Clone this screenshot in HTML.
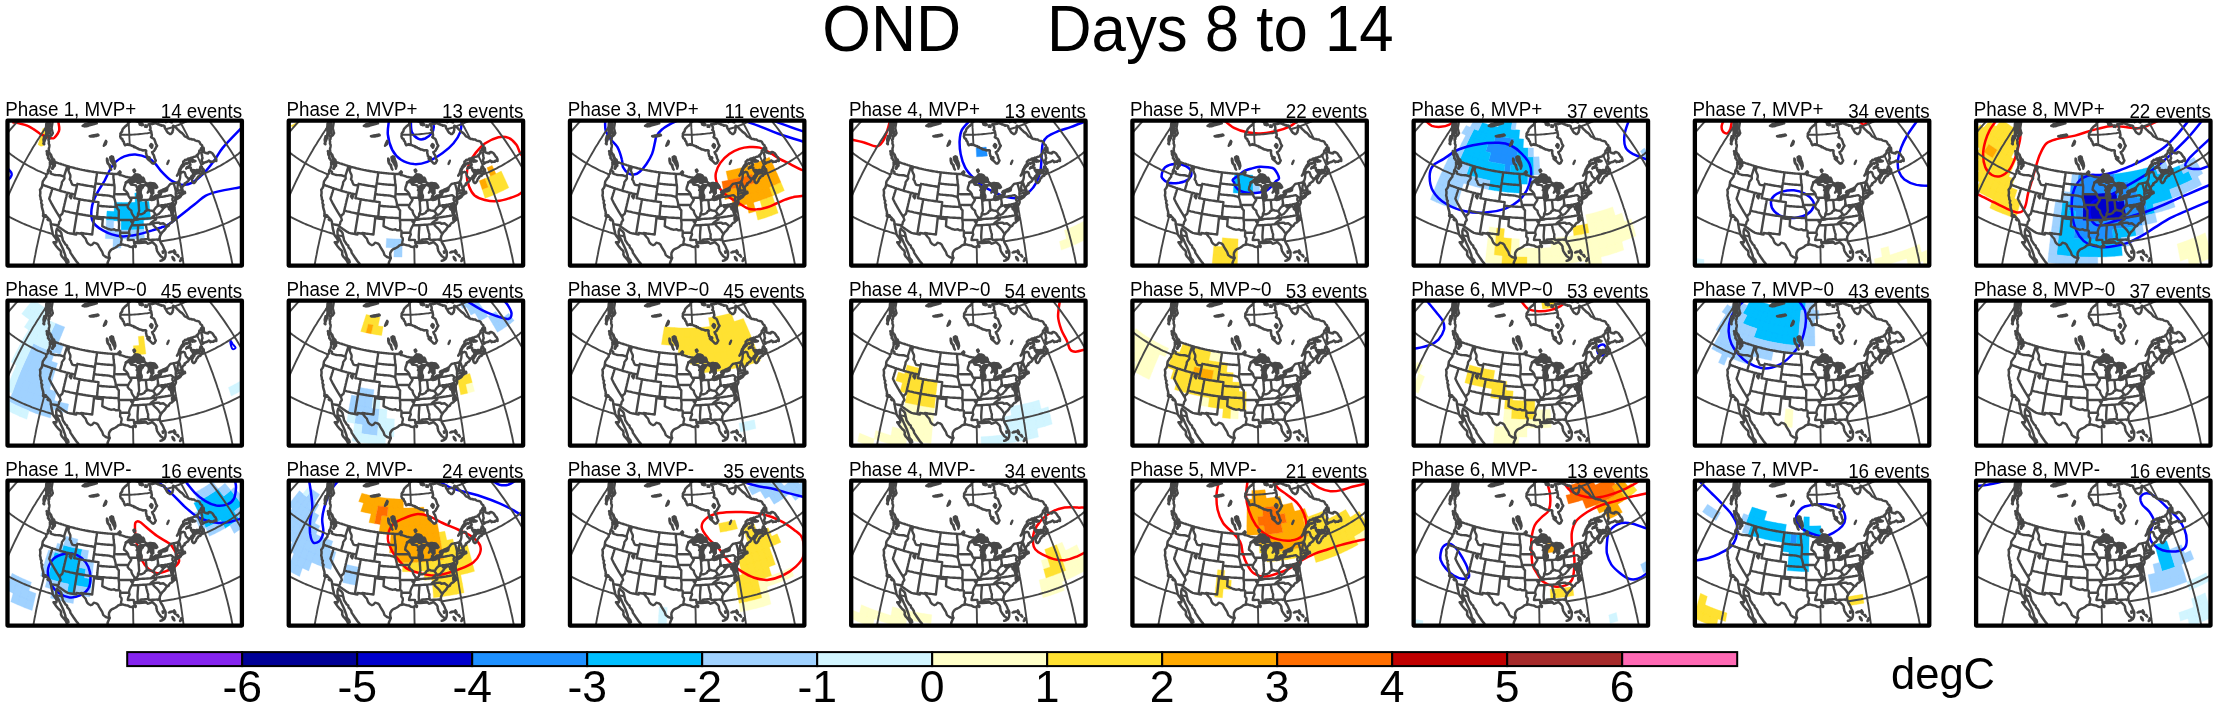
<!DOCTYPE html>
<html><head><meta charset="utf-8"><style>
html,body{margin:0;padding:0;background:#fff;}
svg{display:block;will-change:transform;}
text{font-family:"Liberation Sans",sans-serif;fill:#000;}
</style></head><body>
<svg width="2218" height="708" viewBox="0 0 2218 708">
<defs>
<clipPath id="pc"><rect x="0" y="0" width="234.4" height="144.9"/></clipPath>
<mask id="ocean" maskUnits="userSpaceOnUse" x="-10" y="-10" width="260" height="170"><rect x="-10" y="-10" width="260" height="170" fill="#fff"/><path fill="#000" fill-rule="nonzero" d="M34.1 -19.5L34.0 -18.4L33.8 -17.3L33.7 -16.2L33.6 -15.0L33.7 -14.1L33.9 -13.2L34.0 -12.3L34.5 -11.7L35.1 -11.2L35.6 -10.7L36.1 -10.2L36.7 -9.7L37.1 -8.9L37.6 -8.2L38.1 -7.4L38.6 -6.7L38.8 -5.5L39.1 -4.3L39.3 -3.1L39.4 -1.9L39.7 -0.0L39.6 1.2L39.3 2.7L38.8 4.6L38.7 6.6L38.6 8.7L38.7 10.5L38.5 12.0L38.5 13.9L39.3 14.3L40.1 14.8L41.1 16.0L41.9 16.5L41.6 17.8L41.0 19.2L41.4 21.0L41.4 22.6L41.8 24.4L41.8 26.1L41.7 27.6L41.4 29.1L41.1 30.6L41.3 31.3L42.4 32.8L43.5 34.0L44.2 35.5L44.9 37.0L45.7 38.5L46.9 39.6L47.0 40.6L47.3 41.1L47.7 42.2L47.1 43.4L47.2 45.0L46.4 46.3L45.2 47.6L45.1 46.2L46.1 45.0L46.2 44.3L45.0 43.6L43.8 42.9L42.6 41.7L42.2 43.1L42.1 45.0L41.7 46.8L41.5 48.3L41.1 49.5L40.6 51.1L39.9 52.8L39.0 54.5L38.2 56.1L37.3 57.7L36.3 59.3L35.3 60.7L35.0 62.4L35.0 63.9L34.6 65.7L33.8 67.4L32.5 69.1L32.8 71.0L32.8 72.9L32.5 74.7L33.1 77.0L33.2 78.9L34.1 80.1L33.7 81.5L33.9 83.1L34.8 84.2L34.2 84.8L34.4 86.4L34.9 88.5L35.5 90.3L35.8 91.9L35.6 93.2L35.9 93.6L37.1 94.2L38.4 94.7L39.0 95.9L40.0 96.7L40.9 97.6L41.1 98.2L42.1 98.9L42.7 99.9L43.2 101.5L43.3 102.7L43.4 103.4L43.7 105.4L44.0 107.4L44.5 109.4L45.0 111.4L45.2 113.3L46.6 115.6L48.4 117.9L49.2 120.0L48.9 121.7L46.0 121.5L47.1 123.1L48.6 125.3L50.5 127.6L53.0 130.0L53.6 132.0L53.4 133.7L54.4 135.7L56.4 137.9L58.1 140.1L59.3 142.5L61.0 141.4L60.4 139.5L58.7 137.7L57.9 136.1L57.8 134.7L57.1 132.7L56.4 130.8L55.7 128.8L54.8 126.8L53.8 124.7L52.9 122.7L52.0 120.7L51.1 118.6L49.9 116.5L48.8 114.3L48.8 112.5L48.7 110.6L49.2 108.9L49.6 107.8L50.7 109.2L52.6 110.5L53.8 112.3L54.1 113.8L54.4 115.7L55.0 117.7L55.3 119.6L56.8 121.8L58.1 123.9L59.5 124.9L59.9 126.8L61.3 128.2L62.6 130.3L63.0 132.2L64.4 134.2L65.8 136.3L67.2 138.3L68.6 140.3L70.4 142.4L70.9 143.5L72.7 146.3L73.2 148.1L74.0 150.0L74.2 151.7L73.8 153.1L72.7 154.3L73.2 155.7L74.8 157.7L76.4 158.6L78.7 160.3L80.7 162.2L83.4 163.2L86.1 164.8L88.5 166.4L91.5 168.0L94.6 169.3L96.4 169.9L98.1 170.5L99.9 171.1L101.6 171.7L103.4 172.5L105.1 172.2L106.9 171.9L109.4 171.0L112.2 171.4L114.7 173.4L116.5 174.7L118.2 176.1L120.4 177.4L122.5 178.6L124.7 179.9L126.5 180.2L128.3 180.4L130.0 180.7L131.8 180.9L133.6 181.2L135.4 181.1L137.2 181.0L139.0 180.8L140.8 180.7L142.5 180.6L144.3 180.4L146.1 180.2L147.9 180.1L147.8 178.4L147.7 176.8L147.7 175.2L147.6 173.5L147.5 171.9L145.7 171.6L144.0 171.4L142.2 171.1L140.4 170.8L138.7 171.1L136.9 171.4L135.2 171.6L133.4 171.8L131.7 172.1L132.3 169.7L132.4 168.0L132.6 166.3L133.2 164.6L133.9 162.9L134.3 161.1L134.8 159.4L135.3 157.7L135.7 155.9L136.0 154.2L136.3 152.4L134.6 152.4L132.9 152.3L131.2 152.7L129.5 153.1L126.7 153.6L125.0 154.7L124.6 156.4L124.1 158.8L123.4 160.6L121.0 162.6L119.3 163.0L116.8 163.5L114.0 164.0L110.9 164.5L109.5 163.9L108.1 162.9L106.0 161.8L105.0 160.7L104.0 159.3L103.3 157.9L101.7 156.1L100.7 154.4L100.1 152.3L99.5 149.8L99.6 147.3L100.0 144.6L100.1 142.1L100.8 140.4L101.6 138.6L102.1 137.1L101.7 135.8L101.4 134.0L101.6 132.2L102.5 130.5L103.2 129.5L104.5 128.4L106.2 127.8L108.1 126.8L109.6 125.7L110.4 125.0L111.7 124.3L113.1 124.0L114.3 123.8L115.8 123.9L117.4 124.4L118.4 124.6L120.0 124.7L121.3 125.4L122.6 126.1L124.2 126.3L125.3 125.9L126.1 125.3L127.4 126.0L128.1 126.3L128.3 125.2L127.0 124.2L127.0 123.1L126.7 122.1L127.6 121.5L128.8 121.2L130.1 121.4L131.2 121.7L131.5 120.4L132.0 121.6L133.3 121.6L134.9 121.1L136.4 120.8L137.4 120.9L138.7 121.5L139.7 122.4L140.2 123.0L141.6 122.7L143.2 121.9L144.4 121.4L145.4 121.8L146.8 123.1L148.1 124.4L148.9 125.8L148.9 127.6L149.3 128.6L149.4 129.7L149.8 130.7L150.7 132.0L151.5 133.4L152.4 134.3L153.0 135.3L154.7 136.5L155.8 137.6L157.1 137.3L157.7 136.5L158.0 135.2L158.1 133.2L158.1 131.4L157.3 129.7L156.5 128.0L155.7 126.0L155.0 124.6L153.9 123.0L152.9 120.9L152.4 119.2L152.1 118.1L152.2 116.7L152.6 115.2L153.5 113.2L154.4 112.0L156.2 110.1L157.7 108.5L158.4 107.0L159.7 105.5L161.2 105.0L161.6 103.8L162.9 102.3L164.8 101.4L165.8 100.1L167.7 98.8L167.6 97.5L166.8 96.2L165.8 94.3L165.2 93.0L164.3 93.1L164.1 91.9L163.9 90.8L163.7 89.3L163.2 88.3L162.7 86.9L162.8 85.8L162.8 84.6L163.3 83.6L163.7 84.1L163.3 85.7L163.4 86.8L164.3 88.1L164.8 89.1L165.0 91.0L165.2 92.4L165.9 90.8L166.4 89.2L166.8 87.6L166.5 85.8L165.4 84.9L164.7 83.5L164.8 82.4L165.4 83.4L166.0 84.0L166.7 85.0L166.7 85.2L167.6 83.7L168.4 82.0L168.4 80.5L168.2 79.2L167.5 79.2L167.8 78.7L168.1 77.9L168.6 77.2L169.1 76.8L169.8 76.2L170.5 75.7L172.0 75.2L173.1 74.7L174.0 74.3L174.9 73.6L176.1 72.9L177.6 72.3L177.3 71.1L176.6 71.0L176.1 72.2L175.5 71.6L174.4 70.5L174.6 69.7L175.1 69.2L174.3 68.6L174.5 67.8L174.9 66.4L175.1 65.4L176.0 64.6L177.1 63.9L177.6 63.0L178.4 62.0L179.3 61.5L180.1 60.9L180.9 60.1L181.7 59.2L181.6 58.7L181.2 58.1L182.3 57.3L183.6 56.5L184.8 55.3L185.6 54.2L186.1 53.5L187.0 55.1L186.0 56.1L185.1 57.1L184.5 58.5L184.2 59.8L184.7 61.6L185.8 62.3L186.9 62.5L187.8 61.3L188.4 59.9L189.5 57.9L190.0 57.0L191.0 56.2L192.5 54.8L193.6 53.6L194.7 52.4L194.3 51.4L195.2 50.6L196.2 49.4L195.9 48.3L194.6 47.3L193.4 46.2L192.8 47.2L192.5 48.9L192.7 50.8L191.9 51.9L190.2 52.8L188.5 52.8L187.1 52.6L185.7 52.3L184.8 51.1L183.6 49.9L183.5 46.8L182.4 46.6L180.5 46.9L179.0 47.6L179.5 46.6L181.2 45.3L182.8 43.9L182.9 42.9L182.0 42.3L180.8 42.3L179.7 42.6L178.6 42.9L177.0 44.0L175.7 45.5L174.2 47.1L172.8 49.5L171.7 51.7L170.9 53.8L169.7 54.9L170.5 53.5L171.5 51.7L171.8 49.4L172.9 47.5L173.9 45.3L175.3 43.7L175.7 42.8L175.9 40.8L177.4 39.6L178.4 39.2L179.4 38.8L180.5 38.4L181.5 38.1L182.6 37.8L183.6 37.4L184.6 37.0L185.6 36.6L186.6 36.2L187.6 35.7L188.6 35.3L189.6 35.0L190.7 33.8L191.4 31.8L192.5 29.7L193.3 28.6L193.9 27.9L194.8 26.2L194.3 24.4L193.1 23.0L192.4 21.3L190.1 20.4L188.0 19.7L186.4 19.3L184.5 18.9L182.5 18.2L180.4 17.5L178.7 16.7L177.0 15.4L176.1 13.8L174.8 12.4L173.1 11.1L171.5 9.8L170.1 8.4L168.5 7.1L166.9 5.8L165.8 4.8L165.6 5.5L165.6 7.0L165.6 8.5L165.7 10.0L165.1 11.3L164.2 12.3L163.4 13.3L162.1 13.0L160.5 12.3L159.3 11.2L158.4 9.3L157.4 7.7L157.0 5.6L155.6 5.3L154.2 4.9L152.7 4.2L151.6 3.8L150.5 3.3L149.5 3.0L148.5 2.7L147.6 2.6L146.7 2.4L145.8 2.8L144.8 3.2L144.0 3.1L143.1 3.1L142.3 3.1L141.4 3.8L142.6 6.7L142.5 9.2L144.2 11.8L144.4 14.2L143.8 16.5L145.0 17.2L146.1 17.9L147.3 19.8L148.2 21.8L149.0 23.4L149.3 25.2L148.6 26.8L147.9 28.4L147.0 29.2L146.2 30.1L144.7 31.4L145.7 33.1L146.5 34.8L147.0 36.5L147.6 38.3L148.0 40.1L147.9 41.9L146.7 42.8L144.6 42.8L144.2 41.7L142.5 40.1L141.2 38.8L140.0 37.9L139.7 36.1L139.4 34.0L138.8 31.9L138.6 30.1L137.9 29.7L136.0 29.7L134.9 29.4L133.8 29.2L132.1 28.6L130.8 28.2L129.5 27.8L128.2 27.0L126.9 26.2L125.8 25.5L124.6 24.9L123.4 24.5L122.2 24.2L121.2 23.9L120.2 23.6L118.9 24.0L117.6 24.3L116.8 22.9L115.8 21.1L115.1 18.7L113.9 18.4L113.0 17.6L112.9 15.8L113.1 14.1L113.4 12.0L114.3 10.3L115.2 8.9L116.3 7.2L117.3 5.9L118.1 5.2L119.0 4.5L120.1 3.1L120.2 1.7L121.1 1.2L122.0 0.8L122.9 0.3L123.8 -0.1L124.8 -0.5L126.1 -1.6L126.2 -3.3L126.2 -5.0L126.4 -6.7L126.6 -8.4L125.8 -8.9L125.0 -9.5L124.2 -10.1L123.5 -10.6L122.7 -11.2L122.0 -11.8L121.2 -12.4L120.5 -13.0L119.8 -13.1L119.1 -13.3L118.4 -13.4L117.7 -13.6L117.1 -13.7L116.4 -13.9L115.7 -14.1L115.0 -14.3L114.4 -14.4L113.7 -14.6L113.0 -14.8L112.4 -15.0L111.7 -15.2L111.0 -15.4L110.4 -15.6L109.7 -15.8L109.1 -16.0L108.5 -16.2L107.8 -16.4L107.2 -16.6L106.5 -16.7L105.9 -16.7L105.2 -16.8L104.6 -16.8L103.9 -16.9L103.3 -17.0L102.6 -17.1L102.0 -17.2L101.3 -17.2L100.7 -17.3L100.1 -17.4L99.4 -17.5L98.8 -17.6L98.1 -17.7L97.5 -17.8L96.9 -18.0L96.2 -18.1L95.6 -18.2L95.0 -18.3L94.3 -18.4L93.7 -18.6L93.1 -18.7L92.5 -18.8L91.8 -19.0L91.2 -19.1L90.6 -19.3L90.0 -19.4L89.4 -19.6L88.7 -19.7L88.1 -19.9L87.5 -20.1L86.9 -20.2L86.3 -20.4L85.7 -20.6L85.1 -20.8L84.5 -21.0L83.9 -21.1L83.3 -21.3L82.7 -21.5L82.2 -21.7L81.6 -22.0L81.1 -22.3L80.5 -22.6L80.0 -22.8L79.5 -23.1L78.9 -23.4L78.4 -23.7L77.9 -24.0L77.4 -24.3L76.9 -24.6L76.4 -24.9L75.9 -25.2L75.4 -25.5L74.9 -25.8L74.4 -26.1L73.9 -26.4L73.5 -26.8L73.0 -27.1L72.5 -27.4L72.1 -27.7L71.6 -28.1L71.2 -28.4L70.7 -28.7L70.3 -29.1L69.8 -29.4L69.4 -29.7L69.0 -30.1L68.5 -30.4L68.1 -30.8L67.7 -31.1L67.3 -31.4L66.9 -31.8L66.5 -32.2L66.1 -32.5L65.7 -32.9L65.3 -33.2L64.9 -33.6L64.6 -33.9L64.2 -34.3L63.8 -34.7L63.5 -35.1L63.1 -35.4L62.8 -35.8L62.5 -36.2L62.2 -36.6L61.8 -37.0L61.5 -37.4L61.2 -37.8L60.9 -38.2L60.6 -38.6L60.3 -39.0L60.0 -39.3L59.8 -39.7L59.5 -40.1L59.2 -40.5L59.0 -40.9L58.7 -41.3L58.4 -41.7L58.2 -42.2L58.0 -42.6L57.7 -43.0L57.5 -43.4L57.3 -43.8L57.1 -44.2L56.8 -44.6L56.6 -45.0L56.4 -45.4L56.2 -45.8L56.0 -46.2L55.9 -46.6L55.7 -47.0L55.5 -47.5L54.5 -47.3L53.4 -47.2L52.4 -47.1L51.3 -47.0L50.3 -46.9L49.2 -46.8L48.2 -46.7L47.1 -46.7L46.1 -46.6L45.0 -46.6L44.0 -46.5L42.9 -46.5L41.9 -46.4L40.9 -46.4L39.8 -46.4L38.8 -46.4L37.8 -46.4L36.7 -46.4L35.7 -46.4L34.7 -46.5L33.7 -46.5L32.7 -46.5L31.7 -46.6L30.7 -46.6L30.6 -46.0L30.5 -45.3L30.4 -44.7L30.4 -44.0L30.3 -43.4L30.3 -42.7L30.3 -42.1L30.2 -41.4L30.2 -40.7L30.2 -40.1L30.2 -39.4L30.2 -38.7L30.2 -38.1L30.3 -37.4L30.3 -36.7L30.4 -36.0L30.4 -35.4L30.5 -34.7L30.5 -34.0L30.6 -33.3L30.7 -32.6L30.8 -32.0L30.9 -31.3L31.0 -30.6L31.2 -29.9L31.3 -29.2L31.4 -28.5L31.6 -27.8L31.8 -27.1L31.9 -26.4L32.1 -25.8L32.3 -25.1L32.5 -24.4L32.7 -23.7L32.9 -23.0L33.1 -22.3L33.4 -21.6L33.6 -20.9L33.9 -20.2L34.1 -19.5ZM39.1 30.5L39.5 31.9L39.5 33.5L40.4 35.5L41.0 37.3L41.7 38.9L42.8 40.9L44.1 42.2L45.0 43.0L45.9 42.1L45.4 40.4L44.7 38.1L43.8 35.8L42.7 33.7L41.4 32.3L40.3 31.4L39.1 30.5ZM36.8 15.5L36.3 17.1L36.0 19.0L36.3 21.7L36.6 23.9L36.8 22.3L36.8 20.7L37.2 19.3L38.3 17.8L39.0 16.9L37.9 16.2L36.8 15.5ZM39.4 1.1L38.9 3.3L38.8 5.0L38.6 7.0L38.1 8.4L40.4 7.2L41.0 5.1L41.2 3.5L41.2 1.8L40.3 1.5L39.4 1.1ZM39.9 8.6L39.3 9.9L38.9 11.8L38.7 13.8L40.2 13.8L41.1 11.8L40.9 10.0L39.9 8.6ZM195.0 43.1L194.3 39.8L194.9 37.5L194.9 35.5L194.3 32.9L194.2 29.8L194.8 28.7L195.3 27.6L195.9 26.5L196.4 28.7L196.3 30.8L198.1 32.4L199.9 32.7L201.0 32.1L202.2 31.5L203.4 31.7L205.6 33.9L206.9 35.3L208.1 36.7L208.8 38.8L208.8 40.3L207.6 39.9L206.2 40.2L205.1 41.4L203.5 40.7L202.7 41.6L201.7 40.0L200.7 40.5L199.7 41.0L198.7 41.5L197.5 42.0L196.2 42.6L195.0 43.1ZM187.9 40.3L186.0 39.7L184.8 39.7L183.6 39.7L182.4 39.7L181.2 39.7L181.1 40.3L182.4 40.4L183.7 40.5L185.2 40.5L186.8 40.5L187.9 40.3ZM191.5 50.9L190.9 49.4L189.7 49.5L188.5 49.6L187.3 49.8L185.6 49.4L185.4 50.8L187.1 51.4L188.8 51.1L190.5 51.5L191.5 50.9ZM168.1 78.8L169.4 78.4L170.6 77.7L172.1 76.8L173.3 75.7L172.2 76.3L171.2 76.6L169.4 77.2L168.6 77.6L168.0 78.3L168.1 78.8ZM136.4 -0.3L135.7 -0.0L134.9 0.3L134.2 0.5L133.4 0.8L132.6 0.8L131.7 0.8L130.9 0.8L130.1 0.8L129.2 0.2L128.3 -0.4L127.4 -1.0L126.6 -1.6L126.4 -3.3L126.2 -5.0L126.9 -5.4L127.7 -5.8L128.4 -6.2L129.1 -6.6L129.7 -7.0L130.5 -6.7L131.3 -6.5L132.1 -6.2L132.9 -6.0L133.8 -5.7L134.8 -4.2L136.0 -2.6L136.4 -0.3ZM135.6 4.0L134.8 4.2L134.0 4.5L133.1 3.9L132.1 3.3L132.9 2.7L133.6 2.1L135.1 3.0L135.6 4.0ZM139.4 5.9L138.6 6.0L137.8 6.1L137.9 4.9L139.3 5.2L139.4 5.9ZM144.7 26.0L143.8 26.9L142.9 25.2L143.7 23.3L144.8 24.6L144.7 26.0ZM142.2 38.0L140.2 37.9L140.7 36.7L142.7 36.8L142.2 38.0ZM160.9 -0.3L160.4 0.4L159.8 1.1L158.9 1.0L158.0 1.0L157.1 0.9L156.2 0.8L155.2 0.7L154.3 0.6L153.4 0.4L152.6 0.4L151.7 0.4L150.8 0.4L149.9 0.3L149.0 0.1L148.1 -0.0L147.2 -0.2L146.3 -0.7L145.3 -1.2L144.3 -1.7L143.3 -2.2L142.1 -3.7L140.9 -5.2L139.7 -6.7L138.5 -8.2L139.2 -8.5L139.9 -8.8L140.5 -9.2L141.2 -9.5L141.8 -9.8L142.5 -10.2L143.1 -10.5L143.7 -10.9L144.3 -11.3L145.0 -11.6L145.6 -12.0L146.2 -12.3L146.8 -12.7L147.4 -13.1L148.0 -13.5L148.6 -13.8L149.4 -13.5L150.3 -13.2L151.2 -12.8L152.1 -12.5L153.0 -12.2L153.9 -11.9L154.9 -11.6L155.8 -11.3L156.7 -11.0L157.7 -10.7L158.6 -10.4L159.5 -10.2L160.2 -8.6L160.8 -6.9L161.4 -5.3L162.0 -3.7L161.7 -2.6L161.3 -1.5L160.9 -0.3ZM164.4 1.8L162.9 1.2L164.0 0.5L164.4 1.8ZM35.5 95.1L38.1 95.9L37.9 96.2L35.8 95.6L35.5 95.1ZM40.0 98.8L40.7 99.6L40.9 99.5L40.0 98.8ZM143.2 150.7L144.9 148.6L147.2 147.1L149.5 146.0L151.4 145.3L154.1 144.8L155.8 144.7L157.4 144.7L160.5 145.3L162.2 145.7L163.9 146.1L166.6 146.4L169.8 147.4L172.0 148.1L174.3 148.8L177.1 149.6L179.7 150.8L178.0 151.7L176.4 152.5L174.6 152.9L172.9 153.3L171.1 153.6L168.1 154.3L166.8 151.6L163.9 149.3L161.2 149.4L158.8 149.4L156.5 149.3L154.7 148.2L152.4 148.8L149.8 150.2L147.6 150.4L145.4 150.5L143.2 150.7ZM161.4 131.8L163.0 131.0L164.6 130.9L162.7 131.6L161.4 131.8ZM167.5 133.1L165.9 130.9L166.7 129.6L167.9 131.6L167.5 133.1ZM166.9 139.6L165.4 138.1L164.9 136.2L166.3 137.6L166.9 139.6ZM171.1 136.0L169.2 134.2L170.2 134.4L171.1 136.0ZM172.6 140.3L173.6 137.6L174.1 139.0L172.6 140.3ZM184.2 150.8L186.1 150.5L188.0 150.2L189.9 149.9L191.8 149.6L193.4 149.6L195.1 149.6L196.7 149.6L199.0 151.7L197.4 152.4L195.8 153.1L194.1 153.7L192.5 154.4L190.8 155.0L189.0 155.5L187.1 155.9L185.2 156.3L183.4 156.6L181.5 157.0L179.6 157.4L180.1 155.9L182.2 153.4L184.2 150.8ZM166.5 159.2L168.2 158.9L169.9 158.6L171.5 158.3L173.2 158.0L173.4 160.0L171.6 160.4L169.8 160.7L168.0 161.0L166.5 159.2ZM196.5 -8.9L195.5 -9.0L194.4 -9.0L193.3 -9.0L192.3 -9.0L191.2 -9.2L190.1 -9.3L189.0 -9.4L187.9 -9.6L186.9 -9.8L185.4 -10.4L183.9 -11.1L182.5 -11.8L181.0 -12.5L179.3 -13.6L177.6 -14.6L175.9 -15.7L174.3 -16.8L173.1 -18.2L172.0 -19.6L170.8 -20.9L169.7 -22.3L168.6 -23.7L167.4 -25.0L166.3 -26.4L165.1 -27.7L164.0 -29.0L162.8 -30.4L163.3 -30.6L163.8 -30.9L164.2 -31.2L164.7 -31.4L165.2 -31.7L165.6 -32.0L166.1 -32.3L166.6 -32.6L167.0 -32.8L167.5 -33.1L167.9 -33.4L168.4 -33.7L168.8 -34.0L169.2 -34.3L169.6 -34.6L170.1 -34.9L170.5 -35.2L170.9 -35.5L171.3 -35.9L171.7 -36.2L172.1 -36.5L172.5 -36.8L172.9 -37.1L173.3 -37.5L173.7 -37.8L174.1 -38.1L174.5 -38.4L174.9 -38.8L175.2 -39.1L175.6 -39.4L175.9 -39.8L176.3 -40.1L176.7 -40.5L177.0 -40.8L177.3 -41.2L177.7 -41.5L178.0 -41.8L178.3 -42.2L178.7 -42.6L179.0 -42.9L179.3 -43.3L179.6 -43.6L179.9 -44.0L180.2 -44.4L180.5 -44.7L180.8 -45.1L181.1 -45.5L181.4 -45.8L181.6 -46.2L181.9 -46.6L182.2 -46.9L182.4 -47.3L182.7 -47.7L183.0 -48.1L183.2 -48.5L183.4 -48.8L184.1 -47.9L184.7 -47.0L185.3 -46.1L185.9 -45.2L186.5 -44.2L187.0 -43.3L187.6 -42.3L188.1 -41.4L188.6 -40.4L189.1 -39.4L189.6 -38.4L190.1 -37.3L190.5 -36.3L191.0 -35.3L191.4 -34.2L191.8 -33.2L192.2 -32.1L192.6 -31.0L193.0 -29.9L193.3 -28.8L193.6 -27.7L193.9 -26.6L194.2 -25.5L194.5 -24.4L194.8 -23.2L195.0 -22.1L195.2 -20.9L195.5 -19.8L195.6 -18.6L195.8 -17.4L196.0 -16.2L196.1 -15.0L196.2 -13.8L196.3 -12.6L196.4 -11.4L196.5 -10.2L196.5 -8.9Z"/></mask>
<g id="map" fill="none" stroke="#474747" stroke-width="1.9" stroke-linejoin="round" stroke-linecap="round">
<path mask="url(#ocean)" d="M-93.7 88.9L-93.6 86.1L-93.5 83.4L-93.4 80.6L-93.2 77.8L-92.9 75.1L-92.5 72.3L-92.1 69.5L-91.6 66.8L-91.1 64.0L-90.5 61.2L-89.8 58.5L-89.1 55.8L-88.3 53.0L-87.4 50.3L-86.5 47.6L-85.5 44.9L-84.5 42.2L-83.4 39.5L-82.2 36.9L-81.0 34.2L-79.7 31.6L-78.4 29.0L-76.9 26.4L-75.5 23.8L-74.0 21.2L-72.4 18.7L-70.7 16.1L-69.0 13.6L-67.3 11.1L-65.5 8.7L-63.6 6.2L-61.7 3.8L-59.7 1.4L-57.7 -1.0L-55.6 -3.3L-53.5 -5.6L-51.3 -7.9L-49.1 -10.2L-46.8 -12.4L-44.4 -14.7L-42.1 -16.8L-39.6 -19.0L-37.1 -21.1L-34.6 -23.2L-32.0 -25.3L-29.4 -27.3L-26.8 -29.3L-24.0 -31.2L-21.3 -33.1L-18.5 -35.0L-15.7 -36.9L-12.8 -38.7L-9.9 -40.5L-6.9 -42.2L-3.9 -43.9L-0.9 -45.6L2.2 -47.2L5.3 -48.8L8.4 -50.3L11.5 -51.8L14.7 -53.3L18.0 -54.7L21.2 -56.1L24.5 -57.4L27.8 -58.7L31.2 -60.0L34.5 -61.2L37.9 -62.4L41.4 -63.5L44.8 -64.6L48.3 -65.6L51.7 -66.6L55.2 -67.5L58.8 -68.4L62.3 -69.3L65.9 -70.1L69.4 -70.8L73.0 -71.5L76.6 -72.2L80.2 -72.8L83.8 -73.4L87.5 -73.9L91.1 -74.4L94.8 -74.8L98.4 -75.2M-83.9 124.5L-83.9 121.7L-83.8 118.9L-83.7 116.1L-83.4 113.3L-83.2 110.5L-82.8 107.7L-82.4 104.8L-82.0 102.0L-81.5 99.1L-80.9 96.3L-80.2 93.4L-79.5 90.6L-78.8 87.7L-78.0 84.8L-77.1 82.0L-76.2 79.1L-75.2 76.2L-74.1 73.4L-73.0 70.5L-71.8 67.7L-70.6 64.8L-69.3 62.0L-68.0 59.1L-66.6 56.3L-65.1 53.5L-63.6 50.6L-62.1 47.8L-60.4 45.0L-58.8 42.3L-57.0 39.5L-55.3 36.7L-53.4 34.0L-51.5 31.2L-49.6 28.5L-47.6 25.8L-45.6 23.1L-43.5 20.5L-41.4 17.8L-39.2 15.2L-37.0 12.6L-34.7 10.0L-32.4 7.5L-30.0 4.9L-27.6 2.4L-25.1 -0.1L-22.6 -2.6L-20.1 -5.0L-17.5 -7.4L-14.9 -9.8L-12.2 -12.2L-9.5 -14.5L-6.8 -16.8L-4.0 -19.1L-1.2 -21.3L1.7 -23.5L4.5 -25.7L7.5 -27.8L10.4 -29.9L13.4 -32.0L16.4 -34.0L19.5 -36.0L22.5 -38.0L25.7 -39.9L28.8 -41.8L32.0 -43.7L35.1 -45.5L38.4 -47.3L41.6 -49.0L44.8 -50.7L48.1 -52.4L51.4 -54.0L54.8 -55.6L58.1 -57.1L61.5 -58.6L64.8 -60.1L68.2 -61.5L71.6 -62.8L75.0 -64.1L78.5 -65.4L81.9 -66.7L85.4 -67.8L88.8 -69.0L92.3 -70.1L95.8 -71.1L99.3 -72.1M-60.5 157.2L-60.5 154.4L-60.4 151.6L-60.3 148.8L-60.1 146.0L-59.8 143.1L-59.5 140.2L-59.2 137.3L-58.8 134.4L-58.3 131.5L-57.8 128.5L-57.2 125.6L-56.6 122.6L-56.0 119.6L-55.2 116.6L-54.5 113.6L-53.6 110.6L-52.8 107.5L-51.8 104.5L-50.8 101.5L-49.8 98.4L-48.7 95.4L-47.6 92.3L-46.4 89.2L-45.2 86.2L-43.9 83.1L-42.6 80.1L-41.2 77.0L-39.7 73.9L-38.3 70.9L-36.7 67.8L-35.2 64.8L-33.6 61.7L-31.9 58.7L-30.2 55.7L-28.4 52.6L-26.6 49.6L-24.8 46.6L-22.9 43.6L-21.0 40.6L-19.0 37.7L-17.0 34.7L-15.0 31.8L-12.9 28.8L-10.7 25.9L-8.6 23.0L-6.4 20.2L-4.1 17.3L-1.8 14.5L0.5 11.7L2.8 8.9L5.2 6.1L7.6 3.4L10.1 0.6L12.6 -2.1L15.1 -4.7L17.6 -7.4L20.2 -10.0L22.8 -12.6L25.5 -15.2L28.1 -17.7L30.8 -20.2L33.5 -22.7L36.3 -25.1L39.1 -27.5L41.9 -29.9L44.7 -32.2L47.5 -34.5L50.4 -36.8L53.2 -39.0L56.1 -41.2L59.1 -43.4L62.0 -45.5L64.9 -47.6L67.9 -49.6L70.9 -51.6L73.9 -53.6L76.9 -55.5L79.9 -57.3L82.9 -59.2L86.0 -61.0L89.0 -62.7L92.1 -64.4L95.2 -66.1L98.2 -67.7L101.3 -69.3M-25.0 184.8L-25.0 182.0L-24.9 179.2L-24.8 176.4L-24.6 173.5L-24.4 170.6L-24.2 167.7L-23.9 164.7L-23.6 161.7L-23.2 158.7L-22.8 155.7L-22.4 152.7L-21.9 149.6L-21.4 146.5L-20.8 143.4L-20.2 140.3L-19.5 137.1L-18.8 133.9L-18.1 130.8L-17.3 127.6L-16.4 124.4L-15.6 121.1L-14.7 117.9L-13.7 114.7L-12.7 111.4L-11.7 108.1L-10.6 104.9L-9.5 101.6L-8.4 98.3L-7.2 95.0L-6.0 91.7L-4.7 88.4L-3.4 85.1L-2.1 81.8L-0.8 78.5L0.6 75.3L2.1 72.0L3.6 68.7L5.1 65.4L6.6 62.1L8.2 58.8L9.8 55.6L11.4 52.3L13.1 49.0L14.8 45.8L16.5 42.6L18.3 39.4L20.1 36.2L21.9 33.0L23.8 29.8L25.6 26.6L27.6 23.5L29.5 20.4L31.5 17.3L33.4 14.2L35.5 11.1L37.5 8.1L39.6 5.0L41.6 2.0L43.8 -0.9L45.9 -3.9L48.0 -6.8L50.2 -9.7L52.4 -12.6L54.6 -15.4L56.9 -18.2L59.1 -21.0L61.4 -23.7L63.7 -26.4L66.0 -29.1L68.3 -31.8L70.6 -34.4L73.0 -36.9L75.3 -39.5L77.7 -42.0L80.1 -44.4L82.5 -46.9L84.9 -49.3L87.3 -51.6L89.7 -53.9L92.2 -56.2L94.6 -58.4L97.0 -60.6L99.5 -62.7L102.0 -64.8L104.4 -66.8M20.2 205.5L20.2 202.7L20.2 199.9L20.3 197.0L20.4 194.1L20.5 191.2L20.7 188.2L20.9 185.2L21.1 182.2L21.4 179.1L21.6 176.0L22.0 172.9L22.3 169.8L22.7 166.6L23.0 163.4L23.5 160.2L23.9 156.9L24.4 153.7L24.9 150.4L25.4 147.1L26.0 143.7L26.6 140.4L27.2 137.0L27.9 133.7L28.5 130.3L29.2 126.8L30.0 123.4L30.7 120.0L31.5 116.5L32.3 113.1L33.1 109.6L34.0 106.1L34.9 102.6L35.8 99.1L36.7 95.7L37.6 92.2L38.6 88.7L39.6 85.1L40.7 81.6L41.7 78.1L42.8 74.6L43.9 71.1L45.0 67.6L46.1 64.1L47.3 60.6L48.5 57.2L49.7 53.7L50.9 50.2L52.1 46.8L53.4 43.3L54.7 39.9L56.0 36.5L57.3 33.1L58.6 29.7L60.0 26.3L61.4 22.9L62.8 19.6L64.2 16.3L65.6 13.0L67.0 9.7L68.5 6.4L69.9 3.2L71.4 -0.0L72.9 -3.2L74.4 -6.3L75.9 -9.5L77.5 -12.6L79.0 -15.7L80.6 -18.7L82.2 -21.7L83.7 -24.7L85.3 -27.7L86.9 -30.6L88.5 -33.5L90.1 -36.3L91.8 -39.1L93.4 -41.9L95.0 -44.6L96.7 -47.3L98.3 -50.0L100.0 -52.6L101.7 -55.2L103.3 -57.7L105.0 -60.2L106.7 -62.6L108.4 -65.0M71.9 217.7L71.9 214.9L72.0 212.1L72.0 209.2L72.0 206.3L72.1 203.4L72.2 200.4L72.3 197.4L72.4 194.3L72.5 191.2L72.6 188.1L72.8 184.9L72.9 181.7L73.1 178.5L73.3 175.3L73.5 172.0L73.7 168.7L73.9 165.4L74.1 162.0L74.4 158.7L74.6 155.3L74.9 151.8L75.2 148.4L75.5 144.9L75.8 141.4L76.1 137.9L76.5 134.4L76.8 130.9L77.2 127.3L77.6 123.8L77.9 120.2L78.3 116.6L78.7 113.0L79.2 109.4L79.6 105.8L80.0 102.2L80.5 98.6L81.0 94.9L81.4 91.3L81.9 87.6L82.4 84.0L82.9 80.4L83.4 76.7L84.0 73.1L84.5 69.5L85.1 65.8L85.6 62.2L86.2 58.6L86.8 55.0L87.4 51.4L87.9 47.8L88.6 44.2L89.2 40.6L89.8 37.0L90.4 33.5L91.1 30.0L91.7 26.4L92.3 22.9L93.0 19.5L93.7 16.0L94.3 12.6L95.0 9.1L95.7 5.7L96.4 2.4L97.1 -1.0L97.8 -4.3L98.5 -7.6L99.2 -10.9L100.0 -14.1L100.7 -17.3L101.4 -20.5L102.2 -23.7L102.9 -26.8L103.7 -29.9L104.4 -32.9L105.2 -35.9L105.9 -38.9L106.7 -41.9L107.4 -44.8L108.2 -47.6L109.0 -50.5L109.8 -53.3L110.5 -56.0L111.3 -58.7L112.1 -61.4L112.9 -64.0M126.7 220.7L126.7 217.9L126.7 215.1L126.7 212.2L126.7 209.3L126.7 206.4L126.7 203.4L126.7 200.3L126.6 197.3L126.6 194.2L126.6 191.1L126.6 187.9L126.5 184.7L126.5 181.5L126.4 178.2L126.4 174.9L126.4 171.6L126.3 168.3L126.2 164.9L126.2 161.5L126.1 158.1L126.1 154.6L126.0 151.2L125.9 147.7L125.9 144.2L125.8 140.7L125.7 137.1L125.7 133.6L125.6 130.0L125.5 126.4L125.4 122.8L125.3 119.2L125.2 115.6L125.1 111.9L125.0 108.3L124.9 104.7L124.8 101.0L124.7 97.3L124.6 93.7L124.5 90.0L124.4 86.3L124.3 82.6L124.2 79.0L124.1 75.3L123.9 71.6L123.8 68.0L123.7 64.3L123.6 60.6L123.4 57.0L123.3 53.3L123.2 49.7L123.0 46.1L122.9 42.5L122.8 38.9L122.6 35.3L122.5 31.7L122.3 28.1L122.2 24.6L122.1 21.1L121.9 17.6L121.8 14.1L121.6 10.6L121.4 7.2L121.3 3.7L121.1 0.3L121.0 -3.0L120.8 -6.4L120.7 -9.7L120.5 -13.0L120.3 -16.3L120.2 -19.5L120.0 -22.7L119.8 -25.9L119.7 -29.0L119.5 -32.1L119.3 -35.2L119.2 -38.2L119.0 -41.2L118.8 -44.1L118.7 -47.1L118.5 -49.9L118.3 -52.8L118.2 -55.6L118.0 -58.3L117.8 -61.0L117.6 -63.7M180.9 214.3L180.9 211.5L180.8 208.7L180.8 205.8L180.7 202.9L180.6 200.0L180.5 197.0L180.4 194.0L180.2 190.9L180.1 187.9L179.9 184.7L179.7 181.6L179.5 178.4L179.2 175.2L179.0 172.0L178.7 168.7L178.4 165.4L178.1 162.1L177.7 158.8L177.4 155.4L177.0 152.1L176.6 148.7L176.2 145.2L175.8 141.8L175.3 138.3L174.9 134.9L174.4 131.4L173.9 127.9L173.4 124.3L172.8 120.8L172.3 117.3L171.7 113.7L171.1 110.1L170.5 106.6L169.9 103.0L169.3 99.4L168.6 95.8L168.0 92.2L167.3 88.6L166.6 85.0L165.9 81.4L165.1 77.8L164.4 74.2L163.6 70.6L162.9 67.0L162.1 63.4L161.3 59.8L160.5 56.3L159.7 52.7L158.8 49.1L158.0 45.6L157.1 42.0L156.2 38.5L155.3 35.0L154.4 31.5L153.5 28.0L152.6 24.5L151.7 21.1L150.7 17.7L149.8 14.3L148.8 10.9L147.8 7.5L146.9 4.2L145.9 0.8L144.9 -2.5L143.9 -5.7L142.8 -9.0L141.8 -12.2L140.8 -15.4L139.7 -18.5L138.7 -21.7L137.6 -24.8L136.6 -27.8L135.5 -30.9L134.4 -33.9L133.4 -36.8L132.3 -39.7L131.2 -42.6L130.1 -45.5L129.0 -48.3L127.9 -51.1L126.8 -53.8L125.7 -56.5L124.6 -59.1L123.5 -61.7L122.4 -64.3M230.6 198.9L230.6 196.1L230.6 193.3L230.5 190.4L230.3 187.6L230.2 184.6L230.0 181.7L229.8 178.7L229.5 175.7L229.2 172.6L228.9 169.6L228.5 166.5L228.1 163.4L227.7 160.2L227.2 157.0L226.7 153.9L226.2 150.6L225.6 147.4L225.1 144.2L224.4 140.9L223.8 137.6L223.1 134.3L222.3 131.0L221.6 127.6L220.8 124.3L220.0 120.9L219.1 117.5L218.2 114.1L217.3 110.7L216.3 107.3L215.4 103.9L214.4 100.5L213.3 97.1L212.3 93.7L211.2 90.2L210.0 86.8L208.9 83.3L207.7 79.9L206.5 76.5L205.3 73.0L204.0 69.6L202.7 66.2L201.4 62.8L200.0 59.3L198.7 55.9L197.3 52.5L195.9 49.1L194.4 45.8L193.0 42.4L191.5 39.0L190.0 35.7L188.4 32.3L186.9 29.0L185.3 25.7L183.7 22.4L182.1 19.2L180.4 15.9L178.8 12.7L177.1 9.5L175.4 6.3L173.7 3.2L172.0 0.0L170.2 -3.1L168.5 -6.2L166.7 -9.2L164.9 -12.3L163.1 -15.3L161.3 -18.2L159.4 -21.2L157.6 -24.1L155.7 -26.9L153.8 -29.8L152.0 -32.6L150.1 -35.4L148.2 -38.1L146.2 -40.8L144.3 -43.5L142.4 -46.1L140.4 -48.7L138.5 -51.2L136.5 -53.7L134.6 -56.2L132.6 -58.6L130.6 -61.0L128.7 -63.3L126.7 -65.6M272.6 175.6L272.6 172.8L272.5 170.0L272.4 167.1L272.2 164.3L272.0 161.4L271.8 158.5L271.5 155.5L271.1 152.6L270.7 149.6L270.3 146.6L269.8 143.6L269.2 140.5L268.6 137.5L268.0 134.4L267.3 131.3L266.6 128.2L265.8 125.1L265.0 121.9L264.1 118.8L263.2 115.7L262.3 112.5L261.3 109.3L260.2 106.1L259.2 102.9L258.0 99.7L256.9 96.5L255.6 93.3L254.4 90.1L253.1 86.9L251.7 83.7L250.4 80.5L248.9 77.3L247.5 74.1L246.0 70.9L244.4 67.7L242.9 64.5L241.2 61.3L239.6 58.1L237.9 54.9L236.2 51.7L234.4 48.6L232.6 45.4L230.8 42.3L228.9 39.1L227.0 36.0L225.0 32.9L223.1 29.8L221.1 26.8L219.0 23.7L217.0 20.7L214.9 17.7L212.7 14.7L210.6 11.7L208.4 8.7L206.2 5.8L203.9 2.9L201.7 -0.0L199.4 -2.9L197.0 -5.7L194.7 -8.5L192.3 -11.3L189.9 -14.0L187.5 -16.8L185.1 -19.5L182.6 -22.1L180.2 -24.7L177.7 -27.3L175.2 -29.9L172.6 -32.4L170.1 -34.9L167.5 -37.4L164.9 -39.8L162.3 -42.2L159.7 -44.5L157.1 -46.8L154.5 -49.1L151.8 -51.3L149.2 -53.5L146.5 -55.7L143.8 -57.8L141.2 -59.8L138.5 -61.9L135.8 -63.8L133.1 -65.8L130.4 -67.7M304.0 145.9L304.0 143.1L303.9 140.3L303.7 137.5L303.5 134.6L303.3 131.8L303.0 128.9L302.6 126.0L302.2 123.2L301.7 120.3L301.2 117.3L300.6 114.4L299.9 111.5L299.2 108.5L298.4 105.6L297.6 102.6L296.8 99.7L295.8 96.7L294.8 93.7L293.8 90.7L292.7 87.7L291.6 84.8L290.4 81.8L289.1 78.8L287.8 75.8L286.5 72.8L285.1 69.9L283.6 66.9L282.1 63.9L280.5 60.9L278.9 58.0L277.3 55.0L275.6 52.1L273.8 49.2L272.0 46.2L270.1 43.3L268.2 40.4L266.3 37.5L264.3 34.7L262.3 31.8L260.2 29.0L258.1 26.1L255.9 23.3L253.7 20.5L251.5 17.8L249.2 15.0L246.8 12.3L244.5 9.6L242.1 6.9L239.6 4.2L237.1 1.6L234.6 -1.0L232.0 -3.6L229.4 -6.2L226.8 -8.7L224.2 -11.2L221.5 -13.7L218.7 -16.2L216.0 -18.6L213.2 -21.0L210.4 -23.4L207.5 -25.7L204.7 -28.0L201.8 -30.2L198.8 -32.5L195.9 -34.7L192.9 -36.8L189.9 -38.9L186.9 -41.0L183.9 -43.1L180.8 -45.1L177.7 -47.1L174.6 -49.0L171.5 -50.9L168.4 -52.7L165.2 -54.5L162.1 -56.3L158.9 -58.0L155.7 -59.7L152.5 -61.3L149.3 -62.9L146.1 -64.5L142.8 -66.0L139.6 -67.5L136.3 -68.9L133.1 -70.2M322.6 111.8L322.6 109.1L322.5 106.3L322.3 103.5L322.1 100.7L321.8 97.9L321.5 95.1L321.1 92.3L320.6 89.5L320.1 86.6L319.5 83.8L318.8 81.0L318.1 78.2L317.3 75.4L316.5 72.6L315.6 69.7L314.6 66.9L313.6 64.1L312.5 61.3L311.4 58.6L310.2 55.8L309.0 53.0L307.6 50.2L306.3 47.5L304.8 44.7L303.3 42.0L301.8 39.3L300.2 36.6L298.5 33.9L296.8 31.2L295.0 28.5L293.2 25.9L291.3 23.2L289.4 20.6L287.4 18.0L285.4 15.5L283.3 12.9L281.2 10.4L279.0 7.9L276.7 5.4L274.5 2.9L272.1 0.5L269.7 -1.9L267.3 -4.3L264.8 -6.7L262.3 -9.0L259.8 -11.3L257.2 -13.6L254.5 -15.9L251.8 -18.1L249.1 -20.3L246.3 -22.5L243.5 -24.6L240.7 -26.7L237.8 -28.7L234.8 -30.8L231.9 -32.8L228.9 -34.7L225.9 -36.6L222.8 -38.5L219.7 -40.4L216.6 -42.2L213.4 -44.0L210.2 -45.7L207.0 -47.4L203.8 -49.0L200.5 -50.7L197.2 -52.2L193.9 -53.8L190.5 -55.3L187.2 -56.7L183.8 -58.1L180.4 -59.5L177.0 -60.8L173.5 -62.1L170.0 -63.3L166.6 -64.5L163.1 -65.7L159.6 -66.8L156.0 -67.8L152.5 -68.8L149.0 -69.8L145.4 -70.7L141.9 -71.6L138.3 -72.4L134.7 -73.2M327.2 75.8L327.2 73.0L327.1 70.3L326.9 67.5L326.7 64.7L326.4 62.0L326.1 59.2L325.6 56.5L325.2 53.8L324.6 51.1L324.0 48.3L323.3 45.6L322.6 42.9L321.8 40.3L321.0 37.6L320.0 34.9L319.1 32.3L318.0 29.7L316.9 27.1L315.7 24.5L314.5 21.9L313.2 19.4L311.9 16.8L310.5 14.3L309.0 11.8L307.5 9.3L305.9 6.9L304.3 4.5L302.6 2.0L300.8 -0.3L299.0 -2.7L297.2 -5.0L295.2 -7.3L293.3 -9.6L291.2 -11.8L289.2 -14.1L287.0 -16.2L284.8 -18.4L282.6 -20.5L280.3 -22.6L278.0 -24.7L275.6 -26.7L273.2 -28.7L270.7 -30.7L268.2 -32.6L265.6 -34.5L263.0 -36.4L260.3 -38.2L257.6 -40.0L254.8 -41.7L252.0 -43.5L249.2 -45.1L246.3 -46.8L243.4 -48.4L240.5 -49.9L237.5 -51.4L234.4 -52.9L231.4 -54.3L228.3 -55.7L225.2 -57.1L222.0 -58.4L218.8 -59.7L215.6 -60.9L212.3 -62.1L209.0 -63.2L205.7 -64.3L202.4 -65.3L199.0 -66.3L195.6 -67.3L192.2 -68.2L188.7 -69.0L185.3 -69.9L181.8 -70.6L178.3 -71.4L174.8 -72.0L171.2 -72.7L167.7 -73.3L164.1 -73.8L160.5 -74.3L156.9 -74.7L153.3 -75.1L149.7 -75.5L146.1 -75.7L142.4 -76.0L138.8 -76.2L135.1 -76.3M-86.5 47.6L-86.3 49.9L-86.0 52.3L-85.7 54.6L-85.3 56.9L-84.9 59.2L-84.4 61.5L-83.8 63.8L-83.2 66.1L-82.5 68.4L-81.7 70.7L-80.9 73.0L-80.1 75.3L-79.1 77.5L-78.1 79.7L-77.1 82.0L-76.0 84.2L-74.8 86.4L-73.6 88.6L-72.3 90.8L-71.0 92.9L-69.6 95.1L-68.1 97.2L-66.6 99.3L-65.0 101.4L-63.4 103.5L-61.7 105.6L-60.0 107.6L-58.2 109.6L-56.4 111.6L-54.5 113.6L-52.5 115.5L-50.5 117.5L-48.5 119.4L-46.4 121.3L-44.2 123.1L-42.0 125.0L-39.8 126.8L-37.5 128.5L-35.1 130.3L-32.8 132.0L-30.3 133.7L-27.9 135.4L-25.3 137.1L-22.8 138.7L-20.2 140.3L-17.5 141.8L-14.8 143.3L-12.1 144.8L-9.3 146.3L-6.5 147.7L-3.7 149.1L-0.8 150.5L2.1 151.8L5.1 153.1L8.1 154.4L11.1 155.6L14.1 156.8L17.2 158.0L20.3 159.1L23.5 160.2L26.6 161.2L29.8 162.3L33.1 163.2L36.3 164.2L39.6 165.1L42.9 165.9L46.2 166.8L49.5 167.6L52.9 168.3L56.3 169.0L59.7 169.7L63.1 170.3L66.5 170.9L70.0 171.5L73.5 172.0L76.9 172.5L80.4 172.9L83.9 173.3L87.4 173.7L91.0 174.0L94.5 174.3L98.0 174.5L101.6 174.7L105.1 174.9L108.6 175.0L112.2 175.0L115.7 175.1L119.3 175.1L122.8 175.0L126.4 174.9L129.9 174.8L133.5 174.6L137.0 174.4L140.6 174.2L144.1 173.9L147.6 173.5L151.1 173.2L154.6 172.7L158.1 172.3L161.5 171.8L165.0 171.3L168.5 170.7L171.9 170.1L175.3 169.4L178.7 168.7L182.1 168.0L185.4 167.2L188.7 166.4L192.1 165.6L195.3 164.7L198.6 163.8L201.8 162.8L205.1 161.8L208.2 160.8L211.4 159.7L214.5 158.6L217.6 157.5L220.7 156.3L223.7 155.1L226.7 153.9L229.7 152.6L232.7 151.3L235.6 149.9L238.4 148.5L241.2 147.1L244.0 145.7L246.8 144.2L249.5 142.7L252.2 141.2L254.8 139.6L257.4 138.0L259.9 136.4L262.4 134.7L264.9 133.0L267.3 131.3L269.7 129.6L272.0 127.8L274.3 126.0L276.5 124.2L278.7 122.3L280.8 120.5L282.9 118.6L284.9 116.7L286.9 114.7L288.8 112.7L290.7 110.8L292.5 108.8L294.3 106.7L296.0 104.7L297.6 102.6L299.2 100.5L300.8 98.4L302.3 96.3L303.7 94.2L305.1 92.0L306.4 89.9L307.6 87.7L308.8 85.5L310.0 83.3L311.1 81.0L312.1 78.8L313.1 76.6L314.0 74.3L314.8 72.0L315.6 69.7L316.3 67.5L317.0 65.2L317.6 62.9L318.1 60.6L318.6 58.2L319.0 55.9L319.4 53.6L319.7 51.3L319.9 48.9L320.1 46.6L320.2 44.3L320.3 41.9L320.3 39.6L320.2 37.3L320.0 34.9M-65.5 8.7L-65.3 10.8L-65.1 12.8L-64.8 14.9L-64.4 17.0L-64.0 19.1L-63.6 21.2L-63.1 23.2L-62.5 25.3L-61.9 27.3L-61.2 29.4L-60.5 31.4L-59.7 33.5L-58.9 35.5L-58.0 37.5L-57.0 39.5L-56.0 41.5L-55.0 43.5L-53.9 45.4L-52.7 47.4L-51.5 49.3L-50.3 51.2L-49.0 53.1L-47.6 55.0L-46.2 56.9L-44.8 58.8L-43.3 60.6L-41.7 62.4L-40.1 64.3L-38.4 66.0L-36.7 67.8L-35.0 69.6L-33.2 71.3L-31.4 73.0L-29.5 74.7L-27.6 76.4L-25.6 78.0L-23.6 79.6L-21.5 81.2L-19.4 82.8L-17.3 84.4L-15.1 85.9L-12.9 87.4L-10.6 88.9L-8.3 90.3L-6.0 91.7L-3.6 93.1L-1.2 94.5L1.2 95.8L3.7 97.1L6.2 98.4L8.8 99.7L11.4 100.9L14.0 102.1L16.6 103.3L19.3 104.4L22.0 105.5L24.7 106.6L27.5 107.6L30.3 108.6L33.1 109.6L36.0 110.5L38.8 111.5L41.7 112.3L44.6 113.2L47.6 114.0L50.5 114.8L53.5 115.5L56.5 116.2L59.5 116.9L62.5 117.5L65.6 118.1L68.7 118.7L71.7 119.2L74.8 119.7L77.9 120.2L81.1 120.6L84.2 121.0L87.3 121.4L90.5 121.7L93.6 122.0L96.8 122.2L100.0 122.4L103.1 122.6L106.3 122.8L109.5 122.9L112.7 122.9L115.9 123.0L119.0 122.9L122.2 122.9L125.4 122.8L128.6 122.7L131.8 122.5L134.9 122.4L138.1 122.1L141.3 121.9L144.4 121.6L147.5 121.2L150.7 120.9L153.8 120.5L156.9 120.0L160.0 119.5L163.1 119.0L166.2 118.5L169.2 117.9L172.3 117.3L175.3 116.6L178.3 115.9L181.3 115.2L184.3 114.4L187.2 113.7L190.1 112.8L193.0 112.0L195.9 111.1L198.8 110.2L201.6 109.2L204.4 108.2L207.2 107.2L210.0 106.1L212.7 105.0L215.4 103.9L218.0 102.8L220.7 101.6L223.3 100.4L225.8 99.2L228.4 97.9L230.9 96.6L233.3 95.3L235.8 93.9L238.2 92.5L240.5 91.1L242.9 89.7L245.1 88.2L247.4 86.8L249.6 85.2L251.7 83.7L253.9 82.1L255.9 80.6L258.0 79.0L260.0 77.3L261.9 75.7L263.8 74.0L265.7 72.3L267.5 70.6L269.3 68.8L271.0 67.1L272.7 65.3L274.3 63.5L275.9 61.7L277.4 59.8L278.9 58.0L280.4 56.1L281.7 54.2L283.1 52.3L284.4 50.4L285.6 48.5L286.8 46.5L287.9 44.6L289.0 42.6L290.0 40.6L291.0 38.6L291.9 36.6L292.8 34.6L293.6 32.6L294.3 30.6L295.0 28.5L295.7 26.5L296.3 24.4L296.8 22.4L297.3 20.3L297.8 18.2L298.1 16.1L298.4 14.0L298.7 12.0L298.9 9.9L299.1 7.8L299.2 5.7L299.2 3.6L299.2 1.5L299.1 -0.6L299.0 -2.7M-32.0 -25.3L-31.9 -23.5L-31.7 -21.8L-31.5 -20.1L-31.2 -18.4L-30.9 -16.7L-30.5 -15.1L-30.1 -13.4L-29.6 -11.7L-29.1 -10.0L-28.6 -8.3L-28.0 -6.7L-27.3 -5.0L-26.6 -3.4L-25.9 -1.7L-25.1 -0.1L-24.3 1.5L-23.5 3.2L-22.6 4.8L-21.6 6.3L-20.7 7.9L-19.6 9.5L-18.6 11.1L-17.5 12.6L-16.3 14.1L-15.1 15.7L-13.9 17.2L-12.6 18.7L-11.3 20.1L-10.0 21.6L-8.6 23.0L-7.2 24.5L-5.7 25.9L-4.2 27.3L-2.7 28.7L-1.1 30.0L0.5 31.4L2.2 32.7L3.8 34.0L5.6 35.3L7.3 36.6L9.1 37.8L10.9 39.0L12.7 40.2L14.6 41.4L16.5 42.6L18.5 43.7L20.4 44.8L22.4 45.9L24.5 47.0L26.5 48.0L28.6 49.1L30.7 50.1L32.8 51.0L35.0 52.0L37.2 52.9L39.4 53.8L41.6 54.7L43.9 55.5L46.2 56.4L48.5 57.2L50.8 57.9L53.1 58.7L55.5 59.4L57.9 60.1L60.3 60.7L62.7 61.4L65.1 62.0L67.6 62.6L70.0 63.1L72.5 63.6L75.0 64.1L77.5 64.6L80.0 65.0L82.5 65.4L85.1 65.8L87.6 66.2L90.2 66.5L92.7 66.8L95.3 67.0L97.9 67.3L100.5 67.5L103.0 67.6L105.6 67.8L108.2 67.9L110.8 68.0L113.4 68.0L116.0 68.1L118.6 68.1L121.2 68.0L123.8 68.0L126.4 67.9L129.0 67.7L131.6 67.6L134.2 67.4L136.8 67.2L139.3 66.9L141.9 66.7L144.5 66.4L147.0 66.0L149.6 65.7L152.1 65.3L154.6 64.9L157.1 64.4L159.6 63.9L162.1 63.4L164.6 62.9L167.0 62.3L169.5 61.7L171.9 61.1L174.3 60.5L176.7 59.8L179.0 59.1L181.4 58.4L183.7 57.6L186.0 56.8L188.3 56.0L190.6 55.2L192.9 54.3L195.1 53.4L197.3 52.5L199.5 51.6L201.6 50.6L203.7 49.6L205.8 48.6L207.9 47.6L209.9 46.5L212.0 45.5L213.9 44.4L215.9 43.2L217.8 42.1L219.7 40.9L221.6 39.7L223.4 38.5L225.2 37.3L227.0 36.0L228.7 34.7L230.4 33.5L232.1 32.1L233.7 30.8L235.3 29.5L236.8 28.1L238.4 26.7L239.9 25.3L241.3 23.9L242.7 22.4L244.1 21.0L245.4 19.5L246.7 18.0L248.0 16.5L249.2 15.0L250.3 13.5L251.5 12.0L252.6 10.4L253.6 8.8L254.6 7.3L255.6 5.7L256.5 4.1L257.4 2.5L258.2 0.8L259.0 -0.8L259.8 -2.4L260.5 -4.1L261.1 -5.7L261.8 -7.4L262.3 -9.0L262.9 -10.7L263.3 -12.4L263.8 -14.1L264.2 -15.8L264.5 -17.5L264.8 -19.2L265.1 -20.9L265.3 -22.6L265.5 -24.3L265.6 -26.0L265.7 -27.7L265.7 -29.4L265.7 -31.1L265.7 -32.8L265.6 -34.5M11.5 -51.8L11.6 -50.6L11.8 -49.4L12.0 -48.2L12.2 -47.0L12.4 -45.8L12.6 -44.6L12.9 -43.4L13.3 -42.2L13.6 -41.1L14.0 -39.9L14.4 -38.7L14.9 -37.5L15.4 -36.4L15.9 -35.2L16.4 -34.0L17.0 -32.9L17.6 -31.8L18.2 -30.6L18.9 -29.5L19.6 -28.4L20.3 -27.3L21.1 -26.2L21.9 -25.1L22.7 -24.0L23.5 -22.9L24.4 -21.8L25.3 -20.8L26.2 -19.7L27.2 -18.7L28.1 -17.7L29.1 -16.7L30.2 -15.7L31.2 -14.7L32.3 -13.7L33.4 -12.7L34.6 -11.8L35.7 -10.9L36.9 -9.9L38.1 -9.0L39.4 -8.1L40.6 -7.3L41.9 -6.4L43.2 -5.5L44.5 -4.7L45.9 -3.9L47.3 -3.1L48.7 -2.3L50.1 -1.5L51.5 -0.7L53.0 -0.0L54.4 0.7L55.9 1.4L57.4 2.1L59.0 2.8L60.5 3.4L62.1 4.1L63.6 4.7L65.2 5.3L66.8 5.9L68.5 6.4L70.1 7.0L71.8 7.5L73.4 8.0L75.1 8.5L76.8 9.0L78.5 9.4L80.2 9.9L82.0 10.3L83.7 10.7L85.5 11.0L87.2 11.4L89.0 11.7L90.8 12.0L92.6 12.3L94.3 12.6L96.1 12.8L98.0 13.0L99.8 13.2L101.6 13.4L103.4 13.6L105.2 13.7L107.1 13.9L108.9 14.0L110.7 14.0L112.6 14.1L114.4 14.1L116.2 14.1L118.1 14.1L119.9 14.1L121.8 14.1L123.6 14.0L125.4 13.9L127.3 13.8L129.1 13.7L130.9 13.5L132.7 13.3L134.5 13.2L136.3 12.9L138.2 12.7L139.9 12.5L141.7 12.2L143.5 11.9L145.3 11.6L147.1 11.2L148.8 10.9L150.6 10.5L152.3 10.1L154.0 9.7L155.7 9.2L157.4 8.8L159.1 8.3L160.8 7.8L162.5 7.3L164.1 6.8L165.8 6.2L167.4 5.6L169.0 5.0L170.6 4.4L172.1 3.8L173.7 3.2L175.2 2.5L176.8 1.8L178.3 1.1L179.7 0.4L181.2 -0.3L182.6 -1.1L184.1 -1.8L185.5 -2.6L186.9 -3.4L188.2 -4.2L189.6 -5.0L190.9 -5.9L192.2 -6.8L193.4 -7.6L194.7 -8.5L195.9 -9.4L197.1 -10.3L198.3 -11.3L199.5 -12.2L200.6 -13.2L201.7 -14.1L202.8 -15.1L203.8 -16.1L204.8 -17.1L205.8 -18.1L206.8 -19.1L207.7 -20.2L208.6 -21.2L209.5 -22.3L210.4 -23.4L211.2 -24.4L212.0 -25.5L212.8 -26.6L213.5 -27.7L214.2 -28.8L214.9 -30.0L215.6 -31.1L216.2 -32.2L216.8 -33.4L217.4 -34.5L217.9 -35.7L218.4 -36.9L218.9 -38.0L219.3 -39.2L219.7 -40.4L220.1 -41.6L220.4 -42.7L220.7 -43.9L221.0 -45.1L221.3 -46.3L221.5 -47.5L221.7 -48.7L221.8 -49.9L221.9 -51.1L222.0 -52.3L222.1 -53.6L222.1 -54.8L222.1 -56.0L222.1 -57.2L222.0 -58.4M62.3 -69.3L62.4 -68.7L62.4 -68.0L62.5 -67.4L62.6 -66.8L62.7 -66.2L62.9 -65.5L63.0 -64.9L63.2 -64.3L63.4 -63.7L63.6 -63.1L63.8 -62.5L64.0 -61.9L64.3 -61.3L64.5 -60.7L64.8 -60.1L65.1 -59.5L65.4 -58.9L65.8 -58.3L66.1 -57.7L66.5 -57.1L66.8 -56.6L67.2 -56.0L67.6 -55.4L68.1 -54.9L68.5 -54.3L68.9 -53.7L69.4 -53.2L69.9 -52.7L70.4 -52.1L70.9 -51.6L71.4 -51.1L71.9 -50.6L72.5 -50.0L73.1 -49.5L73.6 -49.0L74.2 -48.5L74.8 -48.1L75.4 -47.6L76.1 -47.1L76.7 -46.7L77.4 -46.2L78.0 -45.7L78.7 -45.3L79.4 -44.9L80.1 -44.4L80.8 -44.0L81.5 -43.6L82.2 -43.2L83.0 -42.8L83.7 -42.4L84.5 -42.1L85.3 -41.7L86.1 -41.3L86.8 -41.0L87.6 -40.7L88.5 -40.3L89.3 -40.0L90.1 -39.7L90.9 -39.4L91.8 -39.1L92.6 -38.8L93.5 -38.6L94.3 -38.3L95.2 -38.0L96.1 -37.8L97.0 -37.6L97.9 -37.3L98.8 -37.1L99.7 -36.9L100.6 -36.7L101.5 -36.6L102.4 -36.4L103.3 -36.2L104.2 -36.1L105.2 -35.9L106.1 -35.8L107.0 -35.7L108.0 -35.6L108.9 -35.5L109.9 -35.4L110.8 -35.3L111.7 -35.3L112.7 -35.2L113.6 -35.2L114.6 -35.1L115.5 -35.1L116.5 -35.1L117.4 -35.1L118.4 -35.1L119.3 -35.2L120.3 -35.2L121.2 -35.2L122.2 -35.3L123.1 -35.4L124.1 -35.4L125.0 -35.5L126.0 -35.6L126.9 -35.7L127.8 -35.9L128.8 -36.0L129.7 -36.1L130.6 -36.3L131.5 -36.5L132.4 -36.6L133.4 -36.8L134.3 -37.0L135.2 -37.2L136.1 -37.4L136.9 -37.7L137.8 -37.9L138.7 -38.1L139.6 -38.4L140.4 -38.7L141.3 -38.9L142.1 -39.2L143.0 -39.5L143.8 -39.8L144.6 -40.1L145.4 -40.5L146.2 -40.8L147.0 -41.1L147.8 -41.5L148.6 -41.9L149.4 -42.2L150.1 -42.6L150.9 -43.0L151.6 -43.4L152.3 -43.8L153.1 -44.2L153.8 -44.6L154.4 -45.1L155.1 -45.5L155.8 -45.9L156.5 -46.4L157.1 -46.8L157.7 -47.3L158.4 -47.8L159.0 -48.3L159.6 -48.8L160.2 -49.3L160.7 -49.8L161.3 -50.3L161.8 -50.8L162.4 -51.3L162.9 -51.8L163.4 -52.4L163.9 -52.9L164.3 -53.4L164.8 -54.0L165.2 -54.5L165.7 -55.1L166.1 -55.7L166.5 -56.2L166.9 -56.8L167.2 -57.4L167.6 -58.0L167.9 -58.5L168.2 -59.1L168.5 -59.7L168.8 -60.3L169.1 -60.9L169.4 -61.5L169.6 -62.1L169.8 -62.7L170.0 -63.3L170.2 -64.0L170.4 -64.6L170.6 -65.2L170.7 -65.8L170.9 -66.4L171.0 -67.0L171.1 -67.7L171.1 -68.3L171.2 -68.9L171.3 -69.5L171.3 -70.2L171.3 -70.8L171.3 -71.4L171.3 -72.0L171.2 -72.7"/>
<path stroke-width="2.5" d="M34.1 -19.5L34.0 -18.4L34.0 -18.3L33.8 -17.3L34.0 -16.5L33.2 -15.7L33.8 -15.3L33.6 -14.9L33.8 -13.8L33.9 -13.0L33.9 -13.3L33.7 -11.9L34.5 -12.3L34.4 -11.5L34.6 -11.1L35.3 -10.9L35.3 -10.6L35.8 -10.1L35.9 -10.1L36.9 -9.9L36.8 -9.5L37.7 -9.0L37.2 -8.2L38.0 -8.0L38.2 -7.9L38.6 -7.3L38.5 -6.5L39.1 -6.2L38.9 -5.5L38.5 -4.7L39.2 -4.6L39.1 -3.3L39.5 -2.8L39.3 -1.8L39.7 -0.9L39.6 -0.1L39.3 1.0L39.2 3.2L39.1 4.3L38.4 6.6L38.9 8.9L38.8 9.4L38.7 10.1L38.9 12.2L38.5 13.8L38.9 14.4L39.4 14.0L40.5 14.7L41.0 15.2L41.3 15.7L41.9 16.5L41.7 18.3L40.9 19.0L41.4 21.0L41.2 22.7L41.9 24.4L41.8 26.0L41.3 27.9L41.3 29.4L41.5 30.4L41.6 31.1L42.0 32.3L42.2 32.5L42.4 33.6L43.4 33.7L44.1 35.9L44.2 36.3L44.8 37.3L45.4 38.7L46.4 38.9L46.8 39.7L46.7 41.0L47.0 41.1L47.8 42.7L46.8 43.3L47.4 45.0L45.9 46.5L45.2 47.9L45.1 46.5L46.2 44.8L46.5 44.6L45.7 43.7L45.1 43.9L43.9 43.0L43.3 42.5L42.3 42.0L42.6 42.8L42.3 45.3L42.0 47.1L41.5 48.1L40.6 49.6L40.4 50.7L40.3 52.7L38.8 54.3L38.7 56.0L37.4 57.6L36.2 59.4L35.3 60.7L35.0 62.4L35.0 63.9L34.6 65.7L33.8 67.4L32.5 69.1L32.8 71.0L32.8 72.9L32.5 74.7L33.1 77.0L33.2 78.9L34.1 80.1L33.7 81.5L33.9 83.1L34.8 84.2L34.2 84.8L34.4 86.4L34.9 88.5L35.5 90.3L35.8 91.9L35.6 93.2L35.9 93.6L37.1 94.2L38.4 94.7L39.0 95.9L40.0 96.7L40.9 97.6L41.1 98.2L42.1 98.9L42.7 99.9L43.2 101.5L43.3 102.7L43.4 103.4L43.7 105.4L44.0 107.4L44.5 109.4L45.0 111.4L45.2 113.3L46.6 115.6L47.5 116.7L48.4 117.9L49.2 120.0L48.9 121.7L47.9 121.6L47.0 121.6L46.0 121.5L47.1 123.1L48.6 125.3L49.5 126.4L50.5 127.6L51.7 128.8L53.0 130.0L53.6 132.0L53.4 133.7L54.4 135.7L55.4 136.8L56.4 137.9L58.1 140.1L58.7 141.3L59.3 142.5L61.0 141.4L60.4 139.5L58.7 137.7L57.9 136.1L57.8 134.7L57.1 132.7L56.4 130.8L55.7 128.8L54.8 126.8L53.8 124.7L52.9 122.7L52.0 120.7L51.1 118.6L49.9 116.5L48.8 114.3L48.8 112.5L48.7 110.6L49.2 108.9L49.6 107.8L50.7 109.2L51.6 109.9L52.6 110.5L53.8 112.3L54.1 113.8L54.4 115.7L55.0 117.7L55.3 119.6L56.1 120.7L56.8 121.8L58.1 123.9L59.5 124.9L59.9 126.8L61.3 128.2L62.6 130.3L63.0 132.2L64.4 134.2L65.8 136.3L67.2 138.3L68.6 140.3L69.5 141.4L70.4 142.4L70.9 143.5L71.8 144.9L72.7 146.3L73.2 148.1L74.0 150.0L74.2 151.7L73.8 153.1L72.7 154.3L73.2 155.7L74.8 157.7L76.4 158.6L77.6 159.4L78.7 160.3L79.7 161.2L80.7 162.2L82.0 162.7L83.4 163.2L84.7 164.0L86.1 164.8L87.3 165.6L88.5 166.4L90.0 167.2L91.5 168.0L92.6 168.5L93.6 168.9L94.6 169.3L95.8 169.7L97.0 170.1L98.1 170.5L99.3 170.9L100.5 171.3L101.6 171.7L103.4 172.5L104.6 172.3L105.7 172.1L106.9 171.9L108.2 171.5L109.4 171.0L110.8 171.2L112.2 171.4L113.5 172.4L114.7 173.4L115.9 174.3L117.0 175.2L118.2 176.1L119.5 176.8L120.8 177.6L122.1 178.4L123.4 179.1L124.7 179.9L125.8 180.1L126.9 180.2L128.0 180.4L129.2 180.6L130.3 180.7L131.4 180.9L132.5 181.0L133.6 181.2L134.7 181.1L135.8 181.0L136.9 181.0L138.0 180.9L139.1 180.8L140.2 180.7L141.3 180.7L142.4 180.6L143.5 180.5L144.6 180.4L145.7 180.3L146.8 180.2L147.9 180.1L147.8 179.1L147.8 178.0L147.7 177.0L147.7 176.0L147.7 175.0L147.6 173.9L147.6 172.9L147.5 171.9L146.3 171.7L145.2 171.6L144.0 171.4L142.8 171.2L141.6 171.0L140.4 170.8L139.3 171.0L138.2 171.2L137.2 171.3L136.1 171.5L135.0 171.6L133.9 171.8L132.8 171.9L131.7 172.1L132.0 170.9L132.3 169.7L132.4 168.6L132.5 167.5L132.6 166.3L133.0 165.2L133.4 164.0L133.9 162.9L134.2 161.7L134.5 160.6L134.8 159.4L135.1 158.2L135.4 157.1L135.7 155.9L135.9 154.8L136.1 153.6L136.3 152.4L135.1 152.4L134.0 152.3L132.9 152.3L131.7 152.6L130.6 152.9L129.5 153.1L128.1 153.4L126.7 153.6L125.0 154.7L124.6 156.4L124.3 157.6L124.1 158.8L123.4 160.6L122.2 161.6L121.0 162.6L119.3 163.0L118.0 163.3L116.8 163.5L115.4 163.8L114.0 164.0L113.0 164.2L111.9 164.3L110.9 164.5L109.5 163.9L108.1 162.9L106.0 161.8L105.0 160.7L104.0 159.3L103.3 157.9L101.7 156.1L100.7 154.4L100.4 153.3L100.1 152.3L99.8 151.0L99.5 149.8L99.5 148.6L99.6 147.3L99.8 146.0L100.0 144.6L100.1 143.3L100.1 142.1L100.8 140.4L101.6 138.6L102.1 137.1L101.7 135.8L101.4 134.0L101.6 132.2L102.5 130.5L103.2 129.5L104.5 128.4L106.2 127.8L108.1 126.8L109.6 125.7L110.4 125.0L111.7 124.3L113.1 124.0L114.3 123.8L115.8 123.9L117.4 124.4L118.4 124.6L120.0 124.7L121.3 125.4L122.6 126.1L124.2 126.3L125.3 125.9L126.1 125.3L127.4 126.0L128.1 126.3L128.3 125.2L127.0 124.2L127.0 123.1L126.7 122.1L127.6 121.5L128.8 121.2L130.1 121.4L131.2 121.7L131.5 120.4L132.0 121.6L133.3 121.6L134.9 121.1L136.4 120.8L137.4 120.9L138.7 121.5L139.7 122.4L140.2 123.0L141.6 122.7L143.2 121.9L144.4 121.4L145.4 121.8L146.8 123.1L148.1 124.4L148.9 125.8L148.9 127.6L149.3 128.6L149.4 129.7L149.8 130.7L150.7 132.0L151.5 133.4L152.4 134.3L153.0 135.3L154.7 136.5L155.8 137.6L157.1 137.3L157.7 136.5L158.0 135.2L158.1 133.2L158.1 131.4L157.3 129.7L156.5 128.0L155.7 126.0L155.0 124.6L153.9 123.0L152.9 120.9L152.4 119.2L152.1 118.1L152.2 116.7L152.6 115.2L153.5 113.2L154.4 112.0L155.3 111.0L156.2 110.1L157.7 108.5L158.4 107.0L159.7 105.5L161.2 105.0L161.6 103.8L162.9 102.3L163.9 101.9L164.8 101.4L165.8 100.1L166.8 99.5L167.7 98.8L167.6 97.5L166.8 96.2L165.8 94.3L165.2 93.0L164.3 93.1L164.1 91.9L163.9 90.8L163.7 89.3L163.2 88.3L162.7 86.9L162.8 85.8L162.8 84.6L163.3 83.6L163.7 84.1L163.3 85.7L163.4 86.8L164.3 88.1L164.8 89.1L165.0 91.0L165.2 92.4L165.9 90.8L166.4 89.2L166.8 87.6L166.5 85.8L165.4 84.9L164.7 83.5L164.8 82.4L165.4 83.4L166.0 84.0L166.7 85.0L166.7 85.2L167.6 83.7L168.4 82.0L168.4 80.5L168.2 79.2L167.5 79.2L167.8 78.7L168.1 77.9L168.6 77.2L169.1 76.8L169.8 76.2L170.5 75.7L171.2 75.4L172.0 75.2L173.1 74.7L174.0 74.3L174.9 73.6L176.1 72.9L177.6 72.3L177.3 71.1L176.6 71.0L176.1 72.2L175.5 71.6L174.4 70.5L174.6 69.7L175.1 69.2L174.3 68.6L174.7 68.1L174.6 66.5L175.4 65.7L176.0 64.8L177.4 63.9L177.1 62.7L178.3 62.3L179.4 61.0L179.9 61.1L181.1 59.8L181.4 58.9L181.7 58.3L181.6 57.9L182.6 57.5L183.5 56.9L183.8 55.6L184.8 55.1L185.4 54.0L186.0 53.7L187.0 54.8L186.2 55.6L185.3 57.4L184.3 59.0L184.6 60.0L184.8 61.2L186.0 62.4L186.8 62.3L187.6 61.3L188.4 60.3L188.9 58.6L189.4 57.6L190.3 57.1L190.5 56.1L191.4 55.5L193.0 55.0L193.0 54.7L193.4 53.3L194.0 53.4L194.9 52.6L194.7 51.6L195.6 50.6L195.4 49.7L196.3 49.6L196.1 48.6L194.4 47.8L193.0 45.9L192.7 47.2L192.2 49.2L193.0 50.3L191.5 51.7L191.2 52.6L190.1 52.4L189.4 52.6L188.6 53.0L186.9 52.8L185.7 52.7L184.6 50.7L183.7 49.7L183.3 48.0L183.4 47.0L182.7 46.7L181.2 46.5L180.6 47.0L179.8 47.1L178.7 47.9L179.2 47.0L179.7 46.3L180.8 46.1L181.5 45.4L182.3 44.5L183.0 44.2L182.5 42.8L181.6 42.0L181.1 42.0L179.8 42.3L179.5 43.0L178.3 42.6L177.4 43.2L176.6 43.7L176.7 44.8L175.9 45.2L175.1 46.0L173.9 47.0L173.3 48.4L172.9 49.2L172.0 50.9L171.9 51.2L170.9 53.7L170.1 54.0L169.5 55.0L170.2 53.8L170.9 52.5L171.1 51.8L171.4 50.7L171.7 49.7L172.2 48.2L173.0 47.6L173.1 46.7L173.9 45.3L174.5 44.4L175.4 43.5L175.8 43.1L175.7 40.9L176.7 40.3L177.6 39.2L178.2 39.5L178.4 39.6L179.5 38.8L180.2 38.8L180.2 38.1L181.4 37.9L182.1 38.0L182.6 37.6L183.4 37.2L183.7 36.9L184.3 37.4L185.2 37.1L185.2 36.6L186.4 36.1L187.0 36.1L187.9 35.9L188.8 35.7L188.9 34.9L190.0 35.1L189.7 34.1L190.9 33.4L191.2 32.6L191.8 31.7L191.7 30.5L192.3 29.5L192.9 29.5L193.7 28.7L193.4 27.7L194.3 27.0L194.8 26.6L194.6 24.5L193.1 23.5L192.1 21.5L191.3 20.7L189.8 20.2L189.2 20.2L188.2 19.9L187.5 19.6L186.5 18.9L185.3 18.7L184.8 18.8L183.4 18.3L182.3 18.4L181.8 18.1L180.7 17.7L179.9 16.9L179.0 16.3L177.2 15.7L175.9 13.8L174.6 12.4L172.7 11.2L171.5 9.9L170.1 8.6L168.5 6.9L167.0 5.8L165.6 5.0L165.6 5.9L165.8 6.8L165.5 8.2L165.5 9.6L164.9 11.0L165.0 11.5L164.0 12.6L163.4 13.2L162.4 13.4L162.1 13.1L161.6 12.6L160.6 12.2L159.4 10.8L158.6 9.2L157.5 7.5L157.1 6.6L157.1 5.5L156.4 5.0L155.7 4.9L154.9 4.8L154.0 5.1L153.7 4.3L152.4 4.3L151.8 3.7L150.8 3.8L150.7 3.3L149.7 3.2L148.7 2.9L148.9 2.6L147.8 2.5L147.3 2.4L146.5 2.7L145.9 2.3L146.1 3.1L145.2 3.0L145.0 3.1L144.5 3.4L144.0 2.9L143.4 3.3L142.9 3.3L142.6 3.3L141.2 3.5L142.5 5.4L142.9 6.5L143.0 8.3L142.3 9.1L143.6 10.5L143.9 11.6L144.0 12.9L144.3 13.8L144.3 15.0L143.6 16.4L144.3 17.0L145.6 17.7L146.3 17.9L146.9 19.0L147.1 19.6L147.8 21.1L147.9 21.9L148.7 23.8L149.6 25.1L148.3 27.1L148.1 28.2L147.4 28.5L147.1 29.6L146.4 30.4L145.4 31.1L144.6 31.5L145.5 33.4L146.4 34.5L146.8 36.5L147.4 38.1L148.3 39.9L147.4 41.5L146.9 42.5L145.9 43.0L145.6 42.7L144.9 42.8L143.8 41.5L142.9 40.6L142.7 40.4L141.2 39.2L140.0 38.2L140.0 35.8L139.2 35.5L138.9 33.7L138.8 33.2L138.5 32.3L138.7 30.0L138.1 29.5L137.1 29.5L137.0 29.5L135.7 29.6L135.7 29.9L134.4 29.3L133.9 29.1L132.6 28.9L132.0 28.8L131.8 28.6L130.9 28.3L130.4 27.8L129.7 27.6L129.3 27.5L128.6 27.2L127.9 26.2L126.6 26.6L126.1 25.5L125.8 25.4L124.7 25.2L123.7 24.8L123.6 24.6L122.4 24.1L121.8 24.2L121.1 23.8L120.7 24.2L120.0 23.4L119.8 24.1L119.2 23.7L118.2 24.3L117.6 24.5L116.7 23.1L116.2 20.9L115.1 19.8L115.0 18.6L114.7 18.1L114.1 18.1L113.4 17.6L112.7 15.6L113.0 14.4L112.9 13.0L113.4 12.2L114.6 10.7L115.0 8.8L116.1 7.4L117.5 6.0L117.9 5.4L118.8 5.2L118.8 4.6L120.0 4.1L120.5 3.1L120.6 1.4L121.1 1.2L121.6 0.8L121.9 1.2L122.8 0.5L123.1 0.0L123.2 -0.1L123.9 -0.5L124.3 -0.2L124.8 -0.9L124.9 -0.6L125.7 -1.4L125.8 -1.9L126.4 -2.7L125.9 -3.5L126.0 -5.0L126.2 -5.8L126.5 -7.3L126.3 -8.0L126.2 -9.0L126.0 -8.8L125.0 -9.0L124.8 -10.0L124.5 -10.0L124.0 -10.6L123.1 -11.1L122.8 -11.3L122.5 -11.9L122.1 -12.1L121.2 -12.6L121.2 -12.4L120.5 -13.2L120.0 -13.1L119.9 -13.5L118.8 -13.3L118.8 -13.6L118.2 -13.2L117.6 -13.7L117.4 -13.3L117.4 -14.0L116.8 -14.2L116.4 -14.0L116.0 -14.0L115.9 -14.4L115.2 -14.2L114.5 -14.2L114.4 -14.4L114.3 -14.6L113.6 -14.4L113.3 -15.2L112.6 -14.9L112.7 -14.9L112.1 -15.4L111.9 -15.5L111.0 -15.6L110.9 -15.4L110.5 -15.5L109.8 -15.7L109.2 -15.8L109.0 -15.8L108.4 -15.7L108.6 -16.0L107.8 -16.4L107.4 -16.9L107.4 -16.6L106.8 -16.8L106.4 -16.9L106.0 -16.9L105.9 -17.1L104.8 -16.5L104.6 -17.2L104.1 -16.5L104.4 -16.8L103.8 -16.9L102.9 -17.3L103.3 -17.1L102.5 -17.1L102.4 -17.0L101.4 -17.6L101.2 -17.3L100.6 -17.5L100.3 -17.2L100.4 -17.4L100.0 -17.7L99.0 -17.7L99.1 -17.5L98.5 -17.5L97.9 -18.1L97.5 -18.1L97.7 -17.7L97.0 -17.7L96.9 -17.9L96.2 -18.5L96.2 -18.1L95.2 -18.3L95.0 -18.5L94.3 -18.4L94.6 -18.8L94.4 -18.8L93.5 -18.4L93.4 -18.6L92.7 -19.1L92.5 -18.6L91.7 -18.9L91.6 -18.8L91.7 -19.1L91.0 -19.2L90.4 -19.0L90.3 -19.2L89.5 -19.4L89.4 -19.5L89.1 -19.5L88.9 -19.4L88.4 -20.0L87.7 -19.7L87.8 -20.2L87.6 -20.3L86.8 -20.1L86.1 -20.3L85.8 -20.3L85.6 -20.3L85.5 -20.8L84.9 -21.0L84.6 -20.7L84.4 -21.3L83.4 -20.9L83.6 -21.1L82.9 -21.1L83.3 -21.5L82.5 -21.5L81.8 -21.9L81.5 -21.9L81.6 -21.8L80.9 -22.5L80.9 -22.0L80.2 -22.3L79.8 -22.7L79.4 -22.7L79.8 -22.9L79.1 -23.4L78.8 -23.6L78.5 -23.7L78.4 -24.1L78.2 -24.1L77.9 -24.3L77.4 -24.6L77.2 -24.6L76.8 -24.7L76.4 -24.9L76.4 -25.3L75.5 -25.4L75.3 -25.5L75.1 -25.4L74.8 -25.9L74.6 -25.8L74.3 -26.2L73.8 -26.1L73.9 -26.7L73.8 -26.7L73.4 -27.0L72.5 -26.9L72.5 -27.6L72.3 -27.9L72.1 -28.1L72.2 -28.0L71.7 -27.9L71.3 -28.0L70.9 -28.5L70.6 -28.4L70.4 -28.7L70.4 -29.3L69.9 -28.8L69.9 -29.8L69.3 -29.6L69.3 -30.2L69.1 -30.3L68.8 -30.2L68.4 -30.5L67.8 -30.5L67.7 -30.6L67.0 -31.1L66.9 -31.3L67.0 -31.7L67.0 -31.5L66.9 -32.2L66.7 -32.3L66.2 -32.2L65.8 -32.5L65.3 -33.0L65.8 -33.1L65.3 -33.1L65.0 -33.4L65.2 -34.0L64.2 -33.8L64.1 -34.2L64.2 -34.7L64.0 -34.7L63.4 -35.1L63.7 -35.1L63.1 -35.1L62.9 -35.7L63.2 -35.7L62.5 -35.6L62.5 -36.1L62.1 -36.2L61.7 -36.6L62.2 -37.2L61.8 -37.4L61.4 -37.5L61.6 -37.8L60.8 -37.8L61.0 -38.2L61.2 -38.5L60.2 -38.5L59.9 -38.9L59.7 -39.1L60.3 -39.4L59.9 -39.9L59.7 -39.4L60.0 -40.1L59.0 -40.1L59.4 -40.5L59.3 -41.0L58.6 -41.2L59.2 -41.2L58.9 -41.7L58.2 -41.8L58.7 -42.0L58.3 -42.7L58.0 -42.6L57.9 -42.6L58.1 -43.1L57.8 -43.3L57.5 -43.6L57.2 -43.5L56.9 -43.7L57.0 -44.2L57.0 -44.6L57.0 -45.1L56.5 -44.5L56.3 -45.2L56.4 -45.4L56.7 -45.9L56.0 -45.9L56.0 -46.2L55.7 -46.6L55.7 -46.7L55.6 -46.7L55.4 -47.3L55.7 -47.3L55.1 -47.4L54.4 -47.5L53.3 -47.2L52.8 -47.2L52.2 -47.3L51.4 -47.0L51.0 -46.7L50.4 -47.1L49.9 -46.6L49.3 -46.8L48.4 -46.9L47.9 -47.0L47.4 -47.0L46.9 -46.8L46.2 -46.6L45.2 -46.4L44.4 -46.5L44.0 -46.6L43.9 -46.3L42.9 -46.2L42.2 -46.2L41.6 -46.3L40.9 -46.1L40.2 -46.3L39.8 -46.1L39.3 -46.4L38.7 -46.6L37.7 -46.0L37.3 -46.2L37.1 -46.5L35.9 -46.1L35.6 -46.6L34.7 -46.3L34.1 -46.1L33.9 -46.4L33.1 -46.2L32.2 -46.3L31.6 -46.7L30.9 -46.6L30.8 -46.8L30.6 -46.2L30.4 -45.7L30.7 -45.3L30.6 -44.9L30.9 -44.7L30.3 -44.4L30.1 -43.5L30.1 -43.3L30.2 -43.3L30.2 -42.4L30.4 -42.1L30.4 -42.3L30.2 -41.8L30.2 -41.1L30.6 -40.8L30.0 -40.1L30.1 -40.0L30.2 -39.2L30.7 -39.1L30.0 -38.2L30.3 -38.1L29.9 -37.9L30.5 -37.7L30.0 -36.8L30.8 -36.7L30.4 -35.9L30.7 -35.8L30.5 -35.5L30.7 -35.2L30.8 -34.8L30.8 -34.4L30.6 -33.7L30.4 -33.4L30.9 -32.8L30.7 -32.2L31.1 -32.1L31.0 -31.4L31.2 -31.4L30.8 -30.6L30.9 -30.0L31.0 -30.0L31.3 -29.5L31.4 -29.2L31.6 -28.6L31.4 -28.3L31.6 -28.3L31.4 -27.4L31.7 -26.7L31.5 -26.7L31.9 -26.1L32.5 -25.8L32.5 -25.5L31.8 -24.9L32.7 -24.5L32.6 -23.8L32.8 -23.7L32.7 -23.6L32.9 -22.5L32.7 -22.5L33.2 -21.8L33.1 -21.6L33.4 -21.1L33.7 -21.0L34.3 -20.3L34.0 -20.3L34.1 -19.5ZM39.1 30.5L39.7 32.3L39.4 33.2L39.9 34.5L40.7 35.5L40.5 37.5L41.4 37.8L41.4 38.5L42.4 40.0L43.0 41.3L43.2 41.1L44.0 42.6L45.1 42.6L45.7 42.4L45.0 40.7L45.0 39.3L44.4 38.3L44.1 37.2L43.4 35.8L43.6 34.8L42.9 34.2L43.1 33.4L41.8 33.3L41.7 32.2L41.0 31.5L40.5 31.2L39.7 31.1L39.1 30.5ZM36.8 15.5L36.4 17.5L36.0 18.7L36.1 20.3L36.5 21.6L35.9 22.9L36.7 23.6L36.5 22.0L36.9 20.8L37.4 19.6L38.2 17.3L38.9 17.3L38.6 16.2L37.7 16.4L37.0 16.1L36.8 15.5ZM39.4 1.1L39.2 2.6L38.8 3.1L38.7 5.0L38.9 7.0L37.6 8.5L39.4 7.6L40.2 6.8L40.8 6.3L41.2 5.4L41.1 3.0L41.0 3.0L41.4 1.4L40.4 1.7L39.6 1.6L39.4 1.1ZM39.9 8.6L39.3 10.3L38.9 11.5L38.7 13.8L39.8 13.8L39.7 14.0L40.8 12.5L40.9 11.4L41.1 11.0L41.1 10.4L40.3 8.8L39.9 8.6ZM42.5 0.9L42.6 2.1L42.6 2.3L42.7 3.5L42.7 5.0L41.8 6.7L42.4 7.8L42.1 9.1L42.6 10.6L42.9 11.8L42.7 11.9L43.1 14.1M195.0 43.1L195.0 41.6L194.0 39.7L194.5 38.7L195.0 37.3L194.7 36.0L194.4 34.0L193.9 32.9L194.4 31.3L194.6 29.8L194.0 29.0L195.1 28.8L195.0 27.5L195.6 27.4L195.9 26.9L196.2 27.6L196.3 29.0L196.4 31.0L196.9 31.9L198.0 32.1L198.7 32.5L200.0 32.2L200.5 32.8L201.1 31.9L201.4 31.5L202.1 31.2L203.6 31.8L204.6 32.3L205.7 33.8L206.9 35.7L207.9 36.5L208.6 38.0L208.8 38.6L208.8 40.4L207.8 39.8L206.8 40.1L205.9 40.4L206.0 41.1L205.0 41.0L203.3 40.9L203.0 41.4L201.6 39.8L200.8 40.1L200.8 40.4L199.8 40.8L199.4 41.3L198.2 41.3L198.1 41.5L197.2 41.7L196.4 42.2L195.7 42.8L195.0 43.1ZM187.9 40.3L187.3 40.2L185.7 39.5L185.1 39.7L184.5 39.5L183.4 40.1L182.6 39.4L181.5 39.6L181.4 39.6L181.5 40.4L181.5 40.2L183.0 40.8L183.4 40.2L184.5 40.8L185.2 41.0L186.0 40.6L186.7 40.8L187.9 40.3ZM191.5 50.9L191.3 49.6L189.9 49.3L189.4 49.5L188.9 49.4L187.8 50.1L187.1 49.5L185.2 49.3L185.6 50.8L186.7 51.2L186.7 51.2L188.2 51.6L188.6 50.8L189.7 51.6L190.4 52.0L191.5 50.9ZM168.1 78.8L169.4 78.4L170.6 77.7L172.1 76.8L173.3 75.7L172.2 76.3L171.2 76.6L170.3 76.9L169.4 77.2L168.6 77.6L168.0 78.3L168.1 78.8ZM136.4 -0.3L136.3 0.1L135.2 -0.1L134.9 0.3L134.6 0.3L133.5 1.0L133.3 0.5L132.4 0.6L132.5 0.8L132.2 1.0L130.7 0.5L130.7 1.2L129.9 0.5L129.5 0.6L128.7 0.4L128.3 -0.4L127.5 -0.6L127.1 -1.0L126.2 -1.4L126.5 -3.0L126.1 -4.0L126.5 -5.4L126.6 -4.9L127.3 -5.7L127.5 -6.1L128.1 -6.2L128.5 -6.1L129.1 -6.8L129.4 -6.7L129.6 -6.6L130.1 -7.0L130.8 -6.4L131.4 -6.7L131.7 -6.2L132.5 -6.2L132.6 -6.0L132.8 -5.8L134.0 -5.4L134.5 -5.1L134.9 -3.5L136.4 -2.7L136.2 -1.7L136.4 -0.3ZM135.6 4.0L135.4 4.4L134.3 4.1L134.0 4.5L133.6 4.0L132.4 4.1L132.0 3.1L132.2 2.8L133.3 2.6L134.0 2.3L133.9 2.3L135.2 3.4L135.6 4.0ZM139.4 5.9L139.2 6.2L138.1 5.8L137.7 6.1L138.1 4.7L138.2 5.4L139.2 4.9L139.4 5.9ZM144.7 26.0L144.2 27.1L142.6 25.0L143.7 23.3L145.0 24.4L144.7 26.0ZM142.2 38.0L141.5 38.2L139.9 37.7L140.6 36.7L141.9 36.6L142.3 37.2L142.2 38.0ZM160.9 -0.3L161.0 0.3L159.9 0.5L159.8 1.1L159.4 0.9L158.4 1.4L157.8 0.7L156.9 0.8L157.0 0.8L156.6 0.9L155.1 0.5L155.2 1.0L154.3 0.3L154.0 0.8L153.3 0.9L152.9 0.5L152.2 0.7L151.9 0.7L151.0 0.7L150.8 0.1L149.9 0.3L149.8 -0.2L149.0 0.5L148.6 -0.2L147.7 -0.4L147.3 -0.5L146.7 -0.4L146.1 -1.2L145.3 -1.2L144.5 -1.1L143.8 -2.0L143.4 -1.9L142.6 -3.3L141.7 -4.0L141.1 -5.2L140.0 -6.2L138.9 -7.1L138.8 -7.8L138.9 -8.8L139.1 -8.4L140.2 -8.9L140.1 -9.2L140.3 -9.4L141.3 -9.5L141.3 -9.7L141.9 -9.7L141.6 -10.3L142.8 -10.5L143.0 -10.8L143.3 -10.9L143.6 -10.9L144.5 -10.8L144.2 -11.3L144.9 -11.6L145.2 -11.6L145.7 -12.1L145.9 -12.3L146.3 -12.0L146.9 -12.5L147.2 -13.2L147.6 -13.4L148.2 -13.3L147.8 -13.6L148.3 -13.4L148.8 -13.8L149.8 -13.2L149.8 -13.0L150.8 -12.8L151.1 -12.5L151.7 -12.8L152.3 -12.3L152.9 -11.9L153.2 -11.9L154.4 -11.7L154.3 -11.6L155.3 -11.7L155.4 -10.9L156.5 -11.0L157.0 -10.8L157.3 -11.0L158.3 -10.6L158.3 -10.7L159.2 -10.2L159.6 -10.1L160.1 -9.0L160.4 -7.6L160.9 -7.4L161.5 -5.8L162.0 -4.7L161.8 -3.8L161.5 -2.7L161.1 -2.5L161.6 -2.0L160.9 -1.0L160.9 -0.3ZM164.4 1.8L164.1 1.7L162.6 1.1L163.4 0.9L164.2 0.3L164.4 1.8ZM157.5 137.0L157.0 138.0L156.1 138.8L155.3 139.3L154.0 139.8L153.0 140.1M35.5 95.1L36.4 95.4L37.2 95.6L38.1 95.9L37.9 96.2L36.8 95.9L35.8 95.6L35.5 95.1ZM40.0 98.8L40.7 99.6L40.9 99.5L40.0 98.8ZM143.2 150.7L144.9 148.6L146.1 147.9L147.2 147.1L148.3 146.6L149.5 146.0L151.4 145.3L152.8 145.0L154.1 144.8L155.2 144.7L156.3 144.7L157.4 144.7L159.0 145.0L160.5 145.3L161.6 145.6L162.8 145.8L163.9 146.1L165.3 146.3L166.6 146.4L167.7 146.7L168.7 147.1L169.8 147.4L170.9 147.7L172.0 148.1L173.1 148.5L174.3 148.8L175.7 149.2L177.1 149.6L178.4 150.2L179.7 150.8L178.6 151.4L177.5 152.0L176.4 152.5L175.3 152.8L174.3 153.0L173.2 153.2L172.1 153.4L171.1 153.6L170.1 153.8L169.1 154.1L168.1 154.3L167.5 152.9L166.8 151.6L165.4 150.4L163.9 149.3L162.6 149.3L161.2 149.4L160.0 149.4L158.8 149.4L157.7 149.4L156.5 149.3L154.7 148.2L153.5 148.5L152.4 148.8L151.1 149.5L149.8 150.2L148.7 150.3L147.6 150.4L146.5 150.4L145.4 150.5L144.3 150.6L143.2 150.7ZM161.4 131.8L163.0 131.0L164.6 130.9L162.7 131.6L161.4 131.8ZM167.5 133.1L166.7 132.0L165.9 130.9L166.7 129.6L167.9 131.6L167.5 133.1ZM166.9 139.6L165.4 138.1L164.9 136.2L166.3 137.6L166.9 139.6ZM171.1 136.0L170.2 135.1L169.2 134.2L170.2 134.4L171.1 136.0ZM172.6 140.3L173.1 139.0L173.6 137.6L174.1 139.0L172.6 140.3ZM184.2 150.8L185.3 150.6L186.4 150.5L187.5 150.3L188.5 150.1L189.6 150.0L190.7 149.8L191.8 149.6L192.8 149.6L193.7 149.6L194.7 149.6L195.7 149.6L196.7 149.6L197.9 150.7L199.0 151.7L198.0 152.1L197.0 152.6L196.0 153.0L194.9 153.4L193.9 153.8L192.9 154.2L191.8 154.6L190.8 155.0L189.8 155.3L188.8 155.5L187.8 155.7L186.8 155.9L185.7 156.2L184.7 156.4L183.7 156.6L182.7 156.8L181.7 157.0L180.6 157.2L179.6 157.4L180.1 155.9L181.2 154.6L182.2 153.4L183.2 152.1L184.2 150.8ZM166.5 159.2L167.6 159.0L168.7 158.8L169.9 158.6L171.0 158.4L172.1 158.2L173.2 158.0L173.3 159.0L173.4 160.0L172.3 160.2L171.3 160.4L170.2 160.6L169.1 160.8L168.0 161.0L167.3 160.1L166.5 159.2ZM196.5 -8.9L196.3 -8.9L195.0 -9.0L194.7 -8.9L194.2 -9.2L193.4 -8.5L192.7 -9.2L191.8 -9.0L191.8 -9.2L191.4 -9.2L189.7 -9.4L189.9 -9.1L188.6 -9.7L188.3 -9.3L187.6 -9.2L186.9 -9.7L185.9 -9.9L185.0 -10.5L183.7 -10.8L182.8 -11.8L181.7 -12.0L181.0 -13.0L180.0 -12.9L178.8 -14.2L177.3 -14.9L176.4 -15.6L175.5 -16.0L174.3 -17.2L173.6 -17.7L172.9 -18.1L171.9 -19.6L171.6 -20.1L170.7 -21.3L170.0 -21.9L169.5 -22.9L168.5 -23.6L167.5 -24.3L167.5 -25.1L166.2 -26.5L165.5 -26.8L165.3 -28.1L164.1 -28.9L163.2 -29.7L163.1 -30.5L163.0 -30.6L163.5 -30.6L163.1 -31.0L164.0 -31.3L164.2 -31.5L164.4 -31.5L164.7 -31.5L165.6 -31.5L165.1 -31.8L165.6 -32.0L165.9 -32.0L166.3 -32.4L166.4 -32.6L166.9 -32.3L167.3 -32.7L167.3 -33.4L167.6 -33.5L168.2 -33.4L167.7 -33.5L168.4 -33.2L168.3 -34.0L169.2 -33.9L169.0 -34.0L169.6 -34.3L169.7 -34.3L169.8 -34.9L170.3 -34.9L170.7 -34.9L170.6 -35.2L171.4 -35.5L171.0 -35.6L171.6 -36.1L171.7 -35.6L172.3 -36.2L172.5 -36.4L172.3 -36.8L173.1 -37.0L172.7 -37.3L173.4 -37.2L173.5 -37.5L173.8 -37.6L174.0 -37.5L173.9 -38.5L174.6 -38.3L174.9 -38.6L174.5 -38.8L174.9 -38.5L174.7 -39.1L175.4 -39.7L175.4 -39.4L175.8 -40.1L175.9 -40.0L176.3 -39.9L176.8 -40.2L176.6 -40.3L177.3 -40.6L177.3 -40.8L177.6 -41.2L177.0 -41.3L177.9 -41.3L177.7 -42.1L178.1 -41.7L178.4 -42.4L178.1 -42.5L178.5 -42.9L179.1 -43.1L179.4 -43.0L179.4 -42.9L179.1 -43.5L179.5 -43.9L179.5 -44.0L180.1 -43.9L180.0 -44.6L180.2 -45.0L180.9 -44.6L180.8 -44.6L181.4 -45.2L181.0 -45.7L181.4 -45.7L181.2 -46.0L181.4 -46.0L182.0 -46.0L181.6 -46.8L181.7 -47.0L182.5 -47.1L182.0 -47.1L182.3 -47.3L183.1 -47.7L183.1 -47.6L182.6 -48.3L183.3 -48.0L183.6 -48.6L183.9 -48.9L184.1 -48.5L183.8 -47.9L184.7 -47.1L185.3 -46.6L185.4 -45.7L185.2 -45.7L185.9 -45.1L186.3 -44.2L186.5 -44.4L186.5 -43.4L187.5 -42.8L187.3 -42.5L187.8 -41.9L188.4 -41.0L188.6 -40.3L189.0 -39.6L188.7 -39.6L189.4 -38.9L189.3 -38.4L190.0 -37.4L190.5 -37.1L190.1 -36.5L190.9 -35.7L191.0 -35.3L191.2 -34.2L191.5 -33.6L191.5 -33.1L192.4 -32.5L192.5 -32.1L192.6 -31.6L192.9 -30.6L192.5 -30.1L192.6 -29.6L193.3 -29.3L193.2 -28.3L193.9 -27.4L193.5 -27.1L193.6 -26.3L193.7 -25.6L194.7 -25.0L194.5 -24.6L194.6 -23.9L194.6 -22.9L194.8 -22.1L195.1 -21.8L195.2 -20.5L195.2 -20.6L195.5 -19.6L195.4 -19.0L195.7 -18.0L195.7 -17.1L195.8 -16.8L195.7 -15.9L196.0 -15.1L196.2 -14.3L196.0 -14.1L196.4 -13.2L196.2 -12.1L196.4 -11.8L196.3 -11.2L196.5 -10.6L196.6 -9.5L196.5 -8.9Z"/>
<path fill="#474747" stroke-width="2.3" d="M118.3 61.8L119.7 61.6L121.1 61.4L121.8 60.9L123.1 62.1L124.9 62.2L126.2 61.6L127.6 61.0L129.0 58.7L128.6 60.8L130.2 62.2L132.5 62.2L134.2 61.1L136.2 61.0L137.5 61.6L136.9 60.7L136.7 58.7L135.8 57.0L133.8 56.6L132.1 54.3L130.1 53.7L128.9 53.6L127.7 53.5L126.1 55.4L124.4 56.9L123.1 57.9L121.8 58.9L119.6 60.7L118.3 61.8ZM137.1 64.3L135.2 64.2L133.4 64.0L131.7 65.0L130.8 66.9L130.6 68.4L130.3 69.5L130.0 71.4L129.9 73.2L129.7 75.1L130.1 76.9L130.6 78.7L131.1 79.8L131.9 80.0L133.0 79.5L133.7 78.1L134.3 76.6L134.2 74.8L133.4 73.0L133.2 71.1L133.7 69.3L134.2 67.8L135.2 67.1L135.6 66.2L136.5 65.0L137.1 64.3ZM131.4 65.4L130.0 67.7L129.1 69.6L130.6 68.0L131.5 66.5L131.4 65.4ZM137.2 64.3L138.6 63.5L139.9 62.8L141.3 62.5L142.6 62.1L143.9 62.3L145.2 62.4L147.0 62.7L148.9 64.6L149.9 66.5L148.3 67.5L146.5 66.1L145.2 65.3L146.3 66.9L145.8 68.8L145.8 70.6L145.9 72.5L144.4 73.8L143.8 72.4L143.3 70.6L142.3 70.1L140.1 72.0L140.8 70.5L141.3 69.3L141.2 67.5L140.9 66.6L140.5 65.5L138.8 64.8L137.2 64.3ZM142.8 77.7L142.1 78.8L144.2 79.5L146.6 79.0L147.9 78.1L150.2 76.9L151.6 75.8L152.8 74.5L153.6 72.8L152.1 73.3L150.4 74.5L148.2 74.8L146.3 76.1L144.5 77.3L142.8 77.7ZM152.9 71.7L154.3 71.2L155.7 70.8L157.8 70.6L159.5 69.8L159.9 68.0L159.3 67.0L157.8 68.0L155.8 68.7L154.5 69.3L153.1 69.8L151.6 70.5L151.0 71.8L152.9 71.7ZM143.2 75.4L143.3 76.3L144.4 76.2L144.0 75.3L143.2 75.4ZM107.2 48.1L108.0 45.3L107.5 42.3L106.4 39.4L105.5 36.1L104.2 35.5L102.6 36.6L103.2 39.9L104.8 42.2L105.8 44.1L106.9 45.9L107.2 48.1ZM103.8 49.0L102.8 46.8L102.4 44.2L101.5 43.4L102.2 46.0L103.0 48.2L103.8 49.0ZM101.0 43.7L100.4 41.1L100.0 38.6L99.4 37.8L99.4 40.0L100.0 42.6L101.0 43.7ZM111.5 53.4L111.5 51.9L112.3 50.5L113.2 51.6L112.5 53.4L111.5 53.4ZM82.1 15.4L83.3 15.1L84.4 14.8L85.4 14.6L86.4 14.4L87.4 14.3L88.4 14.1L89.4 13.9L90.4 13.7L91.1 14.6L90.1 14.9L89.1 15.3L88.1 15.5L87.1 15.6L86.1 15.8L85.1 15.8L84.1 15.9L83.1 15.9L82.1 15.4ZM75.0 5.2L77.0 3.6L78.0 3.2L79.1 2.9L80.1 2.6L81.0 2.3L82.0 2.0L83.0 1.7L83.9 1.7L84.7 1.6L85.6 1.6L86.5 1.5L87.3 1.5L88.4 2.0L89.4 2.6L88.1 3.0L86.8 3.5L85.8 3.7L84.9 3.9L83.9 4.2L83.0 4.4L81.9 4.7L80.9 5.1L79.9 5.4L79.0 5.6L78.0 5.7L77.1 5.8L76.0 5.5L75.0 5.2ZM96.2 25.2L97.2 22.5L98.4 20.1L99.0 20.9L98.2 23.7L96.2 25.2ZM126.6 51.4L125.8 49.6L126.9 48.8L127.7 50.2L126.6 51.4ZM63.5 77.8L62.1 75.6L63.3 74.0L64.3 75.4L63.5 77.8ZM155.3 132.2L155.0 130.6L156.0 130.6L156.1 131.7L155.3 132.2ZM159.8 43.3L160.8 41.2L161.2 40.0L160.1 42.1L159.8 43.3ZM164.3 93.5L163.7 91.9L163.1 89.4L162.3 87.4L162.4 84.7L163.4 83.4L164.0 84.8L164.7 87.7L165.3 90.1L165.4 92.4L164.3 93.5ZM166.3 85.8L165.0 84.4L164.6 82.6L165.7 83.5L166.9 85.0L166.3 85.8ZM165.6 100.5L167.4 99.0L167.0 96.9L165.7 95.7L164.4 97.0L164.5 99.2L165.6 100.5ZM168.5 77.8L168.8 77.0L170.2 76.2L171.5 75.4L172.8 75.3L172.0 76.3L169.7 77.2L168.5 77.8ZM44.5 47.9L46.0 46.1L47.0 44.2L46.1 43.4L46.0 44.9L44.9 46.9L44.5 47.9Z"/>
<path stroke-width="2.4" d="M47.0 41.0L48.0 41.4L49.1 41.8L50.1 42.2L51.2 42.6L52.3 42.9L53.4 43.3L54.5 43.7L55.6 44.0L56.7 44.4L57.8 44.7L58.9 45.1L60.0 45.4L61.1 45.7L62.2 46.1L63.4 46.4L64.5 46.7L65.6 47.0L66.8 47.3L67.9 47.6L69.1 47.9L70.2 48.1L71.4 48.4L72.5 48.7L73.7 48.9L74.8 49.2L76.0 49.4L77.2 49.6L78.4 49.9L79.5 50.1L80.7 50.3L81.9 50.5L83.1 50.7L84.3 50.9L85.5 51.1L86.7 51.3L87.9 51.4L89.0 51.6L90.2 51.7L91.5 51.9L92.7 52.0L93.9 52.2L95.1 52.3L96.3 52.4L97.5 52.5L98.7 52.7L99.9 52.8L101.1 52.9L102.3 52.9L103.6 53.0L104.8 53.1L106.0 53.2L107.2 53.2L108.4 53.3L109.7 53.3L110.9 53.4L110.9 52.0L111.8 52.3L112.1 54.3L114.1 54.7L115.6 55.1L117.8 56.0L119.4 56.3L121.0 56.7L122.2 56.8L123.4 57.0L124.4 57.1L125.8 57.6L127.1 58.1L128.5 58.6L129.8 58.9L131.1 59.2L132.4 59.4L133.7 59.7L135.0 60.0L136.3 60.2L137.5 61.6L139.4 62.9L141.2 64.2L143.0 65.4L143.4 67.5L143.7 69.6L144.0 71.7L144.3 73.8L144.1 76.2L142.9 77.5L143.3 78.3L144.6 77.8L145.9 77.3L147.2 76.8L148.5 76.2L150.2 75.3L152.0 74.4L153.6 72.8L153.0 71.6L154.2 70.1L155.5 69.8L156.8 69.4L158.0 69.1L159.3 67.4L160.6 66.0L161.7 64.6L162.8 63.3L164.2 63.0L165.5 62.7L166.8 62.4L168.1 62.1L169.4 61.8L170.7 61.4L171.4 60.1L172.1 59.2L172.6 57.1L172.7 55.6L172.7 54.4L173.6 51.3L174.5 51.8L175.8 51.1L177.2 51.7L177.9 53.6L178.5 55.6L179.7 56.6L180.5 57.9L181.1 58.1M43.4 103.4L45.1 103.7L46.8 104.0L48.6 104.3L50.3 104.6L49.9 105.4L51.3 106.3L52.8 107.3L54.2 108.3L55.7 109.3L57.1 110.2L58.6 111.2L60.1 112.1L61.8 112.5L63.5 112.8L65.2 113.2L67.0 113.5L68.7 113.8L68.9 112.2L70.6 112.5L72.3 112.8L74.0 113.1L74.9 114.3L76.5 116.3L78.2 118.1L78.9 120.3L79.7 121.9L81.4 123.6L83.2 124.5L84.6 124.0L86.3 122.0L88.8 122.6L90.6 124.0L91.7 126.5L93.2 128.8L94.7 131.1L95.8 134.4L98.3 136.3L100.9 137.2L102.1 137.1M38.8 -9.9L39.4 -9.0L39.9 -8.2L40.5 -7.3L40.8 -6.5L41.2 -5.6L41.6 -4.8L41.9 -3.9L42.3 -3.1L43.5 -3.0L44.8 -2.9L44.8 -1.3L44.9 0.3L45.0 1.9L44.7 3.8L44.4 5.7L44.1 7.6L44.4 8.8L44.7 10.0L45.0 11.2L45.4 12.4L44.1 14.6L42.0 16.0M59.8 45.4L59.2 47.2L58.7 49.0L58.1 50.8L57.5 52.6L56.9 54.4L56.8 55.9L57.0 57.9L55.8 59.5L54.4 61.4L54.2 63.6L53.5 65.7L52.9 67.8L52.3 70.0M56.8 55.9L55.6 55.6L54.4 55.2L53.2 54.8L52.0 54.5L51.2 54.5L49.7 54.4L48.2 54.3L46.5 54.0L44.7 53.5L43.0 52.7L43.3 51.0L42.1 50.2L41.1 49.6M35.0 63.9L36.2 64.4L37.3 64.9L38.5 65.3L39.7 65.8L40.9 66.2L42.2 66.6L43.4 67.1L44.6 67.5L45.8 67.9L47.1 68.3L48.3 68.7L49.6 69.1L50.8 69.5L52.1 69.9L53.3 70.3L54.6 70.6L55.9 71.0L57.1 71.3L58.4 71.7L59.7 72.0L61.0 72.3L62.3 72.7L63.6 73.0L64.9 73.3L66.2 73.6L67.5 73.9M45.0 67.6L44.4 69.4L43.9 71.1L43.3 72.9L42.8 74.6L42.2 76.4L41.7 78.1L42.7 80.0L43.6 81.9L44.6 83.7L45.7 85.6L46.7 87.4L47.8 89.3L48.9 91.1L50.0 92.9L51.2 94.8L52.3 96.6L53.2 99.4L51.7 101.3L51.2 103.8L50.3 104.6M59.8 72.0L59.3 73.9L58.9 75.9L58.4 77.8L57.9 79.7L57.5 81.6L57.0 83.5L56.6 85.4L56.1 87.3L55.7 89.3L55.3 91.2L54.8 93.1L52.7 94.8L52.3 96.6M62.0 46.0L61.5 47.7L60.9 49.5L61.3 51.1L61.9 52.4L62.7 54.0L62.9 55.2L62.8 56.8L62.2 58.6L62.7 59.3L63.3 60.0L63.9 62.1L64.9 64.0L66.1 64.3L68.4 64.5L69.5 64.9L69.1 66.7L68.7 68.5L68.3 70.3L67.9 72.1L67.5 73.9L67.1 75.7L66.7 77.5L68.1 77.7L69.4 78.0L70.7 78.3L72.0 78.5L73.4 78.8L74.7 79.0L76.1 79.3L77.4 79.5L78.7 79.7L80.1 79.9L81.4 80.1L82.8 80.3L84.2 80.5L85.5 80.7L86.9 80.9L88.2 81.1L89.6 81.2L91.0 81.4L90.8 83.2L90.6 85.0L90.4 86.9L90.2 88.7L90.0 90.5L89.9 92.3L89.7 94.2L89.5 96.0M69.9 63.1L71.1 63.4L72.4 63.6L73.6 63.9L74.9 64.1L76.1 64.3L77.4 64.6L78.6 64.8L79.9 65.0L81.1 65.2L82.4 65.4L83.7 65.6L84.9 65.8L86.2 66.0L87.5 66.2M72.0 78.5L71.7 80.4L71.4 82.2L71.0 84.1L70.7 85.9L70.4 87.7L70.0 89.6L69.7 91.4L69.4 93.2L69.1 95.1L68.8 96.9L68.5 98.8L68.2 100.6L67.9 102.4L67.6 104.2L67.3 106.1L67.0 107.9L66.7 109.7L66.4 111.5L66.1 113.4M55.5 89.9L56.9 90.2L58.4 90.6L59.8 90.9L61.2 91.2L62.6 91.6L64.0 91.9L65.4 92.2L66.9 92.5L68.3 92.8L69.8 93.1L71.2 93.3L72.6 93.6L74.1 93.8L75.6 94.1L77.0 94.3L78.5 94.6L79.9 94.8L81.4 95.0L82.9 95.2L84.3 95.4L85.8 95.6L87.3 95.7L88.8 95.9L90.3 96.1L91.7 96.2L93.2 96.4L94.7 96.5L96.2 96.6L97.7 96.7L99.2 96.9L100.7 96.9L102.2 97.0L103.7 97.1L105.2 97.2L106.7 97.3L108.2 97.3L109.7 97.4L111.2 97.4M89.6 51.7L89.3 53.5L89.1 55.3L88.8 57.1L88.5 58.9L88.3 60.7L88.0 62.5L87.7 64.3L87.5 66.2L87.2 68.0L87.0 69.8L86.7 71.6L86.5 73.4L86.2 75.3L86.0 77.1L85.7 78.9L85.5 80.7M88.0 62.7L89.3 62.9L90.7 63.1L92.0 63.2L93.3 63.4L94.7 63.5L96.1 63.7L97.4 63.8L98.8 63.9L100.1 64.0L101.5 64.1L102.8 64.2L104.2 64.3L105.6 64.3L106.9 64.4M86.5 73.4L87.8 73.6L89.1 73.8L90.5 73.9L91.8 74.1L93.2 74.2L94.5 74.3L95.8 74.5L97.2 74.6L98.5 74.7L99.9 74.8L101.2 74.9L102.6 75.3L103.9 75.6L105.2 76.0L106.6 77.1M90.6 85.0L92.0 85.2L93.5 85.3L94.9 85.5L96.4 85.6L97.8 85.7L99.3 85.8L100.7 85.9L102.2 86.0L103.6 86.1L105.1 86.2L106.5 86.2L108.0 86.3L109.5 86.3M86.7 95.7L86.5 97.5L86.3 99.3L86.1 101.1L85.9 102.9L85.7 104.8L85.5 106.6L85.3 108.4L85.1 110.2L84.9 112.0L84.7 113.8L83.1 113.6L81.6 113.4L80.0 113.2L78.5 113.0L76.9 112.8L75.4 112.5L73.8 112.3M86.4 97.5L87.9 97.7L89.4 97.8L90.8 98.0L92.3 98.1L93.8 98.3L95.3 98.4L95.1 100.8L94.9 103.1L94.8 105.5L96.2 106.2L97.7 107.0L99.2 107.5L100.7 108.3L102.2 108.6L103.4 109.0L104.9 108.9L106.7 108.6L108.2 109.6L110.4 109.6L111.4 109.7L112.7 110.0L112.7 111.9L112.7 113.8L112.6 115.7L114.0 117.5L114.1 119.3L113.6 121.1L113.6 122.6L113.1 124.0M111.2 97.4L111.1 99.2L111.4 101.2L111.6 103.3L111.5 105.4L111.4 107.6L111.4 109.7M109.5 86.3L110.0 88.2L111.4 89.7L111.3 91.6L111.3 93.5L111.2 95.5L111.2 97.4M106.6 77.1L107.2 78.9L107.7 80.8L108.1 82.6L108.2 84.2L109.5 86.3M105.9 53.2L105.9 55.0L105.9 56.8L106.1 58.6L106.4 60.5L106.4 62.0L106.9 64.4L107.1 66.8L107.0 69.0L106.9 71.2L106.8 73.4L106.6 75.2L106.6 77.1M106.8 73.4L108.2 73.4L109.6 73.5L111.0 73.5L112.4 73.5L113.8 73.6L115.2 73.6L116.6 73.6L118.0 73.6L119.4 73.6L120.7 73.5M108.2 84.2L109.6 84.2L111.1 84.2L112.5 84.3L113.9 84.3L115.3 84.3L116.7 84.3L118.1 84.3L119.5 84.3L120.4 85.0M118.3 61.8L117.8 64.0L116.8 66.6L116.5 69.0L117.8 69.9L119.4 71.4L120.7 73.5M120.7 73.5L121.0 75.4L122.4 77.2L123.8 79.0L122.9 80.8L121.5 82.7L120.4 85.0L120.2 86.4L121.6 88.2L123.9 90.0L124.0 91.5L124.9 93.7L126.1 95.4L127.2 97.2L126.3 99.1L125.7 101.0L124.9 102.8L124.3 104.7L123.2 106.5L122.3 108.4L121.7 110.2L121.6 112.0L122.1 113.8L121.2 115.7L120.6 117.5L120.3 119.3L122.2 119.3L124.2 119.2L126.2 119.2L126.3 120.6L126.7 122.1M122.6 62.2L123.4 63.9L124.7 64.1L126.0 64.2L127.3 64.5L128.6 64.8L129.2 66.3L130.0 67.3M122.4 77.2L123.9 77.1L125.5 77.1L127.0 77.0L128.5 77.0L130.1 76.9M131.0 79.5L131.1 81.8L131.2 84.0L131.4 86.2L131.5 88.4L131.7 90.0L131.2 91.5L130.5 93.0L130.4 94.2M127.2 97.2L129.1 96.8L130.2 95.6L130.4 94.2L131.6 93.7L133.3 93.6L134.7 93.1L136.7 92.3L138.0 90.3L139.4 89.8L139.2 88.7L140.9 89.3L142.5 89.9L144.5 90.0L145.8 90.6L147.0 88.6L148.2 87.0L150.1 85.3L150.3 83.8L150.5 81.7M138.4 79.2L138.5 81.1L138.7 83.0L138.9 84.9L139.1 86.8L139.2 88.7M132.9 79.4L134.3 79.4L135.7 79.3L137.0 79.3L138.4 79.2L140.3 79.0L142.1 78.7M149.8 76.8L150.1 78.9L150.4 80.9L150.7 83.0L151.0 85.1L152.4 84.9L153.9 84.6L155.3 84.4L156.8 84.2L158.2 83.9L159.7 83.7L161.1 83.4L162.5 83.1L163.9 82.9M151.7 75.5L151.9 76.5L153.3 76.2L154.8 76.0L156.2 75.8L157.7 75.5L159.1 75.2L160.6 75.0L162.0 74.7L163.5 74.4L165.7 76.3L164.9 78.0L164.9 79.4L166.3 80.6L165.2 82.1L164.8 82.4M163.9 82.9L164.5 85.1L165.0 87.4L166.8 87.0M165.7 76.3L168.0 77.2M153.9 84.6L154.1 86.5L155.6 85.8L157.0 85.1L158.5 84.3L159.0 85.4L160.8 86.1L161.2 86.8L161.5 88.6L163.1 89.4L163.8 89.5M159.0 85.4L157.5 86.4L156.0 87.7L154.8 89.4L153.3 91.1L151.3 93.3L149.1 94.3L147.9 93.6L145.8 90.6M147.9 93.6L146.4 94.9L144.9 96.2L143.3 97.5M126.3 99.1L128.4 99.0L130.5 98.9L130.4 98.4L132.0 98.3L133.5 98.2L135.0 98.1L136.5 98.1L138.2 97.9L139.9 97.8L141.6 97.7L143.3 97.5L144.8 97.4L146.2 97.2L147.7 97.0L149.1 96.9L150.7 96.7L152.2 96.5L153.7 96.3L155.2 96.1L156.8 95.9L158.3 95.6L159.8 95.4L161.3 95.1L162.8 94.9L164.3 94.6L165.8 94.3M149.1 96.9L148.4 98.8L146.7 99.7L144.2 101.5L142.0 103.6M124.3 104.7L125.9 104.6L127.5 104.6L129.2 104.5L130.8 104.4L132.4 104.3L134.0 104.2L135.6 104.1L137.2 104.0L138.8 103.9L140.4 103.7L142.0 103.6L143.8 103.4L145.6 103.2M111.1 99.2L112.8 99.3L114.4 99.3L116.1 99.3L117.7 99.3L119.4 99.3L121.0 99.3L122.7 99.2L124.3 99.2L123.7 101.0L125.7 101.0M112.7 112.0L114.4 112.0L116.2 112.0L118.0 112.0L119.8 112.0L121.5 112.0M130.3 104.4L130.7 104.8L130.6 106.6L130.5 108.4L130.3 110.3L130.2 112.1L130.1 113.9L130.0 115.8L130.1 117.6L130.3 119.4L130.4 121.2M138.1 103.9L138.6 105.8L139.0 107.8L139.5 109.7L140.0 111.6L140.7 113.6L140.5 116.1L141.0 118.3L141.5 119.3M141.0 118.3L139.4 118.4L137.8 118.5L136.1 118.7L134.5 118.8L132.9 118.9L133.3 121.4M141.5 119.3L143.2 119.2L144.9 119.1L146.5 119.0L148.2 118.9L149.9 118.8L150.4 119.4L152.1 118.1M145.6 103.2L146.1 105.0L148.0 106.6L149.7 108.2L151.1 109.9L152.2 111.5L153.4 113.1M145.6 103.2L147.9 102.2L149.8 102.0L151.6 101.9L151.9 102.2L152.5 103.0L154.1 102.8L155.8 102.6L157.7 104.0L159.6 105.5M165.5 89.0L166.6 88.8M166.2 62.5L166.9 65.1L167.6 67.6L168.3 70.5L168.2 73.2L168.6 76.7L168.7 77.0M170.7 61.4L170.9 63.3L170.2 65.0L170.0 66.9L170.3 70.1M168.3 70.6L169.9 70.2L171.6 69.8L173.3 69.4L174.3 68.6M168.2 73.2L169.7 72.9L171.2 72.5L172.6 72.2L173.7 72.0L174.0 72.9L174.8 73.6M172.6 72.2L173.1 74.8M171.4 60.1L171.9 61.9L172.5 63.6L173.0 65.4L173.5 67.1L174.4 67.7"/>
</g>
</defs>
<rect width="2218" height="708" fill="#fff"/>
<text transform="matrix(1 0 0 1.045 822.3 50.8)" font-size="62.5">OND</text>
<text transform="matrix(0.988 0 0 1.045 1047.0 50.8)" font-size="62.5">Days 8 to 14</text>

<g transform="translate(7.50,120.70)">
<text transform="matrix(1 0 0 1.04 -2.3 -4.7)" font-size="18.8">Phase 1, MVP+</text>
<text transform="matrix(1 0 0 1.04 234.7 -3.1)" font-size="18.8" text-anchor="end">14 events</text>
<g clip-path="url(#pc)">
<path d="M30.4 24.0L35.2 7.8L38.7 6.5L38.2 14.8L36.0 25.3L33.4 25.8Z" fill="#ffe132"/><path d="M113.6 109.3L121.2 109.3L121.1 100.2L113.7 100.2ZM121.2 109.3L128.9 109.1L128.5 99.9L121.1 100.2ZM128.9 109.1L136.5 108.6L135.9 99.5L128.5 99.9ZM98.9 99.6L106.3 100.0L106.6 90.8L99.5 90.4ZM106.3 100.0L113.7 100.2L113.8 91.0L106.6 90.8ZM113.7 100.2L121.1 100.2L121.0 91.0L113.8 91.0ZM121.1 100.2L128.5 99.9L128.1 90.8L121.0 91.0ZM128.5 99.9L135.9 99.5L135.3 90.3L128.1 90.8ZM135.9 99.5L143.2 98.8L142.4 89.7L135.3 90.3ZM106.6 90.8L113.8 91.0L113.9 81.8L107.0 81.6ZM113.8 91.0L121.0 91.0L120.8 81.8L113.9 81.8ZM121.0 91.0L128.1 90.8L127.7 81.6L120.8 81.8ZM128.1 90.8L135.3 90.3L134.6 81.2L127.7 81.6ZM135.3 90.3L142.4 89.7L141.4 80.6L134.6 81.2ZM127.7 81.6L134.6 81.2L133.9 72.0L127.3 72.4Z" fill="#00bfff" stroke="#00bfff" stroke-width="0.35"/><path d="M98.3 108.7L106.0 109.1L106.3 100.0L98.9 99.6ZM105.4 127.2L113.4 127.4L113.5 118.4L105.7 118.2ZM97.8 117.8L105.7 118.2L106.0 109.1L98.3 108.7ZM105.7 118.2L113.5 118.4L113.6 109.3L106.0 109.1ZM113.5 118.4L121.4 118.4L121.2 109.3L113.6 109.3ZM121.4 118.4L129.2 118.2L128.9 109.1L121.2 109.3ZM129.2 118.2L137.0 117.7L136.5 108.6L128.9 109.1Z" fill="#a0d2ff" stroke="#a0d2ff" stroke-width="0.35"/>
<path d="M5.8 1.7C7.1 1.9 10.9 2.4 13.3 3.0C15.7 3.6 18.1 4.2 20.3 5.2C22.5 6.1 24.4 7.4 26.4 8.7C28.5 10.0 30.4 11.8 32.5 13.1C34.7 14.3 37.8 15.4 39.6 16.1C41.3 16.9 41.9 17.3 43.1 17.5C44.2 17.6 45.4 18.0 46.6 17.3C47.7 16.5 49.2 14.5 50.1 13.1C50.9 11.6 51.7 10.6 51.8 8.7C52.0 6.8 51.1 2.8 50.9 1.7" fill="none" stroke="#ff0000" stroke-width="2.5" stroke-linecap="round" stroke-linejoin="round"/><path d="M1.0 48.6C1.4 49.1 3.1 50.7 3.6 51.6C4.1 52.6 4.2 53.4 4.1 54.2C3.9 55.1 3.3 56.1 2.8 56.9C2.2 57.6 1.3 58.3 1.0 58.6" fill="none" stroke="#0000ff" stroke-width="2.5" stroke-linecap="round" stroke-linejoin="round"/><path d="M234.0 7.2C230.9 10.5 219.9 21.5 215.4 26.9C210.8 32.4 209.9 35.7 206.6 40.1C203.3 44.5 199.3 49.6 195.7 53.2C192.0 56.9 188.0 60.1 184.7 62.0C181.5 63.8 178.5 64.1 176.0 64.2C173.4 64.2 171.6 63.2 169.4 62.4C167.2 61.6 165.4 61.2 162.9 59.3C160.3 57.4 156.7 53.8 154.1 51.0C151.5 48.2 149.7 45.0 147.5 42.7C145.3 40.4 144.2 38.9 141.0 37.5C137.7 36.0 131.8 34.2 127.8 33.9C123.8 33.7 120.2 34.5 116.9 35.7C113.6 36.9 110.3 39.3 108.1 41.2C105.9 43.0 105.6 43.5 103.8 46.6C101.9 49.7 99.2 56.0 97.2 59.8C95.1 63.5 93.2 66.0 91.4 69.2C89.6 72.4 87.7 75.8 86.5 79.1C85.2 82.4 84.3 85.7 84.0 89.0C83.7 92.3 83.7 96.2 84.5 98.9C85.2 101.5 86.6 103.0 88.4 104.8C90.2 106.6 92.7 108.2 95.4 109.7C98.0 111.2 101.0 112.7 104.3 113.7C107.6 114.7 111.7 115.5 115.1 115.7C118.6 115.8 121.7 115.2 125.0 114.7C128.3 114.2 131.6 113.5 134.9 112.7C138.2 111.9 141.7 110.7 144.8 109.7C147.9 108.7 150.7 107.9 153.7 106.8C156.6 105.6 157.0 106.6 162.5 102.8C168.0 99.0 181.0 88.5 186.9 83.9C192.8 79.2 193.9 77.3 197.9 75.1C201.9 72.9 205.0 72.2 211.0 70.7C217.0 69.3 230.2 67.1 234.0 66.3" fill="none" stroke="#0000ff" stroke-width="2.5" stroke-linecap="round" stroke-linejoin="round"/>
<use href="#map"/>
</g>
<rect x="0" y="0" width="234.4" height="144.9" fill="none" stroke="#000" stroke-width="4.3" stroke-linejoin="round"/>
</g>
<g transform="translate(288.73,120.70)">
<text transform="matrix(1 0 0 1.04 -2.3 -4.7)" font-size="18.8">Phase 2, MVP+</text>
<text transform="matrix(1 0 0 1.04 234.7 -3.1)" font-size="18.8" text-anchor="end">13 events</text>
<g clip-path="url(#pc)">
<path d="M1.7 5.1L9.4 0.7L11.6 0.7L5.0 7.2Z" fill="#ffe132"/><path d="M97.3 126.8L105.4 127.2L105.7 118.2L97.8 117.8ZM105.4 127.2L113.4 127.4L113.5 118.4L105.7 118.2ZM105.1 136.2L113.3 136.4L113.4 127.4L105.4 127.2Z" fill="#a0d2ff" stroke="#a0d2ff" stroke-width="0.35"/><path d="M196.3 77.5L202.5 75.2L199.4 66.5L193.5 68.8ZM202.5 75.2L208.6 72.6L205.3 64.1L199.4 66.5ZM208.6 72.6L214.4 69.9L210.9 61.5L205.3 64.1ZM214.4 69.9L220.1 67.0L216.4 58.7L210.9 61.5ZM199.4 66.5L205.3 64.1L201.8 55.6L196.2 57.9ZM205.3 64.1L210.9 61.5L207.2 53.1L201.8 55.6ZM210.9 61.5L216.4 58.7L212.5 50.4L207.2 53.1Z" fill="#ffe132" stroke="#ffe132" stroke-width="0.35"/><path d="M193.5 68.8L199.4 66.5L196.2 57.9L190.5 60.1ZM201.8 55.6L207.2 53.1L203.4 44.7L198.2 47.1Z" fill="#ffaa00" stroke="#ffaa00" stroke-width="0.35"/>
<path d="M100.2 -0.4C100.1 2.0 98.6 8.9 99.1 13.8C99.7 18.7 101.3 24.9 103.5 29.1C105.7 33.3 108.6 36.6 112.3 39.0C115.9 41.4 121.0 43.0 125.4 43.4C129.8 43.7 133.8 43.0 138.5 41.2C143.3 39.3 149.5 35.5 153.9 32.4C158.2 29.3 161.9 26.0 164.8 22.6C167.7 19.1 170.0 15.5 171.4 11.6C172.8 7.8 172.8 1.6 173.1 -0.4" fill="none" stroke="#0000ff" stroke-width="2.5" stroke-linecap="round" stroke-linejoin="round"/><path d="M122.1 -0.4C122.3 1.6 121.9 8.5 123.2 11.6C124.5 14.7 127.6 17.2 129.8 18.2C132.0 19.2 134.2 18.7 136.4 17.8C138.5 16.8 141.5 14.7 142.9 12.7C144.4 10.8 145.0 8.3 145.1 6.1C145.2 4.0 143.7 0.7 143.4 -0.4" fill="none" stroke="#0000ff" stroke-width="2.5" stroke-linecap="round" stroke-linejoin="round"/><path d="M209.7 16.6C213.6 15.7 216.8 16.0 219.8 17.2C222.8 18.4 225.7 21.3 227.7 24.0C229.7 26.6 229.8 29.8 231.7 33.0C233.6 36.2 237.8 38.7 239.0 43.2C240.2 47.7 240.1 55.2 239.0 60.1C237.9 65.0 235.1 69.7 232.2 72.5C229.4 75.3 226.0 75.7 222.1 77.0C218.1 78.4 212.9 80.1 208.5 80.4C204.2 80.8 199.9 80.2 196.1 79.3C192.3 78.4 188.6 77.0 185.9 74.8C183.3 72.5 181.6 69.1 180.3 65.8C179.0 62.4 178.0 58.2 178.0 54.5C178.0 50.7 178.8 46.9 180.3 43.2C181.8 39.4 184.4 35.3 187.1 31.9C189.7 28.5 192.3 25.4 196.1 22.8C199.9 20.3 205.7 17.6 209.7 16.6Z" fill="none" stroke="#ff0000" stroke-width="2.5" stroke-linecap="round" stroke-linejoin="round"/>
<use href="#map"/>
</g>
<rect x="0" y="0" width="234.4" height="144.9" fill="none" stroke="#000" stroke-width="4.3" stroke-linejoin="round"/>
</g>
<g transform="translate(569.96,120.70)">
<text transform="matrix(1 0 0 1.04 -2.3 -4.7)" font-size="18.8">Phase 3, MVP+</text>
<text transform="matrix(1 0 0 1.04 234.7 -3.1)" font-size="18.8" text-anchor="end">11 events</text>
<g clip-path="url(#pc)">
<path d="M202.5 75.2L208.6 72.6L205.3 64.1L199.4 66.5ZM208.6 72.6L214.4 69.9L210.9 61.5L205.3 64.1ZM192.5 88.5L199.0 86.2L196.3 77.5L190.0 79.7ZM199.0 86.2L205.4 83.8L202.5 75.2L196.3 77.5ZM187.9 99.4L194.8 97.3L192.5 88.5L185.8 90.6ZM194.8 97.3L201.6 94.9L199.0 86.2L192.5 88.5ZM201.6 94.9L208.2 92.4L205.4 83.8L199.0 86.2Z" fill="#ffe132" stroke="#ffe132" stroke-width="0.35"/><path d="M178.9 92.5L185.8 90.6L183.5 81.7L176.9 83.5ZM163.3 86.6L170.2 85.2L168.2 76.2L161.7 77.6ZM170.2 85.2L176.9 83.5L174.7 74.6L168.2 76.2ZM176.9 83.5L183.5 81.7L181.1 72.9L174.7 74.6ZM183.5 81.7L190.0 79.7L187.4 70.9L181.1 72.9ZM190.0 79.7L196.3 77.5L193.5 68.8L187.4 70.9ZM196.3 77.5L202.5 75.2L199.4 66.5L193.5 68.8ZM155.0 78.8L161.7 77.6L159.9 68.6L153.5 69.7ZM161.7 77.6L168.2 76.2L166.2 67.2L159.9 68.6ZM168.2 76.2L174.7 74.6L172.5 65.7L166.2 67.2ZM174.7 74.6L181.1 72.9L178.6 64.0L172.5 65.7ZM181.1 72.9L187.4 70.9L184.6 62.2L178.6 64.0ZM187.4 70.9L193.5 68.8L190.5 60.1L184.6 62.2ZM193.5 68.8L199.4 66.5L196.2 57.9L190.5 60.1ZM199.4 66.5L205.3 64.1L201.8 55.6L196.2 57.9ZM205.3 64.1L210.9 61.5L207.2 53.1L201.8 55.6ZM184.6 62.2L190.5 60.1L187.3 51.5L181.7 53.4ZM190.5 60.1L196.2 57.9L192.8 49.4L187.3 51.5ZM196.2 57.9L201.8 55.6L198.2 47.1L192.8 49.4ZM201.8 55.6L207.2 53.1L203.4 44.7L198.2 47.1ZM158.1 59.6L164.1 58.3L161.9 49.4L156.1 50.6ZM164.1 58.3L170.1 56.8L167.6 48.0L161.9 49.4ZM170.1 56.8L175.9 55.2L173.2 46.5L167.6 48.0ZM175.9 55.2L181.7 53.4L178.7 44.8L173.2 46.5ZM181.7 53.4L187.3 51.5L184.0 42.9L178.7 44.8ZM187.3 51.5L192.8 49.4L189.3 40.9L184.0 42.9ZM192.8 49.4L198.2 47.1L194.4 38.8L189.3 40.9ZM198.2 47.1L203.4 44.7L199.3 36.5L194.4 38.8Z" fill="#ffaa00" stroke="#ffaa00" stroke-width="0.35"/><path d="M153.5 69.7L159.9 68.6L158.1 59.6L151.9 60.7ZM159.9 68.6L166.2 67.2L164.1 58.3L158.1 59.6ZM166.2 67.2L172.5 65.7L170.1 56.8L164.1 58.3ZM172.5 65.7L178.6 64.0L175.9 55.2L170.1 56.8ZM178.6 64.0L184.6 62.2L181.7 53.4L175.9 55.2Z" fill="#ff6e00" stroke="#ff6e00" stroke-width="0.35"/>
<path d="M231.7 49.2C228.3 47.7 223.9 45.2 220.3 43.4C216.7 41.6 213.5 40.3 210.1 38.4C206.7 36.5 203.3 33.9 199.9 32.0C196.6 30.1 193.2 27.9 189.8 26.9C186.4 26.0 183.0 26.1 179.6 26.3C176.2 26.5 172.8 27.0 169.5 28.2C166.1 29.4 162.5 30.9 159.3 33.3C156.1 35.6 152.6 39.0 150.4 42.2C148.2 45.3 146.6 49.2 145.9 52.3C145.3 55.5 145.6 58.3 146.6 61.2C147.5 64.2 149.5 67.6 151.7 70.1C153.8 72.7 156.3 74.4 159.3 76.5C162.3 78.6 166.3 80.9 169.5 82.8C172.6 84.7 175.4 87.0 178.3 87.9C181.3 88.9 184.1 88.8 187.2 88.6C190.4 88.3 194.2 87.6 197.4 86.6C200.6 85.7 203.3 84.1 206.3 82.8C209.3 81.6 212.4 80.1 215.2 79.0C217.9 78.0 220.1 77.1 222.8 76.5C225.6 75.8 228.7 75.8 231.7 75.2C234.7 74.6 239.1 76.5 240.6 72.7C242.1 68.9 242.1 56.3 240.6 52.3C239.1 48.4 235.1 50.6 231.7 49.2Z" fill="none" stroke="#ff0000" stroke-width="2.5" stroke-linecap="round" stroke-linejoin="round"/><path d="M35.2 -0.3C35.3 1.3 34.8 6.5 35.7 9.7C36.7 12.9 38.8 15.9 40.8 18.7C42.7 21.5 45.6 23.1 47.5 26.5C49.3 29.8 51.0 35.4 51.9 38.8C52.9 42.1 51.9 44.3 53.1 46.6C54.2 48.9 56.8 51.6 58.7 52.8C60.5 54.0 62.4 54.2 64.2 53.9C66.1 53.6 67.8 52.9 69.8 51.1C71.9 49.3 74.5 46.2 76.5 43.3C78.6 40.3 80.7 36.7 82.1 33.2C83.5 29.7 84.2 25.0 84.9 22.0C85.7 19.0 85.4 17.5 86.6 15.3C87.8 13.1 90.1 10.5 92.2 8.6C94.2 6.7 96.3 5.6 98.9 4.1C101.5 2.6 106.4 0.4 107.9 -0.3" fill="none" stroke="#0000ff" stroke-width="2.5" stroke-linecap="round" stroke-linejoin="round"/><path d="M174.9 0.2C177.7 1.2 186.1 4.2 191.7 6.4C197.3 8.5 201.2 10.6 208.5 13.1C215.8 15.6 230.8 20.1 235.3 21.5" fill="none" stroke="#0000ff" stroke-width="2.5" stroke-linecap="round" stroke-linejoin="round"/><path d="M204.0 0.2C206.2 1.1 212.2 3.4 217.4 5.2C222.6 7.1 232.3 10.4 235.3 11.4" fill="none" stroke="#0000ff" stroke-width="2.5" stroke-linecap="round" stroke-linejoin="round"/>
<use href="#map"/>
</g>
<rect x="0" y="0" width="234.4" height="144.9" fill="none" stroke="#000" stroke-width="4.3" stroke-linejoin="round"/>
</g>
<g transform="translate(851.19,120.70)">
<text transform="matrix(1 0 0 1.04 -2.3 -4.7)" font-size="18.8">Phase 4, MVP+</text>
<text transform="matrix(1 0 0 1.04 234.7 -3.1)" font-size="18.8" text-anchor="end">13 events</text>
<g clip-path="url(#pc)">
<path d="M125.4 36.1L130.8 35.7L129.9 26.8L124.9 27.1ZM130.8 35.7L136.2 35.3L135.0 26.4L129.9 26.8Z" fill="#1e90ff" stroke="#1e90ff" stroke-width="0.35"/><path d="M210.1 129.4L217.4 126.6L215.4 118.1L208.3 120.9ZM217.4 126.6L224.5 123.6L222.3 115.2L215.4 118.1ZM224.5 123.6L231.4 120.4L229.1 112.1L222.3 115.2ZM231.4 120.4L238.0 117.0L235.6 108.8L229.1 112.1ZM215.4 118.1L222.3 115.2L220.0 106.7L213.2 109.6ZM222.3 115.2L229.1 112.1L226.5 103.7L220.0 106.7ZM229.1 112.1L235.6 108.8L232.9 100.4L226.5 103.7Z" fill="#ffffc8" stroke="#ffffc8" stroke-width="0.35"/>
<path d="M0.1 18.8C2.1 19.3 7.9 20.3 12.1 21.5C16.3 22.6 22.0 26.0 25.3 25.8C28.5 25.7 30.0 23.1 31.8 20.4C33.7 17.6 35.0 12.9 36.2 9.4C37.4 6.0 38.4 1.2 38.8 -0.4" fill="none" stroke="#ff0000" stroke-width="2.5" stroke-linecap="round" stroke-linejoin="round"/><path d="M118.9 -0.4C117.6 1.2 112.4 6.0 110.6 9.4C108.9 12.9 108.6 16.4 108.4 20.4C108.3 24.4 108.6 29.1 109.5 33.5C110.4 37.9 111.9 42.8 113.9 46.6C115.9 50.5 118.8 53.6 121.6 56.5C124.3 59.4 127.0 61.8 130.3 64.2C133.6 66.5 137.3 68.7 141.3 70.7C145.3 72.7 150.0 75.1 154.4 76.2C158.8 77.3 163.5 78.2 167.5 77.3C171.6 76.4 175.6 73.3 178.5 70.7C181.4 68.2 183.2 65.6 185.1 62.0C186.9 58.3 188.5 53.6 189.4 48.8C190.3 44.1 190.2 37.9 190.5 33.5C190.9 29.1 190.7 25.5 191.6 22.6C192.5 19.6 193.4 18.0 196.0 16.0C198.6 14.0 202.9 12.2 206.9 10.5C211.0 8.9 215.5 7.8 220.1 6.1C224.6 4.5 231.9 1.6 234.3 0.7" fill="none" stroke="#0000ff" stroke-width="2.5" stroke-linecap="round" stroke-linejoin="round"/>
<use href="#map"/>
</g>
<rect x="0" y="0" width="234.4" height="144.9" fill="none" stroke="#000" stroke-width="4.3" stroke-linejoin="round"/>
</g>
<g transform="translate(1132.42,120.70)">
<text transform="matrix(1 0 0 1.04 -2.3 -4.7)" font-size="18.8">Phase 5, MVP+</text>
<text transform="matrix(1 0 0 1.04 234.7 -3.1)" font-size="18.8" text-anchor="end">22 events</text>
<g clip-path="url(#pc)">
<path d="M100.8 72.1L107.4 72.5L107.8 63.3L101.4 63.0ZM107.4 72.5L114.0 72.6L114.1 63.5L107.8 63.3ZM114.0 72.6L120.7 72.6L120.5 63.5L114.1 63.5ZM101.4 63.0L107.8 63.3L108.2 54.2L102.2 53.8ZM107.8 63.3L114.1 63.5L114.3 54.3L108.2 54.2ZM114.1 63.5L120.5 63.5L120.3 54.3L114.3 54.3Z" fill="#00bfff" stroke="#00bfff" stroke-width="0.35"/><path d="M120.7 72.6L127.3 72.4L126.8 63.3L120.5 63.5Z" fill="#a0d2ff" stroke="#a0d2ff" stroke-width="0.35"/><path d="M89.3 126.1L97.3 126.8L97.8 117.8L90.0 117.1ZM97.3 126.8L105.4 127.2L105.7 118.2L97.8 117.8ZM79.8 142.9L88.1 143.8L88.7 135.0L80.6 134.1ZM88.1 143.8L96.5 144.5L96.9 135.7L88.7 135.0ZM96.5 144.5L104.9 145.0L105.1 136.2L96.9 135.7ZM80.6 134.1L88.7 135.0L89.3 126.1L81.4 125.2ZM88.7 135.0L96.9 135.7L97.3 126.8L89.3 126.1ZM96.9 135.7L105.1 136.2L105.4 127.2L97.3 126.8Z" fill="#ffe132" stroke="#ffe132" stroke-width="0.35"/>
<path d="M29.4 53.2C29.9 51.4 30.5 48.3 32.7 46.6C34.9 45.0 39.1 43.5 42.5 43.4C46.0 43.2 50.8 44.1 53.5 45.5C56.2 47.0 58.6 49.9 59.0 52.1C59.3 54.3 57.7 57.0 55.7 58.7C53.7 60.3 50.2 61.4 46.9 62.0C43.6 62.5 38.8 62.7 36.0 62.0C33.1 61.2 30.9 59.0 29.9 57.6C28.8 56.1 28.9 55.0 29.4 53.2Z" fill="none" stroke="#0000ff" stroke-width="2.5" stroke-linecap="round" stroke-linejoin="round"/><path d="M112.4 50.0C114.1 49.3 116.8 48.4 119.2 47.8C121.7 47.1 124.4 46.3 127.1 46.1C129.9 45.9 133.2 46.3 135.6 46.6C138.1 47.0 140.0 46.6 141.8 48.3C143.7 50.1 146.4 55.3 146.6 57.4C146.8 59.5 144.3 59.5 142.9 61.1C141.6 62.6 140.1 64.8 138.4 66.4C136.7 68.0 134.7 69.8 132.8 70.7C130.9 71.6 129.4 71.5 127.1 71.8C124.9 72.1 121.8 72.4 119.2 72.4C116.7 72.3 114.0 72.0 111.9 71.5C109.7 71.0 107.7 70.2 106.2 69.2C104.8 68.3 103.9 67.1 103.1 65.9C102.4 64.6 102.2 63.0 101.7 61.9C101.2 60.8 99.8 60.1 100.3 59.1C100.8 58.0 103.1 56.8 104.5 55.7C106.0 54.6 107.7 53.2 109.0 52.3C110.4 51.4 110.7 50.8 112.4 50.0Z" fill="none" stroke="#0000ff" stroke-width="2.5" stroke-linecap="round" stroke-linejoin="round"/><path d="M91.8 -0.4C93.4 0.9 97.8 5.2 101.6 7.2C105.5 9.3 110.4 10.7 114.8 11.6C119.2 12.5 123.2 12.9 127.9 12.7C132.7 12.5 138.5 11.6 143.2 10.5C148.0 9.4 152.5 8.0 156.4 6.1C160.2 4.3 164.6 0.7 166.2 -0.4" fill="none" stroke="#ff0000" stroke-width="2.5" stroke-linecap="round" stroke-linejoin="round"/>
<use href="#map"/>
</g>
<rect x="0" y="0" width="234.4" height="144.9" fill="none" stroke="#000" stroke-width="4.3" stroke-linejoin="round"/>
</g>
<g transform="translate(1413.65,120.70)">
<text transform="matrix(1 0 0 1.04 -2.3 -4.7)" font-size="18.8">Phase 6, MVP+</text>
<text transform="matrix(1 0 0 1.04 234.7 -3.1)" font-size="18.8" text-anchor="end">37 events</text>
<g clip-path="url(#pc)">
<path d="M90.2 52.7L96.1 53.3L97.2 44.3L91.5 43.7ZM74.8 40.8L80.3 41.9L82.4 33.1L77.2 32.0ZM80.3 41.9L85.9 42.9L87.6 34.0L82.4 33.1ZM85.9 42.9L91.5 43.7L92.9 34.7L87.6 34.0ZM91.5 43.7L97.2 44.3L98.3 35.3L92.9 34.7ZM97.2 44.3L102.9 44.8L103.7 35.8L98.3 35.3ZM72.0 30.8L77.2 32.0L79.6 23.3L74.8 22.2ZM77.2 32.0L82.4 33.1L84.4 24.3L79.6 23.3ZM82.4 33.1L87.6 34.0L89.4 25.2L84.4 24.3ZM87.6 34.0L92.9 34.7L94.4 25.9L89.4 25.2ZM92.9 34.7L98.3 35.3L99.4 26.5L94.4 25.9ZM98.3 35.3L103.7 35.8L104.5 26.9L99.4 26.5ZM79.6 23.3L84.4 24.3L86.6 15.7L82.0 14.8ZM84.4 24.3L89.4 25.2L91.2 16.5L86.6 15.7ZM89.4 25.2L94.4 25.9L95.8 17.2L91.2 16.5ZM94.4 25.9L99.4 26.5L100.5 17.7L95.8 17.2Z" fill="#1e90ff" stroke="#1e90ff" stroke-width="0.35"/><path d="M74.7 68.8L81.1 69.9L82.7 60.8L76.5 59.8ZM81.1 69.9L87.6 70.8L88.9 61.7L82.7 60.8ZM87.6 70.8L94.2 71.5L95.1 62.4L88.9 61.7ZM94.2 71.5L100.8 72.1L101.4 63.0L95.1 62.4ZM100.8 72.1L107.4 72.5L107.8 63.3L101.4 63.0ZM52.8 53.8L58.6 55.5L61.3 46.7L55.8 45.1ZM58.6 55.5L64.5 57.1L66.9 48.3L61.3 46.7ZM64.5 57.1L70.4 58.5L72.6 49.6L66.9 48.3ZM70.4 58.5L76.5 59.8L78.4 50.8L72.6 49.6ZM76.5 59.8L82.7 60.8L84.3 51.8L78.4 50.8ZM82.7 60.8L88.9 61.7L90.2 52.7L84.3 51.8ZM88.9 61.7L95.1 62.4L96.1 53.3L90.2 52.7ZM95.1 62.4L101.4 63.0L102.2 53.8L96.1 53.3ZM101.4 63.0L107.8 63.3L108.2 54.2L102.2 53.8ZM107.8 63.3L114.1 63.5L114.3 54.3L108.2 54.2ZM45.1 41.3L50.4 43.3L53.8 34.7L48.8 32.9ZM50.4 43.3L55.8 45.1L58.9 36.5L53.8 34.7ZM55.8 45.1L61.3 46.7L64.1 38.1L58.9 36.5ZM61.3 46.7L66.9 48.3L69.4 39.5L64.1 38.1ZM66.9 48.3L72.6 49.6L74.8 40.8L69.4 39.5ZM72.6 49.6L78.4 50.8L80.3 41.9L74.8 40.8ZM78.4 50.8L84.3 51.8L85.9 42.9L80.3 41.9ZM84.3 51.8L90.2 52.7L91.5 43.7L85.9 42.9ZM96.1 53.3L102.2 53.8L102.9 44.8L97.2 44.3ZM102.2 53.8L108.2 54.2L108.6 45.1L102.9 44.8ZM108.2 54.2L114.3 54.3L114.4 45.3L108.6 45.1ZM114.3 54.3L120.3 54.3L120.1 45.2L114.4 45.3ZM48.8 32.9L53.8 34.7L57.3 26.3L52.5 24.5ZM53.8 34.7L58.9 36.5L62.1 27.9L57.3 26.3ZM58.9 36.5L64.1 38.1L67.0 29.4L62.1 27.9ZM64.1 38.1L69.4 39.5L72.0 30.8L67.0 29.4ZM69.4 39.5L74.8 40.8L77.2 32.0L72.0 30.8ZM102.9 44.8L108.6 45.1L109.1 36.1L103.7 35.8ZM108.6 45.1L114.4 45.3L114.5 36.2L109.1 36.1ZM114.4 45.3L120.1 45.2L119.9 36.2L114.5 36.2ZM52.5 24.5L57.3 26.3L60.9 18.0L56.4 16.3ZM57.3 26.3L62.1 27.9L65.4 19.5L60.9 18.0ZM62.1 27.9L67.0 29.4L70.0 20.9L65.4 19.5ZM67.0 29.4L72.0 30.8L74.8 22.2L70.0 20.9ZM103.7 35.8L109.1 36.1L109.5 27.2L104.5 26.9ZM109.1 36.1L114.5 36.2L114.6 27.3L109.5 27.2ZM56.4 16.3L60.9 18.0L64.6 9.8L60.4 8.2ZM60.9 18.0L65.4 19.5L68.8 11.2L64.6 9.8ZM65.4 19.5L70.0 20.9L73.1 12.5L68.8 11.2ZM70.0 20.9L74.8 22.2L77.5 13.7L73.1 12.5ZM74.8 22.2L79.6 23.3L82.0 14.8L77.5 13.7ZM99.4 26.5L104.5 26.9L105.3 18.1L100.5 17.7ZM104.5 26.9L109.5 27.2L110.0 18.4L105.3 18.1ZM64.6 9.8L68.8 11.2L72.3 3.1L68.4 1.7ZM68.8 11.2L73.1 12.5L76.3 4.3L72.3 3.1ZM73.1 12.5L77.5 13.7L80.4 5.4L76.3 4.3ZM77.5 13.7L82.0 14.8L84.6 6.4L80.4 5.4ZM82.0 14.8L86.6 15.7L88.8 7.2L84.6 6.4ZM86.6 15.7L91.2 16.5L93.0 8.0L88.8 7.2ZM91.2 16.5L95.8 17.2L97.4 8.6L93.0 8.0ZM95.8 17.2L100.5 17.7L101.7 9.1L97.4 8.6ZM100.5 17.7L105.3 18.1L106.1 9.4L101.7 9.1ZM84.6 6.4L88.8 7.2L91.0 -1.1L87.1 -1.9ZM88.8 7.2L93.0 8.0L95.0 -0.4L91.0 -1.1ZM93.0 8.0L97.4 8.6L98.9 0.1L95.0 -0.4Z" fill="#00bfff" stroke="#00bfff" stroke-width="0.35"/><path d="M16.8 78.8L22.9 81.6L26.0 73.0L20.1 70.4ZM22.9 81.6L29.2 84.2L32.1 75.6L26.0 73.0ZM29.2 84.2L35.6 86.6L38.3 77.9L32.1 75.6ZM35.6 86.6L42.2 88.9L44.6 80.1L38.3 77.9ZM20.1 70.4L26.0 73.0L29.3 64.5L23.6 61.9ZM26.0 73.0L32.1 75.6L35.1 66.9L29.3 64.5ZM32.1 75.6L38.3 77.9L41.1 69.2L35.1 66.9ZM38.3 77.9L44.6 80.1L47.2 71.3L41.1 69.2ZM23.6 61.9L29.3 64.5L32.7 56.0L27.2 53.5ZM29.3 64.5L35.1 66.9L38.3 58.3L32.7 56.0ZM35.1 66.9L41.1 69.2L44.1 60.5L38.3 58.3ZM41.1 69.2L47.2 71.3L50.0 62.5L44.1 60.5ZM27.2 53.5L32.7 56.0L36.3 47.5L31.1 45.2ZM32.7 56.0L38.3 58.3L41.7 49.8L36.3 47.5ZM38.3 58.3L44.1 60.5L47.2 51.8L41.7 49.8ZM44.1 60.5L50.0 62.5L52.8 53.8L47.2 51.8ZM50.0 62.5L56.0 64.3L58.6 55.5L52.8 53.8ZM56.0 64.3L62.1 66.0L64.5 57.1L58.6 55.5ZM62.1 66.0L68.4 67.5L70.4 58.5L64.5 57.1ZM68.4 67.5L74.7 68.8L76.5 59.8L70.4 58.5ZM31.1 45.2L36.3 47.5L40.0 39.1L35.0 36.9ZM36.3 47.5L41.7 49.8L45.1 41.3L40.0 39.1ZM41.7 49.8L47.2 51.8L50.4 43.3L45.1 41.3ZM47.2 51.8L52.8 53.8L55.8 45.1L50.4 43.3ZM114.1 63.5L120.5 63.5L120.3 54.3L114.3 54.3ZM35.0 36.9L40.0 39.1L43.9 30.8L39.2 28.7ZM40.0 39.1L45.1 41.3L48.8 32.9L43.9 30.8ZM120.3 54.3L126.4 54.1L125.9 45.1L120.1 45.2ZM43.9 30.8L48.8 32.9L52.5 24.5L47.9 22.6ZM120.1 45.2L125.9 45.1L125.4 36.1L119.9 36.2ZM47.9 22.6L52.5 24.5L56.4 16.3L52.1 14.5ZM114.5 36.2L119.9 36.2L119.8 27.3L114.6 27.3ZM47.9 12.6L52.1 14.5L56.4 6.5L52.5 4.8ZM52.1 14.5L56.4 16.3L60.4 8.2L56.4 6.5ZM56.4 6.5L60.4 8.2L64.5 0.3L60.8 -1.3ZM60.4 8.2L64.6 9.8L68.4 1.7L64.5 0.3ZM97.4 8.6L101.7 9.1L102.9 0.6L98.9 0.1ZM231.6 38.3L235.8 34.9L230.7 27.4L226.7 30.6Z" fill="#a0d2ff" stroke="#a0d2ff" stroke-width="0.35"/><path d="M172.4 148.6L180.6 146.9L179.4 138.3L171.4 140.0ZM180.6 146.9L188.6 145.0L187.3 136.4L179.4 138.3ZM71.6 141.7L79.8 142.9L80.6 134.1L72.5 132.9ZM79.8 142.9L88.1 143.8L88.7 135.0L80.6 134.1ZM113.3 145.2L121.7 145.2L121.6 136.3L113.3 136.4ZM121.7 145.2L130.1 144.9L129.8 136.1L121.6 136.3ZM130.1 144.9L138.5 144.4L138.0 135.6L129.8 136.1ZM138.5 144.4L146.8 143.7L146.2 134.9L138.0 135.6ZM146.8 143.7L155.1 142.7L154.3 133.9L146.2 134.9ZM155.1 142.7L163.3 141.5L162.4 132.7L154.3 133.9ZM163.3 141.5L171.4 140.0L170.3 131.3L162.4 132.7ZM171.4 140.0L179.4 138.3L178.2 129.6L170.3 131.3ZM179.4 138.3L187.3 136.4L185.9 127.8L178.2 129.6ZM187.3 136.4L195.1 134.3L193.5 125.7L185.9 127.8ZM195.1 134.3L202.7 131.9L201.0 123.4L193.5 125.7ZM202.7 131.9L210.1 129.4L208.3 120.9L201.0 123.4ZM72.5 132.9L80.6 134.1L81.4 125.2L73.5 124.1ZM96.9 135.7L105.1 136.2L105.4 127.2L97.3 126.8ZM105.1 136.2L113.3 136.4L113.4 127.4L105.4 127.2ZM113.3 136.4L121.6 136.3L121.5 127.4L113.4 127.4ZM121.6 136.3L129.8 136.1L129.5 127.2L121.5 127.4ZM129.8 136.1L138.0 135.6L137.6 126.7L129.5 127.2ZM138.0 135.6L146.2 134.9L145.5 126.0L137.6 126.7ZM146.2 134.9L154.3 133.9L153.5 125.0L145.5 126.0ZM154.3 133.9L162.4 132.7L161.3 123.9L153.5 125.0ZM162.4 132.7L170.3 131.3L169.1 122.5L161.3 123.9ZM170.3 131.3L178.2 129.6L176.8 120.9L169.1 122.5ZM178.2 129.6L185.9 127.8L184.4 119.0L176.8 120.9ZM185.9 127.8L193.5 125.7L191.8 117.0L184.4 119.0ZM193.5 125.7L201.0 123.4L199.1 114.7L191.8 117.0ZM201.0 123.4L208.3 120.9L206.2 112.3L199.1 114.7ZM208.3 120.9L215.4 118.1L213.2 109.6L206.2 112.3ZM215.4 118.1L222.3 115.2L220.0 106.7L213.2 109.6ZM73.5 124.1L81.4 125.2L82.3 116.2L74.6 115.1ZM97.3 126.8L105.4 127.2L105.7 118.2L97.8 117.8ZM137.6 126.7L145.5 126.0L144.8 117.0L137.0 117.7ZM145.5 126.0L153.5 125.0L152.6 116.1L144.8 117.0ZM153.5 125.0L161.3 123.9L160.2 114.9L152.6 116.1ZM161.3 123.9L169.1 122.5L167.8 113.6L160.2 114.9ZM169.1 122.5L176.8 120.9L175.3 112.0L167.8 113.6ZM176.8 120.9L184.4 119.0L182.7 110.2L175.3 112.0ZM184.4 119.0L191.8 117.0L189.9 108.2L182.7 110.2ZM191.8 117.0L199.1 114.7L197.0 106.0L189.9 108.2ZM199.1 114.7L206.2 112.3L204.0 103.6L197.0 106.0ZM206.2 112.3L213.2 109.6L210.8 101.0L204.0 103.6ZM213.2 109.6L220.0 106.7L217.4 98.2L210.8 101.0ZM74.6 115.1L82.3 116.2L83.2 107.2L75.8 106.1ZM175.3 112.0L182.7 110.2L180.9 101.4L173.7 103.1ZM182.7 110.2L189.9 108.2L187.9 99.4L180.9 101.4ZM189.9 108.2L197.0 106.0L194.8 97.3L187.9 99.4ZM197.0 106.0L204.0 103.6L201.6 94.9L194.8 97.3ZM204.0 103.6L210.8 101.0L208.2 92.4L201.6 94.9ZM173.7 103.1L180.9 101.4L178.9 92.5L172.0 94.1ZM180.9 101.4L187.9 99.4L185.8 90.6L178.9 92.5ZM187.9 99.4L194.8 97.3L192.5 88.5L185.8 90.6ZM194.8 97.3L201.6 94.9L199.0 86.2L192.5 88.5Z" fill="#ffffc8" stroke="#ffffc8" stroke-width="0.35"/><path d="M88.1 143.8L96.5 144.5L96.9 135.7L88.7 135.0ZM96.5 144.5L104.9 145.0L105.1 136.2L96.9 135.7ZM104.9 145.0L113.3 145.2L113.3 136.4L105.1 136.2ZM80.6 134.1L88.7 135.0L89.3 126.1L81.4 125.2ZM88.7 135.0L96.9 135.7L97.3 126.8L89.3 126.1ZM81.4 125.2L89.3 126.1L90.0 117.1L82.3 116.2ZM89.3 126.1L97.3 126.8L97.8 117.8L90.0 117.1ZM82.3 116.2L90.0 117.1L90.8 108.1L83.2 107.2ZM160.2 114.9L167.8 113.6L166.4 104.6L159.0 105.9ZM167.8 113.6L175.3 112.0L173.7 103.1L166.4 104.6Z" fill="#ffe132" stroke="#ffe132" stroke-width="0.35"/>
<path d="M16.0 55.7C16.0 51.4 17.1 47.8 19.4 44.9C21.8 42.0 25.9 40.9 30.1 38.2C34.4 35.5 39.1 31.3 44.9 28.8C50.7 26.4 58.3 24.6 65.0 23.5C71.8 22.3 79.8 21.9 85.2 22.1C90.5 22.3 93.5 23.0 97.3 24.8C101.1 26.6 104.9 29.7 108.0 32.9C111.1 36.0 114.5 39.8 116.0 43.6C117.6 47.4 117.8 51.4 117.4 55.7C116.9 59.9 115.4 65.1 113.4 69.1C111.3 73.1 108.9 76.7 105.3 79.8C101.7 83.0 97.5 85.9 91.9 87.9C86.3 89.9 78.5 91.5 71.8 91.9C65.0 92.4 58.3 92.1 51.6 90.6C44.9 89.0 36.9 85.9 31.5 82.5C26.1 79.2 22.0 74.9 19.4 70.4C16.8 66.0 16.0 59.9 16.0 55.7Z" fill="none" stroke="#0000ff" stroke-width="2.5" stroke-linecap="round" stroke-linejoin="round"/><path d="M215.2 -0.4C214.5 2.0 211.4 9.3 210.9 13.8C210.3 18.4 210.5 23.7 212.0 26.9C213.4 30.2 215.8 31.4 219.6 33.5C223.4 35.6 232.4 38.4 234.9 39.4" fill="none" stroke="#0000ff" stroke-width="2.5" stroke-linecap="round" stroke-linejoin="round"/><path d="M11.7 -0.4C12.8 0.5 15.7 4.0 18.2 5.1C20.8 6.1 24.1 6.3 27.0 6.1C29.9 6.0 33.6 5.1 35.7 4.0C37.9 2.9 39.4 0.3 40.1 -0.4" fill="none" stroke="#ff0000" stroke-width="2.5" stroke-linecap="round" stroke-linejoin="round"/>
<use href="#map"/>
</g>
<rect x="0" y="0" width="234.4" height="144.9" fill="none" stroke="#000" stroke-width="4.3" stroke-linejoin="round"/>
</g>
<g transform="translate(1694.88,120.70)">
<text transform="matrix(1 0 0 1.04 -2.3 -4.7)" font-size="18.8">Phase 7, MVP+</text>
<text transform="matrix(1 0 0 1.04 234.7 -3.1)" font-size="18.8" text-anchor="end">34 events</text>
<g clip-path="url(#pc)">
<path d="M1.6 137.5L9.3 138.6L9.3 143.0L1.6 143.0Z" fill="#d2f5ff"/><path d="M229.8 148.2L237.0 144.9L235.3 136.8L228.2 140.1ZM213.4 146.1L220.9 143.2L219.3 134.9L211.9 137.8ZM220.9 143.2L228.2 140.1L226.5 131.9L219.3 134.9ZM228.2 140.1L235.3 136.8L233.5 128.7L226.5 131.9ZM180.6 146.9L188.6 145.0L187.3 136.4L179.4 138.3ZM188.6 145.0L196.5 142.8L195.1 134.3L187.3 136.4ZM196.5 142.8L204.3 140.4L202.7 131.9L195.1 134.3ZM204.3 140.4L211.9 137.8L210.1 129.4L202.7 131.9ZM211.9 137.8L219.3 134.9L217.4 126.6L210.1 129.4ZM219.3 134.9L226.5 131.9L224.5 123.6L217.4 126.6ZM187.3 136.4L195.1 134.3L193.5 125.7L185.9 127.8Z" fill="#ffffc8" stroke="#ffffc8" stroke-width="0.35"/>
<path d="M76.0 81.7C76.0 79.1 77.3 76.9 79.3 75.1C81.3 73.3 84.8 71.6 88.1 70.7C91.3 69.8 95.3 69.3 99.0 69.6C102.6 70.0 106.8 71.3 109.9 72.9C113.0 74.6 116.1 77.3 117.6 79.5C119.1 81.7 119.6 83.7 118.7 86.0C117.8 88.4 115.0 91.9 112.1 93.7C109.2 95.5 105.2 96.6 101.2 97.0C97.2 97.4 91.7 97.0 88.1 95.9C84.4 94.8 81.3 92.8 79.3 90.4C77.3 88.1 76.0 84.2 76.0 81.7Z" fill="none" stroke="#0000ff" stroke-width="2.5" stroke-linecap="round" stroke-linejoin="round"/><path d="M222.7 -0.4C221.0 2.0 215.6 9.3 212.8 13.8C210.1 18.4 207.9 22.6 206.3 26.9C204.6 31.3 203.3 36.1 203.0 40.1C202.6 44.1 203.0 47.9 204.1 51.0C205.2 54.1 206.6 56.5 209.5 58.7C212.5 60.9 217.4 63.1 221.6 64.2C225.8 65.2 232.5 65.1 234.7 65.2" fill="none" stroke="#0000ff" stroke-width="2.5" stroke-linecap="round" stroke-linejoin="round"/><path d="M29.0 -0.4C28.6 0.5 26.9 3.2 26.8 5.1C26.6 6.9 26.9 9.3 27.9 10.5C28.8 11.8 31.0 13.1 32.2 12.7C33.5 12.4 34.7 10.5 35.5 8.3C36.3 6.1 36.8 1.0 37.1 -0.4" fill="none" stroke="#ff0000" stroke-width="2.5" stroke-linecap="round" stroke-linejoin="round"/><path d="M163.6 -0.4C164.5 0.3 167.4 4.0 169.0 4.0C170.7 4.0 172.7 0.3 173.4 -0.4" fill="none" stroke="#ff0000" stroke-width="2.5" stroke-linecap="round" stroke-linejoin="round"/>
<use href="#map"/>
</g>
<rect x="0" y="0" width="234.4" height="144.9" fill="none" stroke="#000" stroke-width="4.3" stroke-linejoin="round"/>
</g>
<g transform="translate(1976.11,120.70)">
<text transform="matrix(1 0 0 1.04 -2.3 -4.7)" font-size="18.8">Phase 8, MVP+</text>
<text transform="matrix(1 0 0 1.04 234.7 -3.1)" font-size="18.8" text-anchor="end">22 events</text>
<g clip-path="url(#pc)">
<path d="M106.3 100.0L113.7 100.2L113.8 91.0L106.6 90.8ZM113.7 100.2L121.1 100.2L121.0 91.0L113.8 91.0ZM121.1 100.2L128.5 99.9L128.1 90.8L121.0 91.0ZM128.5 99.9L135.9 99.5L135.3 90.3L128.1 90.8ZM135.9 99.5L143.2 98.8L142.4 89.7L135.3 90.3ZM143.2 98.8L150.5 98.0L149.4 88.9L142.4 89.7ZM106.6 90.8L113.8 91.0L113.9 81.8L107.0 81.6ZM113.8 91.0L121.0 91.0L120.8 81.8L113.9 81.8ZM121.0 91.0L128.1 90.8L127.7 81.6L120.8 81.8ZM128.1 90.8L135.3 90.3L134.6 81.2L127.7 81.6ZM135.3 90.3L142.4 89.7L141.4 80.6L134.6 81.2ZM142.4 89.7L149.4 88.9L148.2 79.8L141.4 80.6ZM107.0 81.6L113.9 81.8L114.0 72.6L107.4 72.5ZM113.9 81.8L120.8 81.8L120.7 72.6L114.0 72.6ZM120.8 81.8L127.7 81.6L127.3 72.4L120.7 72.6ZM127.7 81.6L134.6 81.2L133.9 72.0L127.3 72.4ZM134.6 81.2L141.4 80.6L140.5 71.4L133.9 72.0Z" fill="#0000cd" stroke="#0000cd" stroke-width="0.35"/><path d="M97.8 117.8L105.7 118.2L106.0 109.1L98.3 108.7ZM105.7 118.2L113.5 118.4L113.6 109.3L106.0 109.1ZM113.5 118.4L121.4 118.4L121.2 109.3L113.6 109.3ZM121.4 118.4L129.2 118.2L128.9 109.1L121.2 109.3ZM129.2 118.2L137.0 117.7L136.5 108.6L128.9 109.1ZM98.3 108.7L106.0 109.1L106.3 100.0L98.9 99.6ZM106.0 109.1L113.6 109.3L113.7 100.2L106.3 100.0ZM113.6 109.3L121.2 109.3L121.1 100.2L113.7 100.2ZM121.2 109.3L128.9 109.1L128.5 99.9L121.1 100.2ZM128.9 109.1L136.5 108.6L135.9 99.5L128.5 99.9ZM136.5 108.6L144.1 107.9L143.2 98.8L135.9 99.5ZM144.1 107.9L151.6 107.0L150.5 98.0L143.2 98.8ZM151.6 107.0L159.0 105.9L157.8 96.9L150.5 98.0ZM159.0 105.9L166.4 104.6L164.9 95.6L157.8 96.9ZM98.9 99.6L106.3 100.0L106.6 90.8L99.5 90.4ZM150.5 98.0L157.8 96.9L156.4 87.8L149.4 88.9ZM157.8 96.9L164.9 95.6L163.3 86.6L156.4 87.8ZM164.9 95.6L172.0 94.1L170.2 85.2L163.3 86.6ZM92.4 89.8L99.5 90.4L100.1 81.3L93.3 80.7ZM99.5 90.4L106.6 90.8L107.0 81.6L100.1 81.3ZM149.4 88.9L156.4 87.8L155.0 78.8L148.2 79.8ZM156.4 87.8L163.3 86.6L161.7 77.6L155.0 78.8ZM163.3 86.6L170.2 85.2L168.2 76.2L161.7 77.6ZM93.3 80.7L100.1 81.3L100.8 72.1L94.2 71.5ZM100.1 81.3L107.0 81.6L107.4 72.5L100.8 72.1ZM141.4 80.6L148.2 79.8L147.0 70.7L140.5 71.4ZM148.2 79.8L155.0 78.8L153.5 69.7L147.0 70.7ZM155.0 78.8L161.7 77.6L159.9 68.6L153.5 69.7ZM94.2 71.5L100.8 72.1L101.4 63.0L95.1 62.4ZM100.8 72.1L107.4 72.5L107.8 63.3L101.4 63.0ZM107.4 72.5L114.0 72.6L114.1 63.5L107.8 63.3ZM114.0 72.6L120.7 72.6L120.5 63.5L114.1 63.5ZM120.7 72.6L127.3 72.4L126.8 63.3L120.5 63.5ZM127.3 72.4L133.9 72.0L133.2 62.9L126.8 63.3ZM133.9 72.0L140.5 71.4L139.5 62.3L133.2 62.9ZM140.5 71.4L147.0 70.7L145.7 61.6L139.5 62.3ZM147.0 70.7L153.5 69.7L151.9 60.7L145.7 61.6ZM101.4 63.0L107.8 63.3L108.2 54.2L102.2 53.8ZM107.8 63.3L114.1 63.5L114.3 54.3L108.2 54.2ZM114.1 63.5L120.5 63.5L120.3 54.3L114.3 54.3ZM120.5 63.5L126.8 63.3L126.4 54.1L120.3 54.3ZM126.8 63.3L133.2 62.9L132.4 53.8L126.4 54.1ZM133.2 62.9L139.5 62.3L138.4 53.2L132.4 53.8Z" fill="#1e90ff" stroke="#1e90ff" stroke-width="0.35"/><path d="M80.6 134.1L88.7 135.0L89.3 126.1L81.4 125.2ZM88.7 135.0L96.9 135.7L97.3 126.8L89.3 126.1ZM96.9 135.7L105.1 136.2L105.4 127.2L97.3 126.8ZM105.1 136.2L113.3 136.4L113.4 127.4L105.4 127.2ZM113.3 136.4L121.6 136.3L121.5 127.4L113.4 127.4ZM121.6 136.3L129.8 136.1L129.5 127.2L121.5 127.4ZM129.8 136.1L138.0 135.6L137.6 126.7L129.5 127.2ZM138.0 135.6L146.2 134.9L145.5 126.0L137.6 126.7ZM81.4 125.2L89.3 126.1L90.0 117.1L82.3 116.2ZM89.3 126.1L97.3 126.8L97.8 117.8L90.0 117.1ZM97.3 126.8L105.4 127.2L105.7 118.2L97.8 117.8ZM105.4 127.2L113.4 127.4L113.5 118.4L105.7 118.2ZM113.4 127.4L121.5 127.4L121.4 118.4L113.5 118.4ZM121.5 127.4L129.5 127.2L129.2 118.2L121.4 118.4ZM129.5 127.2L137.6 126.7L137.0 117.7L129.2 118.2ZM137.6 126.7L145.5 126.0L144.8 117.0L137.0 117.7ZM82.3 116.2L90.0 117.1L90.8 108.1L83.2 107.2ZM90.0 117.1L97.8 117.8L98.3 108.7L90.8 108.1ZM137.0 117.7L144.8 117.0L144.1 107.9L136.5 108.6ZM144.8 117.0L152.6 116.1L151.6 107.0L144.1 107.9ZM152.6 116.1L160.2 114.9L159.0 105.9L151.6 107.0ZM83.2 107.2L90.8 108.1L91.5 99.0L84.2 98.1ZM90.8 108.1L98.3 108.7L98.9 99.6L91.5 99.0ZM84.2 98.1L91.5 99.0L92.4 89.8L85.3 89.0ZM91.5 99.0L98.9 99.6L99.5 90.4L92.4 89.8ZM172.0 94.1L178.9 92.5L176.9 83.5L170.2 85.2ZM85.3 89.0L92.4 89.8L93.3 80.7L86.4 79.9ZM170.2 85.2L176.9 83.5L174.7 74.6L168.2 76.2ZM176.9 83.5L183.5 81.7L181.1 72.9L174.7 74.6ZM183.5 81.7L190.0 79.7L187.4 70.9L181.1 72.9ZM190.0 79.7L196.3 77.5L193.5 68.8L187.4 70.9ZM161.7 77.6L168.2 76.2L166.2 67.2L159.9 68.6ZM168.2 76.2L174.7 74.6L172.5 65.7L166.2 67.2ZM174.7 74.6L181.1 72.9L178.6 64.0L172.5 65.7ZM181.1 72.9L187.4 70.9L184.6 62.2L178.6 64.0ZM187.4 70.9L193.5 68.8L190.5 60.1L184.6 62.2ZM193.5 68.8L199.4 66.5L196.2 57.9L190.5 60.1ZM199.4 66.5L205.3 64.1L201.8 55.6L196.2 57.9ZM205.3 64.1L210.9 61.5L207.2 53.1L201.8 55.6ZM210.9 61.5L216.4 58.7L212.5 50.4L207.2 53.1ZM153.5 69.7L159.9 68.6L158.1 59.6L151.9 60.7ZM159.9 68.6L166.2 67.2L164.1 58.3L158.1 59.6ZM166.2 67.2L172.5 65.7L170.1 56.8L164.1 58.3ZM172.5 65.7L178.6 64.0L175.9 55.2L170.1 56.8ZM178.6 64.0L184.6 62.2L181.7 53.4L175.9 55.2ZM184.6 62.2L190.5 60.1L187.3 51.5L181.7 53.4ZM190.5 60.1L196.2 57.9L192.8 49.4L187.3 51.5ZM196.2 57.9L201.8 55.6L198.2 47.1L192.8 49.4ZM201.8 55.6L207.2 53.1L203.4 44.7L198.2 47.1ZM139.5 62.3L145.7 61.6L144.4 52.5L138.4 53.2ZM145.7 61.6L151.9 60.7L150.3 51.6L144.4 52.5ZM151.9 60.7L158.1 59.6L156.1 50.6L150.3 51.6ZM158.1 59.6L164.1 58.3L161.9 49.4L156.1 50.6ZM164.1 58.3L170.1 56.8L167.6 48.0L161.9 49.4ZM170.1 56.8L175.9 55.2L173.2 46.5L167.6 48.0ZM175.9 55.2L181.7 53.4L178.7 44.8L173.2 46.5Z" fill="#00bfff" stroke="#00bfff" stroke-width="0.35"/><path d="M71.6 141.7L79.8 142.9L80.6 134.1L72.5 132.9ZM79.8 142.9L88.1 143.8L88.7 135.0L80.6 134.1ZM88.1 143.8L96.5 144.5L96.9 135.7L88.7 135.0ZM96.5 144.5L104.9 145.0L105.1 136.2L96.9 135.7ZM104.9 145.0L113.3 145.2L113.3 136.4L105.1 136.2ZM113.3 145.2L121.7 145.2L121.6 136.3L113.3 136.4ZM72.5 132.9L80.6 134.1L81.4 125.2L73.5 124.1ZM73.5 124.1L81.4 125.2L82.3 116.2L74.6 115.1ZM145.5 126.0L153.5 125.0L152.6 116.1L144.8 117.0ZM74.6 115.1L82.3 116.2L83.2 107.2L75.8 106.1ZM160.2 114.9L167.8 113.6L166.4 104.6L159.0 105.9ZM75.8 106.1L83.2 107.2L84.2 98.1L77.0 97.1ZM166.4 104.6L173.7 103.1L172.0 94.1L164.9 95.6ZM173.7 103.1L180.9 101.4L178.9 92.5L172.0 94.1ZM77.0 97.1L84.2 98.1L85.3 89.0L78.3 88.0ZM178.9 92.5L185.8 90.6L183.5 81.7L176.9 83.5ZM185.8 90.6L192.5 88.5L190.0 79.7L183.5 81.7ZM192.5 88.5L199.0 86.2L196.3 77.5L190.0 79.7ZM78.3 88.0L85.3 89.0L86.4 79.9L79.7 78.9ZM196.3 77.5L202.5 75.2L199.4 66.5L193.5 68.8ZM202.5 75.2L208.6 72.6L205.3 64.1L199.4 66.5ZM208.6 72.6L214.4 69.9L210.9 61.5L205.3 64.1ZM214.4 69.9L220.1 67.0L216.4 58.7L210.9 61.5ZM220.1 67.0L225.6 64.0L221.6 55.7L216.4 58.7ZM86.4 79.9L93.3 80.7L94.2 71.5L87.6 70.8ZM216.4 58.7L221.6 55.7L217.5 47.6L212.5 50.4ZM221.6 55.7L226.7 52.7L222.4 44.6L217.5 47.6ZM207.2 53.1L212.5 50.4L208.4 42.2L203.4 44.7ZM212.5 50.4L217.5 47.6L213.2 39.5L208.4 42.2ZM217.5 47.6L222.4 44.6L217.9 36.6L213.2 39.5ZM95.1 62.4L101.4 63.0L102.2 53.8L96.1 53.3ZM181.7 53.4L187.3 51.5L184.0 42.9L178.7 44.8ZM187.3 51.5L192.8 49.4L189.3 40.9L184.0 42.9Z" fill="#a0d2ff" stroke="#a0d2ff" stroke-width="0.35"/><path d="M213.4 146.1L220.9 143.2L219.3 134.9L211.9 137.8ZM220.9 143.2L228.2 140.1L226.5 131.9L219.3 134.9ZM228.2 140.1L235.3 136.8L233.5 128.7L226.5 131.9ZM204.3 140.4L211.9 137.8L210.1 129.4L202.7 131.9ZM211.9 137.8L219.3 134.9L217.4 126.6L210.1 129.4ZM219.3 134.9L226.5 131.9L224.5 123.6L217.4 126.6ZM226.5 131.9L233.5 128.7L231.4 120.4L224.5 123.6ZM202.7 131.9L210.1 129.4L208.3 120.9L201.0 123.4ZM210.1 129.4L217.4 126.6L215.4 118.1L208.3 120.9ZM217.4 126.6L224.5 123.6L222.3 115.2L215.4 118.1ZM224.5 123.6L231.4 120.4L229.1 112.1L222.3 115.2Z" fill="#ffffc8" stroke="#ffffc8" stroke-width="0.35"/><path d="M13.7 87.3L20.0 90.2L22.9 81.6L16.8 78.8ZM20.0 90.2L26.4 92.9L29.2 84.2L22.9 81.6ZM26.4 92.9L33.1 95.4L35.6 86.6L29.2 84.2ZM33.1 95.4L39.9 97.7L42.2 88.9L35.6 86.6ZM-0.3 69.5L5.2 72.8L8.9 64.5L3.6 61.3ZM5.2 72.8L10.9 75.9L14.4 67.5L8.9 64.5ZM10.9 75.9L16.8 78.8L20.1 70.4L14.4 67.5ZM16.8 78.8L22.9 81.6L26.0 73.0L20.1 70.4ZM22.9 81.6L29.2 84.2L32.1 75.6L26.0 73.0ZM29.2 84.2L35.6 86.6L38.3 77.9L32.1 75.6ZM35.6 86.6L42.2 88.9L44.6 80.1L38.3 77.9ZM-1.5 58.0L3.6 61.3L7.7 53.2L2.8 50.0ZM3.6 61.3L8.9 64.5L12.8 56.3L7.7 53.2ZM8.9 64.5L14.4 67.5L18.1 59.2L12.8 56.3ZM14.4 67.5L20.1 70.4L23.6 61.9L18.1 59.2ZM20.1 70.4L26.0 73.0L29.3 64.5L23.6 61.9ZM26.0 73.0L32.1 75.6L35.1 66.9L29.3 64.5ZM32.1 75.6L38.3 77.9L41.1 69.2L35.1 66.9ZM-1.9 46.7L2.8 50.0L7.2 42.1L2.7 38.8ZM2.8 50.0L7.7 53.2L11.9 45.1L7.2 42.1ZM7.7 53.2L12.8 56.3L16.8 48.1L11.9 45.1ZM12.8 56.3L18.1 59.2L22.0 50.9L16.8 48.1ZM18.1 59.2L23.6 61.9L27.2 53.5L22.0 50.9ZM23.6 61.9L29.3 64.5L32.7 56.0L27.2 53.5ZM29.3 64.5L35.1 66.9L38.3 58.3L32.7 56.0ZM-1.6 35.5L2.7 38.8L7.6 31.1L3.5 27.9ZM2.7 38.8L7.2 42.1L11.9 34.2L7.6 31.1ZM7.2 42.1L11.9 45.1L16.4 37.1L11.9 34.2ZM11.9 45.1L16.8 48.1L21.1 39.9L16.4 37.1ZM16.8 48.1L22.0 50.9L26.0 42.6L21.1 39.9ZM22.0 50.9L27.2 53.5L31.1 45.2L26.0 42.6ZM27.2 53.5L32.7 56.0L36.3 47.5L31.1 45.2ZM-4.1 21.2L-0.4 24.6L5.0 17.3L1.6 14.0ZM-0.4 24.6L3.5 27.9L8.8 20.4L5.0 17.3ZM3.5 27.9L7.6 31.1L12.7 23.5L8.8 20.4ZM16.4 37.1L21.1 39.9L25.6 31.9L21.1 29.2ZM21.1 39.9L26.0 42.6L30.2 34.5L25.6 31.9ZM26.0 42.6L31.1 45.2L35.0 36.9L30.2 34.5ZM31.1 45.2L36.3 47.5L40.0 39.1L35.0 36.9ZM-1.7 10.7L1.6 14.0L7.4 7.0L4.3 3.8ZM1.6 14.0L5.0 17.3L10.7 10.1L7.4 7.0ZM5.0 17.3L8.8 20.4L14.2 13.1L10.7 10.1ZM8.8 20.4L12.7 23.5L17.9 16.0L14.2 13.1ZM12.7 23.5L16.8 26.4L21.8 18.7L17.9 16.0ZM16.8 26.4L21.1 29.2L25.9 21.4L21.8 18.7ZM21.1 29.2L25.6 31.9L30.2 24.0L25.9 21.4ZM25.6 31.9L30.2 34.5L34.6 26.4L30.2 24.0ZM30.2 34.5L35.0 36.9L39.2 28.7L34.6 26.4ZM7.4 7.0L10.7 10.1L16.6 3.0L13.4 0.1ZM10.7 10.1L14.2 13.1L19.9 5.8L16.6 3.0ZM14.2 13.1L17.9 16.0L23.4 8.6L19.9 5.8ZM17.9 16.0L21.8 18.7L27.1 11.2L23.4 8.6ZM21.8 18.7L25.9 21.4L31.0 13.7L27.1 11.2ZM25.9 21.4L30.2 24.0L35.0 16.1L31.0 13.7ZM30.2 24.0L34.6 26.4L39.2 18.4L35.0 16.1ZM34.6 26.4L39.2 28.7L43.5 20.6L39.2 18.4ZM19.9 5.8L23.4 8.6L29.1 1.3L25.8 -1.2ZM23.4 8.6L27.1 11.2L32.5 3.8L29.1 1.3ZM27.1 11.2L31.0 13.7L36.1 6.2L32.5 3.8ZM31.0 13.7L35.0 16.1L39.9 8.4L36.1 6.2Z" fill="#ffe132" stroke="#ffe132" stroke-width="0.35"/><path d="M7.6 31.1L11.9 34.2L16.8 26.4L12.7 23.5ZM11.9 34.2L16.4 37.1L21.1 29.2L16.8 26.4Z" fill="#ffaa00" stroke="#ffaa00" stroke-width="0.35"/>
<path d="M-0.6 72.9C0.3 73.3 1.7 73.6 4.8 75.1C7.9 76.6 13.6 79.5 18.0 81.7C22.3 83.9 27.5 86.6 31.1 88.2C34.7 89.9 37.3 91.2 39.9 91.5C42.4 91.9 44.8 91.7 46.4 90.4C48.1 89.1 48.8 86.8 49.7 83.9C50.6 80.9 51.0 76.6 51.9 72.9C52.8 69.3 53.9 66.3 55.2 62.0C56.5 57.6 58.1 51.4 59.6 46.6C61.0 41.9 62.1 37.5 63.9 33.5C65.8 29.5 67.6 25.1 70.5 22.6C73.4 20.0 76.7 19.5 81.4 18.2C86.2 16.9 93.1 16.4 99.0 14.9C104.8 13.4 110.6 11.0 116.5 9.4C122.3 7.9 128.9 6.0 134.0 5.5C139.1 4.9 142.0 5.9 147.1 6.1C152.2 6.4 158.6 8.3 164.6 7.2C170.6 6.1 180.1 0.9 183.2 -0.4" fill="none" stroke="#ff0000" stroke-width="2.5" stroke-linecap="round" stroke-linejoin="round"/><path d="M20.2 -0.4C19.1 1.2 15.4 6.0 13.6 9.4C11.8 12.9 10.3 16.4 9.2 20.4C8.1 24.4 7.0 29.1 7.0 33.5C7.0 37.9 7.8 43.2 9.2 46.6C10.7 50.1 13.2 52.8 15.8 54.3C18.3 55.8 21.6 56.3 24.5 55.4C27.5 54.5 30.9 51.8 33.3 48.8C35.7 45.9 37.3 41.5 38.8 37.9C40.2 34.2 41.1 30.6 42.0 26.9C43.0 23.3 44.1 19.6 44.2 16.0C44.4 12.4 43.5 7.8 43.1 5.1C42.8 2.3 42.2 0.5 42.0 -0.4" fill="none" stroke="#ff0000" stroke-width="2.5" stroke-linecap="round" stroke-linejoin="round"/><path d="M234.7 79.9C231.0 81.4 219.2 86.3 212.6 89.1C206.0 92.0 200.6 94.1 195.0 97.0C189.5 99.9 184.0 103.5 179.3 106.4C174.6 109.3 171.4 111.9 166.8 114.5C162.2 117.1 156.2 120.3 151.5 122.2C146.7 124.0 142.7 124.7 138.4 125.4C134.0 126.2 129.6 126.9 125.2 126.5C120.8 126.2 115.7 125.1 112.1 123.3C108.4 121.4 105.7 118.9 103.3 115.6C101.0 112.3 99.1 108.1 97.9 103.6C96.6 99.0 95.9 93.3 95.7 88.2C95.5 83.1 95.5 77.7 96.8 72.9C98.0 68.2 100.4 62.9 103.3 59.8C106.3 56.7 110.8 55.2 114.3 54.3C117.7 53.4 119.7 54.9 123.9 54.3C128.1 53.8 134.4 52.6 139.7 51.0C144.9 49.5 150.1 47.2 155.4 44.9C160.7 42.6 166.1 39.9 171.4 37.0C176.7 34.1 182.6 30.8 187.2 27.4C191.8 23.9 194.7 20.9 199.0 16.2C203.3 11.6 210.5 2.4 212.8 -0.4" fill="none" stroke="#0000ff" stroke-width="2.5" stroke-linecap="round" stroke-linejoin="round"/><path d="M234.7 63.7C231.0 65.3 219.9 70.0 212.6 73.1C205.2 76.3 197.3 79.8 190.5 82.8C183.6 85.7 177.2 88.5 171.4 90.6C165.6 92.8 160.7 93.9 155.4 95.5C150.1 97.0 144.9 98.5 139.7 100.1C134.4 101.6 127.8 104.6 123.9 104.9C120.0 105.1 118.3 103.8 116.5 101.4C114.7 99.0 113.2 93.7 113.2 90.4C113.2 87.1 114.5 83.9 116.5 81.7C118.5 79.5 122.4 78.4 125.2 77.3C128.0 76.2 129.6 76.6 133.3 74.9C137.0 73.2 143.3 69.4 147.5 67.0C151.8 64.6 154.7 63.0 158.7 60.7C162.7 58.3 167.2 55.7 171.4 52.8C175.6 49.9 179.6 46.9 184.1 43.1C188.6 39.4 193.6 35.0 198.3 30.4C203.1 25.9 208.1 21.1 212.8 16.0C217.4 10.9 224.1 2.3 226.3 -0.4" fill="none" stroke="#0000ff" stroke-width="2.5" stroke-linecap="round" stroke-linejoin="round"/><path d="M234.7 17.1C232.6 19.1 225.7 25.4 222.0 28.9C218.3 32.5 214.7 35.7 212.6 38.3C210.4 41.0 208.8 43.3 209.3 44.9C209.8 46.5 213.0 47.4 215.6 48.0C218.3 48.5 222.1 48.5 225.3 48.0C228.4 47.4 233.1 45.0 234.7 44.5" fill="none" stroke="#0000ff" stroke-width="2.5" stroke-linecap="round" stroke-linejoin="round"/>
<use href="#map"/>
</g>
<rect x="0" y="0" width="234.4" height="144.9" fill="none" stroke="#000" stroke-width="4.3" stroke-linejoin="round"/>
</g>
<g transform="translate(7.50,300.70)">
<text transform="matrix(1 0 0 1.04 -2.3 -4.7)" font-size="18.8">Phase 1, MVP~0</text>
<text transform="matrix(1 0 0 1.04 234.7 -3.1)" font-size="18.8" text-anchor="end">45 events</text>
<g clip-path="url(#pc)">
<path d="M41.7 49.8L47.2 51.8L50.4 43.3L45.1 41.3ZM47.2 51.8L52.8 53.8L55.8 45.1L50.4 43.3ZM40.0 39.1L45.1 41.3L48.8 32.9L43.9 30.8ZM45.1 41.3L50.4 43.3L53.8 34.7L48.8 32.9ZM43.9 30.8L48.8 32.9L52.5 24.5L47.9 22.6ZM48.8 32.9L53.8 34.7L57.3 26.3L52.5 24.5ZM18.1 59.2L23.6 61.9L27.2 53.5L22.0 50.9ZM23.6 61.9L29.3 64.5L32.7 56.0L27.2 53.5ZM29.3 64.5L35.1 66.9L38.3 58.3L32.7 56.0ZM35.1 66.9L41.1 69.2L44.1 60.5L38.3 58.3ZM22.0 50.9L27.2 53.5L31.1 45.2L26.0 42.6ZM27.2 53.5L32.7 56.0L36.3 47.5L31.1 45.2ZM32.7 56.0L38.3 58.3L41.7 49.8L36.3 47.5ZM38.3 58.3L44.1 60.5L47.2 51.8L41.7 49.8ZM1.7 101.0L8.1 104.2L10.8 95.8L4.6 92.6ZM8.1 104.2L14.7 107.2L17.3 98.7L10.8 95.8ZM14.7 107.2L21.5 110.1L23.9 101.5L17.3 98.7ZM21.5 110.1L28.5 112.7L30.7 104.0L23.9 101.5ZM28.5 112.7L35.7 115.1L37.7 106.4L30.7 104.0ZM35.7 115.1L43.0 117.3L44.8 108.6L37.7 106.4ZM4.6 92.6L10.8 95.8L13.7 87.3L7.6 84.3ZM10.8 95.8L17.3 98.7L20.0 90.2L13.7 87.3ZM17.3 98.7L23.9 101.5L26.4 92.9L20.0 90.2ZM23.9 101.5L30.7 104.0L33.1 95.4L26.4 92.9ZM30.7 104.0L37.7 106.4L39.9 97.7L33.1 95.4ZM37.7 106.4L44.8 108.6L46.8 99.8L39.9 97.7ZM44.8 108.6L52.1 110.5L53.9 101.7L46.8 99.8ZM52.1 110.5L59.5 112.3L61.1 103.4L53.9 101.7ZM7.6 84.3L13.7 87.3L16.8 78.8L10.9 75.9ZM13.7 87.3L20.0 90.2L22.9 81.6L16.8 78.8ZM20.0 90.2L26.4 92.9L29.2 84.2L22.9 81.6ZM26.4 92.9L33.1 95.4L35.6 86.6L29.2 84.2ZM33.1 95.4L39.9 97.7L42.2 88.9L35.6 86.6ZM39.9 97.7L46.8 99.8L48.9 90.9L42.2 88.9ZM10.9 75.9L16.8 78.8L20.1 70.4L14.4 67.5ZM16.8 78.8L22.9 81.6L26.0 73.0L20.1 70.4ZM22.9 81.6L29.2 84.2L32.1 75.6L26.0 73.0ZM29.2 84.2L35.6 86.6L38.3 77.9L32.1 75.6ZM35.6 86.6L42.2 88.9L44.6 80.1L38.3 77.9ZM14.4 67.5L20.1 70.4L23.6 61.9L18.1 59.2ZM20.1 70.4L26.0 73.0L29.3 64.5L23.6 61.9ZM26.0 73.0L32.1 75.6L35.1 66.9L29.3 64.5ZM32.1 75.6L38.3 77.9L41.1 69.2L35.1 66.9ZM38.3 77.9L44.6 80.1L47.2 71.3L41.1 69.2ZM41.1 69.2L47.2 71.3L50.0 62.5L44.1 60.5Z" fill="#a0d2ff" stroke="#a0d2ff" stroke-width="0.35"/><path d="M3.6 61.3L8.9 64.5L12.8 56.3L7.7 53.2ZM8.9 64.5L14.4 67.5L18.1 59.2L12.8 56.3ZM7.7 53.2L12.8 56.3L16.8 48.1L11.9 45.1ZM12.8 56.3L18.1 59.2L22.0 50.9L16.8 48.1ZM11.9 45.1L16.8 48.1L21.1 39.9L16.4 37.1ZM16.8 48.1L22.0 50.9L26.0 42.6L21.1 39.9ZM16.4 37.1L21.1 39.9L25.6 31.9L21.1 29.2ZM21.1 39.9L26.0 42.6L30.2 34.5L25.6 31.9ZM26.0 42.6L31.1 45.2L35.0 36.9L30.2 34.5ZM31.1 45.2L36.3 47.5L40.0 39.1L35.0 36.9ZM36.3 47.5L41.7 49.8L45.1 41.3L40.0 39.1ZM16.8 26.4L21.1 29.2L25.9 21.4L21.8 18.7ZM21.1 29.2L25.6 31.9L30.2 24.0L25.9 21.4ZM25.6 31.9L30.2 34.5L34.6 26.4L30.2 24.0ZM30.2 34.5L35.0 36.9L39.2 28.7L34.6 26.4ZM35.0 36.9L40.0 39.1L43.9 30.8L39.2 28.7ZM14.2 13.1L17.9 16.0L23.4 8.6L19.9 5.8ZM17.9 16.0L21.8 18.7L27.1 11.2L23.4 8.6ZM21.8 18.7L25.9 21.4L31.0 13.7L27.1 11.2ZM25.9 21.4L30.2 24.0L35.0 16.1L31.0 13.7ZM30.2 24.0L34.6 26.4L39.2 18.4L35.0 16.1ZM34.6 26.4L39.2 28.7L43.5 20.6L39.2 18.4ZM39.2 28.7L43.9 30.8L47.9 22.6L43.5 20.6ZM19.9 5.8L23.4 8.6L29.1 1.3L25.8 -1.2ZM23.4 8.6L27.1 11.2L32.5 3.8L29.1 1.3ZM27.1 11.2L31.0 13.7L36.1 6.2L32.5 3.8ZM31.0 13.7L35.0 16.1L39.9 8.4L36.1 6.2ZM-1.5 89.3L4.6 92.6L7.6 84.3L1.8 81.0ZM1.8 81.0L7.6 84.3L10.9 75.9L5.2 72.8ZM5.2 72.8L10.9 75.9L14.4 67.5L8.9 64.5ZM-1.0 109.3L5.6 112.6L8.1 104.2L1.7 101.0ZM5.6 112.6L12.4 115.7L14.7 107.2L8.1 104.2ZM12.4 115.7L19.3 118.6L21.5 110.1L14.7 107.2ZM223.8 95.3L230.0 92.1L226.9 83.7L220.9 86.8ZM230.0 92.1L236.0 88.8L232.8 80.5L226.9 83.7Z" fill="#d2f5ff" stroke="#d2f5ff" stroke-width="0.35"/><path d="M126.4 54.1L132.4 53.8L131.6 44.7L125.9 45.1ZM132.4 53.8L138.4 53.2L137.3 44.2L131.6 44.7ZM131.6 44.7L137.3 44.2L136.2 35.3L130.8 35.7Z" fill="#ffe132" stroke="#ffe132" stroke-width="0.35"/>
<path d="M223.0 40.1C223.3 39.7 224.4 42.2 225.2 43.4C226.1 44.5 228.1 46.2 228.1 47.1C228.1 47.9 226.0 48.7 225.2 48.4C224.5 48.1 224.1 46.9 223.7 45.5C223.3 44.2 222.8 40.4 223.0 40.1Z" fill="none" stroke="#0000ff" stroke-width="2.0" stroke-linecap="round" stroke-linejoin="round"/>
<use href="#map"/>
</g>
<rect x="0" y="0" width="234.4" height="144.9" fill="none" stroke="#000" stroke-width="4.3" stroke-linejoin="round"/>
</g>
<g transform="translate(288.73,300.70)">
<text transform="matrix(1 0 0 1.04 -2.3 -4.7)" font-size="18.8">Phase 2, MVP~0</text>
<text transform="matrix(1 0 0 1.04 234.7 -3.1)" font-size="18.8" text-anchor="end">45 events</text>
<g clip-path="url(#pc)">
<path d="M72.5 132.9L80.6 134.1L81.4 125.2L73.5 124.1ZM80.6 134.1L88.7 135.0L89.3 126.1L81.4 125.2ZM65.7 122.7L73.5 124.1L74.6 115.1L67.0 113.8ZM73.5 124.1L81.4 125.2L82.3 116.2L74.6 115.1ZM81.4 125.2L89.3 126.1L90.0 117.1L82.3 116.2ZM59.5 112.3L67.0 113.8L68.4 104.9L61.1 103.4ZM67.0 113.8L74.6 115.1L75.8 106.1L68.4 104.9ZM74.6 115.1L82.3 116.2L83.2 107.2L75.8 106.1ZM82.3 116.2L90.0 117.1L90.8 108.1L83.2 107.2ZM61.1 103.4L68.4 104.9L69.8 95.9L62.8 94.4ZM68.4 104.9L75.8 106.1L77.0 97.1L69.8 95.9ZM75.8 106.1L83.2 107.2L84.2 98.1L77.0 97.1ZM69.8 95.9L77.0 97.1L78.3 88.0L71.4 86.8ZM77.0 97.1L84.2 98.1L85.3 89.0L78.3 88.0ZM208.7 31.5L213.2 28.8L208.3 21.0L204.1 23.5ZM213.2 28.8L217.5 25.9L212.4 18.3L208.3 21.0ZM217.5 25.9L221.5 23.0L216.2 15.5L212.4 18.3ZM221.5 23.0L225.4 19.9L219.9 12.6L216.2 15.5ZM204.1 23.5L208.3 21.0L203.2 13.3L199.3 15.7ZM208.3 21.0L212.4 18.3L207.1 10.8L203.2 13.3ZM190.8 20.2L195.1 18.0L190.4 10.2L186.3 12.3ZM195.1 18.0L199.3 15.7L194.3 8.0L190.4 10.2ZM182.2 14.2L186.3 12.3L181.7 4.4L177.8 6.3ZM186.3 12.3L190.4 10.2L185.5 2.5L181.7 4.4ZM190.4 10.2L194.3 8.0L189.1 0.5L185.5 2.5ZM173.8 7.9L177.8 6.3L173.4 -1.5L169.7 0.0ZM177.8 6.3L181.7 4.4L177.0 -3.2L173.4 -1.5Z" fill="#a0d2ff" stroke="#a0d2ff" stroke-width="0.35"/><path d="M63.5 140.3L71.6 141.7L72.5 132.9L64.6 131.6ZM71.6 141.7L79.8 142.9L80.6 134.1L72.5 132.9ZM79.8 142.9L88.1 143.8L88.7 135.0L80.6 134.1ZM88.1 143.8L96.5 144.5L96.9 135.7L88.7 135.0ZM64.6 131.6L72.5 132.9L73.5 124.1L65.7 122.7ZM88.7 135.0L96.9 135.7L97.3 126.8L89.3 126.1ZM96.9 135.7L105.1 136.2L105.4 127.2L97.3 126.8ZM58.0 121.2L65.7 122.7L67.0 113.8L59.5 112.3ZM89.3 126.1L97.3 126.8L97.8 117.8L90.0 117.1ZM97.3 126.8L105.4 127.2L105.7 118.2L97.8 117.8ZM90.0 117.1L97.8 117.8L98.3 108.7L90.8 108.1ZM83.2 107.2L90.8 108.1L91.5 99.0L84.2 98.1Z" fill="#d2f5ff" stroke="#d2f5ff" stroke-width="0.35"/><path d="M178.9 92.5L185.8 90.6L183.5 81.7L176.9 83.5Z" fill="#ffffc8" stroke="#ffffc8" stroke-width="0.35"/><path d="M72.0 30.8L77.2 32.0L79.6 23.3L74.8 22.2ZM82.4 33.1L87.6 34.0L89.4 25.2L84.4 24.3ZM87.6 34.0L92.9 34.7L94.4 25.9L89.4 25.2ZM74.8 22.2L79.6 23.3L82.0 14.8L77.5 13.7ZM79.6 23.3L84.4 24.3L86.6 15.7L82.0 14.8ZM84.4 24.3L89.4 25.2L91.2 16.5L86.6 15.7ZM172.0 94.1L178.9 92.5L176.9 83.5L170.2 85.2ZM170.2 85.2L176.9 83.5L174.7 74.6L168.2 76.2ZM176.9 83.5L183.5 81.7L181.1 72.9L174.7 74.6Z" fill="#ffe132" stroke="#ffe132" stroke-width="0.35"/><path d="M77.2 32.0L82.4 33.1L84.4 24.3L79.6 23.3Z" fill="#ffaa00" stroke="#ffaa00" stroke-width="0.35"/>
<path d="M176.9 -0.4C179.6 1.2 188.3 6.9 193.3 9.4C198.2 12.0 202.0 13.4 206.4 14.9C210.8 16.4 216.8 18.6 219.5 18.2C222.3 17.8 222.8 14.9 222.8 12.7C222.8 10.5 220.8 7.2 219.5 5.1C218.3 2.9 215.9 0.5 215.2 -0.4" fill="none" stroke="#0000ff" stroke-width="2.5" stroke-linecap="round" stroke-linejoin="round"/>
<use href="#map"/>
</g>
<rect x="0" y="0" width="234.4" height="144.9" fill="none" stroke="#000" stroke-width="4.3" stroke-linejoin="round"/>
</g>
<g transform="translate(569.96,300.70)">
<text transform="matrix(1 0 0 1.04 -2.3 -4.7)" font-size="18.8">Phase 3, MVP~0</text>
<text transform="matrix(1 0 0 1.04 234.7 -3.1)" font-size="18.8" text-anchor="end">45 events</text>
<g clip-path="url(#pc)">
<path d="M170.3 131.3L178.2 129.6L176.8 120.9L169.1 122.5ZM178.2 129.6L185.9 127.8L184.4 119.0L176.8 120.9Z" fill="#d2f5ff" stroke="#d2f5ff" stroke-width="0.35"/><path d="M133.9 72.0L140.5 71.4L139.5 62.3L133.2 62.9ZM140.5 71.4L147.0 70.7L145.7 61.6L139.5 62.3ZM147.0 70.7L153.5 69.7L151.9 60.7L145.7 61.6ZM153.5 69.7L159.9 68.6L158.1 59.6L151.9 60.7ZM159.9 68.6L166.2 67.2L164.1 58.3L158.1 59.6ZM166.2 67.2L172.5 65.7L170.1 56.8L164.1 58.3ZM172.5 65.7L178.6 64.0L175.9 55.2L170.1 56.8ZM178.6 64.0L184.6 62.2L181.7 53.4L175.9 55.2ZM184.6 62.2L190.5 60.1L187.3 51.5L181.7 53.4ZM120.5 63.5L126.8 63.3L126.4 54.1L120.3 54.3ZM126.8 63.3L133.2 62.9L132.4 53.8L126.4 54.1ZM133.2 62.9L139.5 62.3L138.4 53.2L132.4 53.8ZM139.5 62.3L145.7 61.6L144.4 52.5L138.4 53.2ZM145.7 61.6L151.9 60.7L150.3 51.6L144.4 52.5ZM151.9 60.7L158.1 59.6L156.1 50.6L150.3 51.6ZM158.1 59.6L164.1 58.3L161.9 49.4L156.1 50.6ZM164.1 58.3L170.1 56.8L167.6 48.0L161.9 49.4ZM170.1 56.8L175.9 55.2L173.2 46.5L167.6 48.0ZM175.9 55.2L181.7 53.4L178.7 44.8L173.2 46.5ZM181.7 53.4L187.3 51.5L184.0 42.9L178.7 44.8ZM108.2 54.2L114.3 54.3L114.4 45.3L108.6 45.1ZM114.3 54.3L120.3 54.3L120.1 45.2L114.4 45.3ZM120.3 54.3L126.4 54.1L125.9 45.1L120.1 45.2ZM126.4 54.1L132.4 53.8L131.6 44.7L125.9 45.1ZM132.4 53.8L138.4 53.2L137.3 44.2L131.6 44.7ZM138.4 53.2L144.4 52.5L143.0 43.5L137.3 44.2ZM144.4 52.5L150.3 51.6L148.6 42.7L143.0 43.5ZM150.3 51.6L156.1 50.6L154.1 41.7L148.6 42.7ZM156.1 50.6L161.9 49.4L159.6 40.6L154.1 41.7ZM161.9 49.4L167.6 48.0L165.0 39.3L159.6 40.6ZM167.6 48.0L173.2 46.5L170.3 37.8L165.0 39.3ZM173.2 46.5L178.7 44.8L175.5 36.2L170.3 37.8ZM178.7 44.8L184.0 42.9L180.6 34.4L175.5 36.2ZM91.5 43.7L97.2 44.3L98.3 35.3L92.9 34.7ZM97.2 44.3L102.9 44.8L103.7 35.8L98.3 35.3ZM102.9 44.8L108.6 45.1L109.1 36.1L103.7 35.8ZM108.6 45.1L114.4 45.3L114.5 36.2L109.1 36.1ZM114.4 45.3L120.1 45.2L119.9 36.2L114.5 36.2ZM120.1 45.2L125.9 45.1L125.4 36.1L119.9 36.2ZM125.9 45.1L131.6 44.7L130.8 35.7L125.4 36.1ZM131.6 44.7L137.3 44.2L136.2 35.3L130.8 35.7ZM137.3 44.2L143.0 43.5L141.5 34.6L136.2 35.3ZM143.0 43.5L148.6 42.7L146.8 33.8L141.5 34.6ZM148.6 42.7L154.1 41.7L152.1 32.9L146.8 33.8ZM154.1 41.7L159.6 40.6L157.2 31.8L152.1 32.9ZM159.6 40.6L165.0 39.3L162.3 30.6L157.2 31.8ZM165.0 39.3L170.3 37.8L167.4 29.2L162.3 30.6ZM170.3 37.8L175.5 36.2L172.3 27.7L167.4 29.2ZM175.5 36.2L180.6 34.4L177.1 26.0L172.3 27.7ZM92.9 34.7L98.3 35.3L99.4 26.5L94.4 25.9ZM98.3 35.3L103.7 35.8L104.5 26.9L99.4 26.5ZM103.7 35.8L109.1 36.1L109.5 27.2L104.5 26.9ZM109.1 36.1L114.5 36.2L114.6 27.3L109.5 27.2ZM114.5 36.2L119.9 36.2L119.8 27.3L114.6 27.3ZM119.9 36.2L125.4 36.1L124.9 27.1L119.8 27.3ZM125.4 36.1L130.8 35.7L129.9 26.8L124.9 27.1ZM130.8 35.7L136.2 35.3L135.0 26.4L129.9 26.8ZM136.2 35.3L141.5 34.6L140.0 25.8L135.0 26.4ZM141.5 34.6L146.8 33.8L145.0 25.1L140.0 25.8ZM146.8 33.8L152.1 32.9L149.9 24.2L145.0 25.1ZM152.1 32.9L157.2 31.8L154.8 23.2L149.9 24.2ZM157.2 31.8L162.3 30.6L159.6 22.0L154.8 23.2ZM162.3 30.6L167.4 29.2L164.3 20.7L159.6 22.0ZM167.4 29.2L172.3 27.7L168.9 19.3L164.3 20.7ZM172.3 27.7L177.1 26.0L173.4 17.7L168.9 19.3ZM140.0 25.8L145.0 25.1L143.1 16.4L138.5 17.1ZM145.0 25.1L149.9 24.2L147.7 15.6L143.1 16.4ZM149.9 24.2L154.8 23.2L152.3 14.6L147.7 15.6ZM154.8 23.2L159.6 22.0L156.8 13.5L152.3 14.6ZM159.6 22.0L164.3 20.7L161.2 12.3L156.8 13.5Z" fill="#ffe132" stroke="#ffe132" stroke-width="0.35"/>

<use href="#map"/>
</g>
<rect x="0" y="0" width="234.4" height="144.9" fill="none" stroke="#000" stroke-width="4.3" stroke-linejoin="round"/>
</g>
<g transform="translate(851.19,300.70)">
<text transform="matrix(1 0 0 1.04 -2.3 -4.7)" font-size="18.8">Phase 4, MVP~0</text>
<text transform="matrix(1 0 0 1.04 234.7 -3.1)" font-size="18.8" text-anchor="end">54 events</text>
<g clip-path="url(#pc)">
<path d="M130.1 144.9L138.5 144.4L138.0 135.6L129.8 136.1ZM138.5 144.4L146.8 143.7L146.2 134.9L138.0 135.6ZM146.8 143.7L155.1 142.7L154.3 133.9L146.2 134.9ZM155.1 142.7L163.3 141.5L162.4 132.7L154.3 133.9ZM163.3 141.5L171.4 140.0L170.3 131.3L162.4 132.7ZM171.4 140.0L179.4 138.3L178.2 129.6L170.3 131.3ZM179.4 138.3L187.3 136.4L185.9 127.8L178.2 129.6ZM154.3 133.9L162.4 132.7L161.3 123.9L153.5 125.0ZM162.4 132.7L170.3 131.3L169.1 122.5L161.3 123.9ZM170.3 131.3L178.2 129.6L176.8 120.9L169.1 122.5ZM178.2 129.6L185.9 127.8L184.4 119.0L176.8 120.9ZM185.9 127.8L193.5 125.7L191.8 117.0L184.4 119.0ZM193.5 125.7L201.0 123.4L199.1 114.7L191.8 117.0ZM153.5 125.0L161.3 123.9L160.2 114.9L152.6 116.1ZM161.3 123.9L169.1 122.5L167.8 113.6L160.2 114.9ZM169.1 122.5L176.8 120.9L175.3 112.0L167.8 113.6ZM176.8 120.9L184.4 119.0L182.7 110.2L175.3 112.0ZM184.4 119.0L191.8 117.0L189.9 108.2L182.7 110.2ZM191.8 117.0L199.1 114.7L197.0 106.0L189.9 108.2ZM160.2 114.9L167.8 113.6L166.4 104.6L159.0 105.9ZM167.8 113.6L175.3 112.0L173.7 103.1L166.4 104.6ZM175.3 112.0L182.7 110.2L180.9 101.4L173.7 103.1ZM182.7 110.2L189.9 108.2L187.9 99.4L180.9 101.4Z" fill="#d2f5ff" stroke="#d2f5ff" stroke-width="0.35"/><path d="M6.5 140.7L13.9 143.7L15.5 135.4L8.3 132.4ZM13.9 143.7L21.5 146.6L23.0 138.2L15.5 135.4ZM23.0 138.2L30.6 140.8L32.1 132.3L24.6 129.8ZM30.6 140.8L38.4 143.2L39.8 134.7L32.1 132.3ZM38.4 143.2L46.3 145.3L47.5 136.8L39.8 134.7ZM46.3 145.3L54.3 147.2L55.5 138.6L47.5 136.8ZM39.8 134.7L47.5 136.8L48.9 128.1L41.3 126.1ZM47.5 136.8L55.5 138.6L56.7 129.9L48.9 128.1ZM55.5 138.6L63.5 140.3L64.6 131.6L56.7 129.9ZM63.5 140.3L71.6 141.7L72.5 132.9L64.6 131.6ZM71.6 141.7L79.8 142.9L80.6 134.1L72.5 132.9ZM48.9 128.1L56.7 129.9L58.0 121.2L50.5 119.4ZM56.7 129.9L64.6 131.6L65.7 122.7L58.0 121.2ZM64.6 131.6L72.5 132.9L73.5 124.1L65.7 122.7ZM72.5 132.9L80.6 134.1L81.4 125.2L73.5 124.1ZM50.5 119.4L58.0 121.2L59.5 112.3L52.1 110.5ZM58.0 121.2L65.7 122.7L67.0 113.8L59.5 112.3ZM65.7 122.7L73.5 124.1L74.6 115.1L67.0 113.8ZM73.5 124.1L81.4 125.2L82.3 116.2L74.6 115.1ZM52.1 110.5L59.5 112.3L61.1 103.4L53.9 101.7ZM59.5 112.3L67.0 113.8L68.4 104.9L61.1 103.4ZM67.0 113.8L74.6 115.1L75.8 106.1L68.4 104.9ZM74.6 115.1L82.3 116.2L83.2 107.2L75.8 106.1Z" fill="#ffffc8" stroke="#ffffc8" stroke-width="0.35"/><path d="M53.9 101.7L61.1 103.4L62.8 94.4L55.8 92.8ZM61.1 103.4L68.4 104.9L69.8 95.9L62.8 94.4ZM68.4 104.9L75.8 106.1L77.0 97.1L69.8 95.9ZM75.8 106.1L83.2 107.2L84.2 98.1L77.0 97.1ZM48.9 90.9L55.8 92.8L57.8 83.8L51.2 82.0ZM55.8 92.8L62.8 94.4L64.5 85.4L57.8 83.8ZM62.8 94.4L69.8 95.9L71.4 86.8L64.5 85.4ZM69.8 95.9L77.0 97.1L78.3 88.0L71.4 86.8ZM77.0 97.1L84.2 98.1L85.3 89.0L78.3 88.0ZM44.6 80.1L51.2 82.0L53.5 73.2L47.2 71.3ZM51.2 82.0L57.8 83.8L59.9 74.9L53.5 73.2ZM57.8 83.8L64.5 85.4L66.4 76.4L59.9 74.9ZM64.5 85.4L71.4 86.8L73.0 77.8L66.4 76.4ZM71.4 86.8L78.3 88.0L79.7 78.9L73.0 77.8ZM78.3 88.0L85.3 89.0L86.4 79.9L79.7 78.9ZM53.5 73.2L59.9 74.9L62.1 66.0L56.0 64.3ZM59.9 74.9L66.4 76.4L68.4 67.5L62.1 66.0Z" fill="#ffe132" stroke="#ffe132" stroke-width="0.35"/>
<path d="M208.7 -0.4C208.4 2.3 206.7 11.1 206.9 16.0C207.2 20.9 208.8 25.1 210.2 29.1C211.7 33.1 214.2 36.8 215.7 40.1C217.2 43.4 217.5 47.0 219.0 48.8C220.4 50.7 221.7 51.1 224.5 51.0C227.2 50.9 233.6 48.8 235.4 48.4" fill="none" stroke="#ff0000" stroke-width="2.5" stroke-linecap="round" stroke-linejoin="round"/>
<use href="#map"/>
</g>
<rect x="0" y="0" width="234.4" height="144.9" fill="none" stroke="#000" stroke-width="4.3" stroke-linejoin="round"/>
</g>
<g transform="translate(1132.42,300.70)">
<text transform="matrix(1 0 0 1.04 -2.3 -4.7)" font-size="18.8">Phase 5, MVP~0</text>
<text transform="matrix(1 0 0 1.04 234.7 -3.1)" font-size="18.8" text-anchor="end">53 events</text>
<g clip-path="url(#pc)">
<path d="M-0.3 69.5L5.2 72.8L8.9 64.5L3.6 61.3ZM5.2 72.8L10.9 75.9L14.4 67.5L8.9 64.5ZM10.9 75.9L16.8 78.8L20.1 70.4L14.4 67.5ZM-1.5 58.0L3.6 61.3L7.7 53.2L2.8 50.0ZM3.6 61.3L8.9 64.5L12.8 56.3L7.7 53.2ZM8.9 64.5L14.4 67.5L18.1 59.2L12.8 56.3ZM14.4 67.5L20.1 70.4L23.6 61.9L18.1 59.2ZM-1.9 46.7L2.8 50.0L7.2 42.1L2.7 38.8ZM2.8 50.0L7.7 53.2L11.9 45.1L7.2 42.1ZM7.7 53.2L12.8 56.3L16.8 48.1L11.9 45.1ZM12.8 56.3L18.1 59.2L22.0 50.9L16.8 48.1ZM18.1 59.2L23.6 61.9L27.2 53.5L22.0 50.9ZM-1.6 35.5L2.7 38.8L7.6 31.1L3.5 27.9ZM2.7 38.8L7.2 42.1L11.9 34.2L7.6 31.1ZM7.2 42.1L11.9 45.1L16.4 37.1L11.9 34.2ZM11.9 45.1L16.8 48.1L21.1 39.9L16.4 37.1ZM16.8 48.1L22.0 50.9L26.0 42.6L21.1 39.9ZM22.0 50.9L27.2 53.5L31.1 45.2L26.0 42.6ZM27.2 53.5L32.7 56.0L36.3 47.5L31.1 45.2ZM76.5 59.8L82.7 60.8L84.3 51.8L78.4 50.8ZM82.7 60.8L88.9 61.7L90.2 52.7L84.3 51.8ZM68.4 104.9L75.8 106.1L77.0 97.1L69.8 95.9ZM97.8 117.8L105.7 118.2L106.0 109.1L98.3 108.7Z" fill="#ffffc8" stroke="#ffffc8" stroke-width="0.35"/><path d="M90.0 117.1L97.8 117.8L98.3 108.7L90.8 108.1ZM75.8 106.1L83.2 107.2L84.2 98.1L77.0 97.1ZM83.2 107.2L90.8 108.1L91.5 99.0L84.2 98.1ZM90.8 108.1L98.3 108.7L98.9 99.6L91.5 99.0ZM98.3 108.7L106.0 109.1L106.3 100.0L98.9 99.6ZM106.0 109.1L113.6 109.3L113.7 100.2L106.3 100.0ZM42.2 88.9L48.9 90.9L51.2 82.0L44.6 80.1ZM48.9 90.9L55.8 92.8L57.8 83.8L51.2 82.0ZM55.8 92.8L62.8 94.4L64.5 85.4L57.8 83.8ZM62.8 94.4L69.8 95.9L71.4 86.8L64.5 85.4ZM69.8 95.9L77.0 97.1L78.3 88.0L71.4 86.8ZM77.0 97.1L84.2 98.1L85.3 89.0L78.3 88.0ZM84.2 98.1L91.5 99.0L92.4 89.8L85.3 89.0ZM91.5 99.0L98.9 99.6L99.5 90.4L92.4 89.8ZM98.9 99.6L106.3 100.0L106.6 90.8L99.5 90.4ZM106.3 100.0L113.7 100.2L113.8 91.0L106.6 90.8ZM38.3 77.9L44.6 80.1L47.2 71.3L41.1 69.2ZM44.6 80.1L51.2 82.0L53.5 73.2L47.2 71.3ZM51.2 82.0L57.8 83.8L59.9 74.9L53.5 73.2ZM57.8 83.8L64.5 85.4L66.4 76.4L59.9 74.9ZM64.5 85.4L71.4 86.8L73.0 77.8L66.4 76.4ZM71.4 86.8L78.3 88.0L79.7 78.9L73.0 77.8ZM78.3 88.0L85.3 89.0L86.4 79.9L79.7 78.9ZM85.3 89.0L92.4 89.8L93.3 80.7L86.4 79.9ZM92.4 89.8L99.5 90.4L100.1 81.3L93.3 80.7ZM99.5 90.4L106.6 90.8L107.0 81.6L100.1 81.3ZM35.1 66.9L41.1 69.2L44.1 60.5L38.3 58.3ZM41.1 69.2L47.2 71.3L50.0 62.5L44.1 60.5ZM47.2 71.3L53.5 73.2L56.0 64.3L50.0 62.5ZM53.5 73.2L59.9 74.9L62.1 66.0L56.0 64.3ZM79.7 78.9L86.4 79.9L87.6 70.8L81.1 69.9ZM86.4 79.9L93.3 80.7L94.2 71.5L87.6 70.8ZM93.3 80.7L100.1 81.3L100.8 72.1L94.2 71.5ZM38.3 58.3L44.1 60.5L47.2 51.8L41.7 49.8ZM44.1 60.5L50.0 62.5L52.8 53.8L47.2 51.8ZM50.0 62.5L56.0 64.3L58.6 55.5L52.8 53.8ZM56.0 64.3L62.1 66.0L64.5 57.1L58.6 55.5ZM62.1 66.0L68.4 67.5L70.4 58.5L64.5 57.1ZM68.4 67.5L74.7 68.8L76.5 59.8L70.4 58.5ZM74.7 68.8L81.1 69.9L82.7 60.8L76.5 59.8ZM81.1 69.9L87.6 70.8L88.9 61.7L82.7 60.8ZM87.6 70.8L94.2 71.5L95.1 62.4L88.9 61.7ZM47.2 51.8L52.8 53.8L55.8 45.1L50.4 43.3ZM52.8 53.8L58.6 55.5L61.3 46.7L55.8 45.1ZM58.6 55.5L64.5 57.1L66.9 48.3L61.3 46.7ZM64.5 57.1L70.4 58.5L72.6 49.6L66.9 48.3ZM70.4 58.5L76.5 59.8L78.4 50.8L72.6 49.6Z" fill="#ffe132" stroke="#ffe132" stroke-width="0.35"/><path d="M59.9 74.9L66.4 76.4L68.4 67.5L62.1 66.0ZM66.4 76.4L73.0 77.8L74.7 68.8L68.4 67.5ZM73.0 77.8L79.7 78.9L81.1 69.9L74.7 68.8Z" fill="#ffaa00" stroke="#ffaa00" stroke-width="0.35"/>

<use href="#map"/>
</g>
<rect x="0" y="0" width="234.4" height="144.9" fill="none" stroke="#000" stroke-width="4.3" stroke-linejoin="round"/>
</g>
<g transform="translate(1413.65,300.70)">
<text transform="matrix(1 0 0 1.04 -2.3 -4.7)" font-size="18.8">Phase 6, MVP~0</text>
<text transform="matrix(1 0 0 1.04 234.7 -3.1)" font-size="18.8" text-anchor="end">53 events</text>
<g clip-path="url(#pc)">
<path d="M127.7 1.1L141.9 1.1L140.8 7.2L128.8 8.3Z" fill="#ffe132"/><path d="M79.8 142.9L88.1 143.8L88.7 135.0L80.6 134.1ZM88.1 143.8L96.5 144.5L96.9 135.7L88.7 135.0ZM96.5 144.5L104.9 145.0L105.1 136.2L96.9 135.7ZM80.6 134.1L88.7 135.0L89.3 126.1L81.4 125.2ZM88.7 135.0L96.9 135.7L97.3 126.8L89.3 126.1ZM96.9 135.7L105.1 136.2L105.4 127.2L97.3 126.8ZM105.1 136.2L113.3 136.4L113.4 127.4L105.4 127.2ZM89.3 126.1L97.3 126.8L97.8 117.8L90.0 117.1ZM97.3 126.8L105.4 127.2L105.7 118.2L97.8 117.8ZM105.4 127.2L113.4 127.4L113.5 118.4L105.7 118.2ZM113.4 127.4L121.5 127.4L121.4 118.4L113.5 118.4ZM121.5 127.4L129.5 127.2L129.2 118.2L121.4 118.4ZM129.5 127.2L137.6 126.7L137.0 117.7L129.2 118.2ZM90.0 117.1L97.8 117.8L98.3 108.7L90.8 108.1ZM121.4 118.4L129.2 118.2L128.9 109.1L121.2 109.3ZM129.2 118.2L137.0 117.7L136.5 108.6L128.9 109.1ZM-1.5 89.3L4.6 92.6L7.6 84.3L1.8 81.0ZM1.8 81.0L7.6 84.3L10.9 75.9L5.2 72.8ZM-0.3 69.5L5.2 72.8L8.9 64.5L3.6 61.3Z" fill="#ffffc8" stroke="#ffffc8" stroke-width="0.35"/><path d="M97.8 117.8L105.7 118.2L106.0 109.1L98.3 108.7ZM105.7 118.2L113.5 118.4L113.6 109.3L106.0 109.1ZM113.5 118.4L121.4 118.4L121.2 109.3L113.6 109.3ZM90.8 108.1L98.3 108.7L98.9 99.6L91.5 99.0ZM98.3 108.7L106.0 109.1L106.3 100.0L98.9 99.6ZM106.0 109.1L113.6 109.3L113.7 100.2L106.3 100.0ZM113.6 109.3L121.2 109.3L121.1 100.2L113.7 100.2ZM77.0 97.1L84.2 98.1L85.3 89.0L78.3 88.0ZM84.2 98.1L91.5 99.0L92.4 89.8L85.3 89.0ZM91.5 99.0L98.9 99.6L99.5 90.4L92.4 89.8ZM51.2 82.0L57.8 83.8L59.9 74.9L53.5 73.2ZM57.8 83.8L64.5 85.4L66.4 76.4L59.9 74.9ZM64.5 85.4L71.4 86.8L73.0 77.8L66.4 76.4ZM71.4 86.8L78.3 88.0L79.7 78.9L73.0 77.8ZM78.3 88.0L85.3 89.0L86.4 79.9L79.7 78.9ZM85.3 89.0L92.4 89.8L93.3 80.7L86.4 79.9ZM53.5 73.2L59.9 74.9L62.1 66.0L56.0 64.3ZM59.9 74.9L66.4 76.4L68.4 67.5L62.1 66.0ZM66.4 76.4L73.0 77.8L74.7 68.8L68.4 67.5ZM73.0 77.8L79.7 78.9L81.1 69.9L74.7 68.8Z" fill="#ffe132" stroke="#ffe132" stroke-width="0.35"/>
<path d="M106.9 -0.4C108.2 1.0 111.4 6.5 114.5 8.3C117.7 10.2 121.8 10.3 125.5 10.5C129.1 10.7 132.8 10.3 136.4 9.4C140.1 8.5 144.6 6.7 147.4 5.1C150.1 3.4 151.9 0.5 152.9 -0.4" fill="none" stroke="#ff0000" stroke-width="2.5" stroke-linecap="round" stroke-linejoin="round"/><path d="M12.8 -0.4C14.4 1.6 19.9 8.2 22.6 11.6C25.4 15.1 27.9 17.5 29.2 20.4C30.5 23.3 31.0 26.0 30.3 29.1C29.5 32.2 27.2 36.4 24.8 39.0C22.4 41.5 20.1 42.9 16.0 44.5C12.0 46.0 3.3 47.6 0.7 48.2" fill="none" stroke="#0000ff" stroke-width="2.5" stroke-linecap="round" stroke-linejoin="round"/><path d="M183.5 49.9C183.3 48.4 183.9 46.5 185.0 45.5C186.1 44.6 188.8 43.5 190.1 44.0C191.3 44.6 192.7 47.2 192.7 48.8C192.7 50.4 191.1 52.7 190.1 53.6C189.0 54.6 187.4 55.1 186.3 54.5C185.3 53.9 183.7 51.4 183.5 49.9Z" fill="none" stroke="#0000ff" stroke-width="2.5" stroke-linecap="round" stroke-linejoin="round"/>
<use href="#map"/>
</g>
<rect x="0" y="0" width="234.4" height="144.9" fill="none" stroke="#000" stroke-width="4.3" stroke-linejoin="round"/>
</g>
<g transform="translate(1694.88,300.70)">
<text transform="matrix(1 0 0 1.04 -2.3 -4.7)" font-size="18.8">Phase 7, MVP~0</text>
<text transform="matrix(1 0 0 1.04 234.7 -3.1)" font-size="18.8" text-anchor="end">43 events</text>
<g clip-path="url(#pc)">
<path d="M58.9 36.5L64.1 38.1L67.0 29.4L62.1 27.9ZM64.1 38.1L69.4 39.5L72.0 30.8L67.0 29.4ZM69.4 39.5L74.8 40.8L77.2 32.0L72.0 30.8ZM74.8 40.8L80.3 41.9L82.4 33.1L77.2 32.0ZM80.3 41.9L85.9 42.9L87.6 34.0L82.4 33.1ZM85.9 42.9L91.5 43.7L92.9 34.7L87.6 34.0ZM91.5 43.7L97.2 44.3L98.3 35.3L92.9 34.7ZM97.2 44.3L102.9 44.8L103.7 35.8L98.3 35.3ZM47.9 22.6L52.5 24.5L56.4 16.3L52.1 14.5ZM52.5 24.5L57.3 26.3L60.9 18.0L56.4 16.3ZM57.3 26.3L62.1 27.9L65.4 19.5L60.9 18.0ZM62.1 27.9L67.0 29.4L70.0 20.9L65.4 19.5ZM67.0 29.4L72.0 30.8L74.8 22.2L70.0 20.9ZM72.0 30.8L77.2 32.0L79.6 23.3L74.8 22.2ZM77.2 32.0L82.4 33.1L84.4 24.3L79.6 23.3ZM82.4 33.1L87.6 34.0L89.4 25.2L84.4 24.3ZM87.6 34.0L92.9 34.7L94.4 25.9L89.4 25.2ZM92.9 34.7L98.3 35.3L99.4 26.5L94.4 25.9ZM98.3 35.3L103.7 35.8L104.5 26.9L99.4 26.5ZM47.9 12.6L52.1 14.5L56.4 6.5L52.5 4.8ZM52.1 14.5L56.4 16.3L60.4 8.2L56.4 6.5ZM56.4 16.3L60.9 18.0L64.6 9.8L60.4 8.2ZM60.9 18.0L65.4 19.5L68.8 11.2L64.6 9.8ZM65.4 19.5L70.0 20.9L73.1 12.5L68.8 11.2ZM70.0 20.9L74.8 22.2L77.5 13.7L73.1 12.5ZM74.8 22.2L79.6 23.3L82.0 14.8L77.5 13.7ZM79.6 23.3L84.4 24.3L86.6 15.7L82.0 14.8ZM84.4 24.3L89.4 25.2L91.2 16.5L86.6 15.7ZM89.4 25.2L94.4 25.9L95.8 17.2L91.2 16.5ZM94.4 25.9L99.4 26.5L100.5 17.7L95.8 17.2ZM99.4 26.5L104.5 26.9L105.3 18.1L100.5 17.7ZM52.5 4.8L56.4 6.5L60.8 -1.3L57.2 -2.9ZM56.4 6.5L60.4 8.2L64.5 0.3L60.8 -1.3ZM60.4 8.2L64.6 9.8L68.4 1.7L64.5 0.3ZM64.6 9.8L68.8 11.2L72.3 3.1L68.4 1.7ZM68.8 11.2L73.1 12.5L76.3 4.3L72.3 3.1ZM73.1 12.5L77.5 13.7L80.4 5.4L76.3 4.3ZM77.5 13.7L82.0 14.8L84.6 6.4L80.4 5.4ZM82.0 14.8L86.6 15.7L88.8 7.2L84.6 6.4ZM86.6 15.7L91.2 16.5L93.0 8.0L88.8 7.2ZM91.2 16.5L95.8 17.2L97.4 8.6L93.0 8.0ZM95.8 17.2L100.5 17.7L101.7 9.1L97.4 8.6ZM100.5 17.7L105.3 18.1L106.1 9.4L101.7 9.1ZM76.3 4.3L80.4 5.4L83.3 -2.8L79.6 -3.8ZM80.4 5.4L84.6 6.4L87.1 -1.9L83.3 -2.8ZM84.6 6.4L88.8 7.2L91.0 -1.1L87.1 -1.9ZM88.8 7.2L93.0 8.0L95.0 -0.4L91.0 -1.1ZM93.0 8.0L97.4 8.6L98.9 0.1L95.0 -0.4ZM97.4 8.6L101.7 9.1L102.9 0.6L98.9 0.1ZM101.7 9.1L106.1 9.4L107.0 0.9L102.9 0.6ZM106.1 9.4L110.5 9.7L111.0 1.1L107.0 0.9Z" fill="#00bfff" stroke="#00bfff" stroke-width="0.35"/><path d="M23.6 61.9L29.3 64.5L32.7 56.0L27.2 53.5ZM16.8 48.1L22.0 50.9L26.0 42.6L21.1 39.9ZM22.0 50.9L27.2 53.5L31.1 45.2L26.0 42.6ZM27.2 53.5L32.7 56.0L36.3 47.5L31.1 45.2ZM32.7 56.0L38.3 58.3L41.7 49.8L36.3 47.5ZM38.3 58.3L44.1 60.5L47.2 51.8L41.7 49.8ZM44.1 60.5L50.0 62.5L52.8 53.8L47.2 51.8ZM50.0 62.5L56.0 64.3L58.6 55.5L52.8 53.8ZM21.1 39.9L26.0 42.6L30.2 34.5L25.6 31.9ZM26.0 42.6L31.1 45.2L35.0 36.9L30.2 34.5ZM31.1 45.2L36.3 47.5L40.0 39.1L35.0 36.9ZM36.3 47.5L41.7 49.8L45.1 41.3L40.0 39.1ZM41.7 49.8L47.2 51.8L50.4 43.3L45.1 41.3ZM47.2 51.8L52.8 53.8L55.8 45.1L50.4 43.3ZM52.8 53.8L58.6 55.5L61.3 46.7L55.8 45.1ZM58.6 55.5L64.5 57.1L66.9 48.3L61.3 46.7ZM64.5 57.1L70.4 58.5L72.6 49.6L66.9 48.3ZM70.4 58.5L76.5 59.8L78.4 50.8L72.6 49.6ZM21.1 29.2L25.6 31.9L30.2 24.0L25.9 21.4ZM25.6 31.9L30.2 34.5L34.6 26.4L30.2 24.0ZM30.2 34.5L35.0 36.9L39.2 28.7L34.6 26.4ZM35.0 36.9L40.0 39.1L43.9 30.8L39.2 28.7ZM40.0 39.1L45.1 41.3L48.8 32.9L43.9 30.8ZM45.1 41.3L50.4 43.3L53.8 34.7L48.8 32.9ZM50.4 43.3L55.8 45.1L58.9 36.5L53.8 34.7ZM55.8 45.1L61.3 46.7L64.1 38.1L58.9 36.5ZM61.3 46.7L66.9 48.3L69.4 39.5L64.1 38.1ZM66.9 48.3L72.6 49.6L74.8 40.8L69.4 39.5ZM72.6 49.6L78.4 50.8L80.3 41.9L74.8 40.8ZM78.4 50.8L84.3 51.8L85.9 42.9L80.3 41.9ZM84.3 51.8L90.2 52.7L91.5 43.7L85.9 42.9ZM90.2 52.7L96.1 53.3L97.2 44.3L91.5 43.7ZM96.1 53.3L102.2 53.8L102.9 44.8L97.2 44.3ZM25.9 21.4L30.2 24.0L35.0 16.1L31.0 13.7ZM30.2 24.0L34.6 26.4L39.2 18.4L35.0 16.1ZM34.6 26.4L39.2 28.7L43.5 20.6L39.2 18.4ZM39.2 28.7L43.9 30.8L47.9 22.6L43.5 20.6ZM43.9 30.8L48.8 32.9L52.5 24.5L47.9 22.6ZM48.8 32.9L53.8 34.7L57.3 26.3L52.5 24.5ZM53.8 34.7L58.9 36.5L62.1 27.9L57.3 26.3ZM102.9 44.8L108.6 45.1L109.1 36.1L103.7 35.8ZM108.6 45.1L114.4 45.3L114.5 36.2L109.1 36.1ZM114.4 45.3L120.1 45.2L119.9 36.2L114.5 36.2ZM27.1 11.2L31.0 13.7L36.1 6.2L32.5 3.8ZM31.0 13.7L35.0 16.1L39.9 8.4L36.1 6.2ZM35.0 16.1L39.2 18.4L43.8 10.6L39.9 8.4ZM39.2 18.4L43.5 20.6L47.9 12.6L43.8 10.6ZM43.5 20.6L47.9 22.6L52.1 14.5L47.9 12.6ZM103.7 35.8L109.1 36.1L109.5 27.2L104.5 26.9ZM109.1 36.1L114.5 36.2L114.6 27.3L109.5 27.2ZM114.5 36.2L119.9 36.2L119.8 27.3L114.6 27.3ZM36.1 6.2L39.9 8.4L45.0 0.9L41.5 -1.3ZM39.9 8.4L43.8 10.6L48.7 2.9L45.0 0.9ZM43.8 10.6L47.9 12.6L52.5 4.8L48.7 2.9ZM104.5 26.9L109.5 27.2L110.0 18.4L105.3 18.1ZM109.5 27.2L114.6 27.3L114.8 18.5L110.0 18.4ZM114.6 27.3L119.8 27.3L119.6 18.5L114.8 18.5ZM105.3 18.1L110.0 18.4L110.5 9.7L106.1 9.4ZM110.0 18.4L114.8 18.5L114.9 9.8L110.5 9.7ZM114.8 18.5L119.6 18.5L119.4 9.8L114.9 9.8ZM119.6 18.5L124.3 18.3L123.8 9.7L119.4 9.8ZM110.5 9.7L114.9 9.8L115.1 1.2L111.0 1.1ZM114.9 9.8L119.4 9.8L119.1 1.2L115.1 1.2Z" fill="#a0d2ff" stroke="#a0d2ff" stroke-width="0.35"/><path d="M89.3 126.1L97.3 126.8L97.8 117.8L90.0 117.1ZM90.0 117.1L97.8 117.8L98.3 108.7L90.8 108.1Z" fill="#ffffc8" stroke="#ffffc8" stroke-width="0.35"/>
<path d="M49.7 -0.4C48.3 1.0 43.4 5.2 41.0 8.3C38.6 11.4 36.7 14.4 35.5 18.2C34.3 22.0 33.6 27.1 33.8 31.3C34.0 35.5 35.0 39.7 36.6 43.4C38.2 47.0 40.4 50.1 43.2 53.2C45.9 56.3 49.2 59.6 53.0 62.0C56.9 64.3 62.2 66.6 66.2 67.4C70.2 68.2 73.5 67.7 77.1 66.8C80.8 65.9 84.8 64.0 88.1 62.0C91.3 59.9 94.1 57.2 96.8 54.3C99.5 51.4 102.5 47.9 104.5 44.5C106.5 41.0 107.8 37.5 108.8 33.5C109.9 29.5 110.9 24.4 111.0 20.4C111.2 16.4 111.2 12.9 109.9 9.4C108.7 6.0 104.5 1.2 103.4 -0.4" fill="none" stroke="#0000ff" stroke-width="2.5" stroke-linecap="round" stroke-linejoin="round"/>
<use href="#map"/>
</g>
<rect x="0" y="0" width="234.4" height="144.9" fill="none" stroke="#000" stroke-width="4.3" stroke-linejoin="round"/>
</g>
<g transform="translate(1976.11,300.70)">
<text transform="matrix(1 0 0 1.04 -2.3 -4.7)" font-size="18.8">Phase 8, MVP~0</text>
<text transform="matrix(1 0 0 1.04 234.7 -3.1)" font-size="18.8" text-anchor="end">37 events</text>
<g clip-path="url(#pc)">


<use href="#map"/>
</g>
<rect x="0" y="0" width="234.4" height="144.9" fill="none" stroke="#000" stroke-width="4.3" stroke-linejoin="round"/>
</g>
<g transform="translate(7.50,480.70)">
<text transform="matrix(1 0 0 1.04 -2.3 -4.7)" font-size="18.8">Phase 1, MVP-</text>
<text transform="matrix(1 0 0 1.04 234.7 -3.1)" font-size="18.8" text-anchor="end">16 events</text>
<g clip-path="url(#pc)">
<path d="M59.5 112.3L67.0 113.8L68.4 104.9L61.1 103.4ZM39.9 97.7L46.8 99.8L48.9 90.9L42.2 88.9ZM46.8 99.8L53.9 101.7L55.8 92.8L48.9 90.9ZM53.9 101.7L61.1 103.4L62.8 94.4L55.8 92.8ZM61.1 103.4L68.4 104.9L69.8 95.9L62.8 94.4ZM68.4 104.9L75.8 106.1L77.0 97.1L69.8 95.9ZM75.8 106.1L83.2 107.2L84.2 98.1L77.0 97.1ZM42.2 88.9L48.9 90.9L51.2 82.0L44.6 80.1ZM48.9 90.9L55.8 92.8L57.8 83.8L51.2 82.0ZM55.8 92.8L62.8 94.4L64.5 85.4L57.8 83.8ZM62.8 94.4L69.8 95.9L71.4 86.8L64.5 85.4ZM69.8 95.9L77.0 97.1L78.3 88.0L71.4 86.8ZM44.6 80.1L51.2 82.0L53.5 73.2L47.2 71.3ZM51.2 82.0L57.8 83.8L59.9 74.9L53.5 73.2ZM57.8 83.8L64.5 85.4L66.4 76.4L59.9 74.9ZM64.5 85.4L71.4 86.8L73.0 77.8L66.4 76.4ZM53.5 73.2L59.9 74.9L62.1 66.0L56.0 64.3ZM59.9 74.9L66.4 76.4L68.4 67.5L62.1 66.0ZM66.4 76.4L73.0 77.8L74.7 68.8L68.4 67.5ZM217.5 47.6L222.4 44.6L217.9 36.6L213.2 39.5ZM222.4 44.6L227.1 41.5L222.4 33.7L217.9 36.6ZM227.1 41.5L231.6 38.3L226.7 30.6L222.4 33.7ZM198.2 47.1L203.4 44.7L199.3 36.5L194.4 38.8ZM203.4 44.7L208.4 42.2L204.1 34.0L199.3 36.5ZM208.4 42.2L213.2 39.5L208.7 31.5L204.1 34.0ZM213.2 39.5L217.9 36.6L213.2 28.8L208.7 31.5ZM217.9 36.6L222.4 33.7L217.5 25.9L213.2 28.8ZM222.4 33.7L226.7 30.6L221.5 23.0L217.5 25.9ZM226.7 30.6L230.7 27.4L225.4 19.9L221.5 23.0ZM230.7 27.4L234.6 24.0L229.1 16.7L225.4 19.9ZM194.4 38.8L199.3 36.5L195.1 28.3L190.4 30.5ZM199.3 36.5L204.1 34.0L199.7 26.0L195.1 28.3ZM204.1 34.0L208.7 31.5L204.1 23.5L199.7 26.0ZM208.7 31.5L213.2 28.8L208.3 21.0L204.1 23.5ZM213.2 28.8L217.5 25.9L212.4 18.3L208.3 21.0ZM217.5 25.9L221.5 23.0L216.2 15.5L212.4 18.3ZM221.5 23.0L225.4 19.9L219.9 12.6L216.2 15.5ZM225.4 19.9L229.1 16.7L223.4 9.6L219.9 12.6ZM190.4 30.5L195.1 28.3L190.8 20.2L186.4 22.3ZM195.1 28.3L199.7 26.0L195.1 18.0L190.8 20.2ZM199.7 26.0L204.1 23.5L199.3 15.7L195.1 18.0ZM204.1 23.5L208.3 21.0L203.2 13.3L199.3 15.7ZM208.3 21.0L212.4 18.3L207.1 10.8L203.2 13.3ZM212.4 18.3L216.2 15.5L210.7 8.1L207.1 10.8Z" fill="#00bfff" stroke="#00bfff" stroke-width="0.35"/><path d="M43.0 117.3L50.5 119.4L52.1 110.5L44.8 108.6ZM50.5 119.4L58.0 121.2L59.5 112.3L52.1 110.5ZM58.0 121.2L65.7 122.7L67.0 113.8L59.5 112.3ZM37.7 106.4L44.8 108.6L46.8 99.8L39.9 97.7ZM44.8 108.6L52.1 110.5L53.9 101.7L46.8 99.8ZM52.1 110.5L59.5 112.3L61.1 103.4L53.9 101.7ZM67.0 113.8L74.6 115.1L75.8 106.1L68.4 104.9ZM74.6 115.1L82.3 116.2L83.2 107.2L75.8 106.1ZM33.1 95.4L39.9 97.7L42.2 88.9L35.6 86.6ZM35.6 86.6L42.2 88.9L44.6 80.1L38.3 77.9ZM77.0 97.1L84.2 98.1L85.3 89.0L78.3 88.0ZM38.3 77.9L44.6 80.1L47.2 71.3L41.1 69.2ZM71.4 86.8L78.3 88.0L79.7 78.9L73.0 77.8ZM78.3 88.0L85.3 89.0L86.4 79.9L79.7 78.9ZM47.2 71.3L53.5 73.2L56.0 64.3L50.0 62.5ZM73.0 77.8L79.7 78.9L81.1 69.9L74.7 68.8ZM56.0 64.3L62.1 66.0L64.5 57.1L58.6 55.5ZM62.1 66.0L68.4 67.5L70.4 58.5L64.5 57.1ZM3.3 121.0L10.2 124.1L12.4 115.7L5.6 112.6ZM10.2 124.1L17.3 127.1L19.3 118.6L12.4 115.7ZM17.3 127.1L24.6 129.8L26.5 121.3L19.3 118.6ZM-1.0 109.3L5.6 112.6L8.1 104.2L1.7 101.0ZM5.6 112.6L12.4 115.7L14.7 107.2L8.1 104.2ZM12.4 115.7L19.3 118.6L21.5 110.1L14.7 107.2ZM19.3 118.6L26.5 121.3L28.5 112.7L21.5 110.1ZM1.7 101.0L8.1 104.2L10.8 95.8L4.6 92.6ZM8.1 104.2L14.7 107.2L17.3 98.7L10.8 95.8ZM14.7 107.2L21.5 110.1L23.9 101.5L17.3 98.7ZM226.7 52.7L231.6 49.4L227.1 41.5L222.4 44.6ZM231.6 49.4L236.2 46.1L231.6 38.3L227.1 41.5ZM201.8 55.6L207.2 53.1L203.4 44.7L198.2 47.1ZM207.2 53.1L212.5 50.4L208.4 42.2L203.4 44.7ZM212.5 50.4L217.5 47.6L213.2 39.5L208.4 42.2ZM231.6 38.3L235.8 34.9L230.7 27.4L226.7 30.6ZM192.8 49.4L198.2 47.1L194.4 38.8L189.3 40.9ZM234.6 24.0L238.2 20.6L232.6 13.5L229.1 16.7ZM189.3 40.9L194.4 38.8L190.4 30.5L185.6 32.5ZM229.1 16.7L232.6 13.5L226.7 6.5L223.4 9.6ZM216.2 15.5L219.9 12.6L214.2 5.4L210.7 8.1ZM219.9 12.6L223.4 9.6L217.5 2.5L214.2 5.4ZM190.8 20.2L195.1 18.0L190.4 10.2L186.3 12.3ZM195.1 18.0L199.3 15.7L194.3 8.0L190.4 10.2ZM199.3 15.7L203.2 13.3L198.0 5.8L194.3 8.0ZM203.2 13.3L207.1 10.8L201.6 3.4L198.0 5.8ZM207.1 10.8L210.7 8.1L205.1 0.9L201.6 3.4Z" fill="#a0d2ff" stroke="#a0d2ff" stroke-width="0.35"/>
<path d="M40.3 90.4C40.5 86.4 42.5 82.2 44.7 79.5C46.8 76.7 50.1 75.1 53.4 74.0C56.7 72.9 60.9 72.4 64.4 72.9C67.8 73.5 71.5 75.1 74.2 77.3C76.9 79.5 79.3 82.8 80.8 86.0C82.2 89.3 83.0 93.3 83.0 97.0C83.0 100.6 82.4 105.0 80.8 107.9C79.1 110.9 76.2 113.0 73.1 114.5C70.0 116.0 65.8 117.1 62.2 116.7C58.5 116.3 54.3 114.5 51.2 112.3C48.1 110.1 45.4 107.2 43.6 103.6C41.7 99.9 40.1 94.4 40.3 90.4Z" fill="none" stroke="#0000ff" stroke-width="2.5" stroke-linecap="round" stroke-linejoin="round"/><path d="M148.6 -0.4C151.0 1.6 158.3 7.4 162.9 11.6C167.4 15.8 171.6 20.7 176.0 24.8C180.4 28.8 185.1 33.1 189.1 35.7C193.1 38.3 196.4 39.0 200.1 40.1C203.7 41.2 207.4 42.1 211.0 42.3C214.7 42.4 217.9 42.0 222.0 41.2C226.0 40.4 232.9 38.1 235.1 37.5" fill="none" stroke="#0000ff" stroke-width="2.5" stroke-linecap="round" stroke-linejoin="round"/><path d="M177.1 -0.4C178.7 1.6 183.5 8.2 186.9 11.6C190.4 15.1 194.2 18.2 197.9 20.4C201.5 22.6 205.2 24.2 208.8 24.8C212.5 25.3 216.8 24.8 219.8 23.7C222.7 22.6 224.9 20.9 226.3 18.2C227.8 15.5 228.3 10.3 228.5 7.2C228.7 4.1 227.6 0.9 227.4 -0.4" fill="none" stroke="#0000ff" stroke-width="2.5" stroke-linecap="round" stroke-linejoin="round"/><path d="M127.8 42.3C128.6 40.3 130.4 40.4 132.2 41.2C134.0 41.9 135.9 44.3 138.8 46.6C141.7 49.0 146.1 52.8 149.7 55.4C153.4 58.0 158.1 60.1 160.7 62.0C163.2 63.8 163.2 63.4 165.0 66.3C166.9 69.3 171.2 76.2 171.6 79.5C172.0 82.8 169.4 84.2 167.2 86.0C165.0 87.9 161.4 89.3 158.5 90.4C155.6 91.5 152.6 93.0 149.7 92.6C146.8 92.2 143.5 90.4 141.0 88.2C138.4 86.0 136.2 83.1 134.4 79.5C132.6 75.8 131.1 70.7 130.0 66.3C128.9 62.0 128.2 57.2 127.8 53.2C127.5 49.2 127.1 44.3 127.8 42.3Z" fill="none" stroke="#ff0000" stroke-width="2.5" stroke-linecap="round" stroke-linejoin="round"/>
<use href="#map"/>
</g>
<rect x="0" y="0" width="234.4" height="144.9" fill="none" stroke="#000" stroke-width="4.3" stroke-linejoin="round"/>
</g>
<g transform="translate(288.73,480.70)">
<text transform="matrix(1 0 0 1.04 -2.3 -4.7)" font-size="18.8">Phase 2, MVP-</text>
<text transform="matrix(1 0 0 1.04 234.7 -3.1)" font-size="18.8" text-anchor="end">24 events</text>
<g clip-path="url(#pc)">
<path d="M5.0 17.3L8.8 20.4L14.2 13.1L10.7 10.1ZM8.8 20.4L12.7 23.5L17.9 16.0L14.2 13.1ZM17.9 16.0L21.8 18.7L27.1 11.2L23.4 8.6ZM21.8 18.7L25.9 21.4L31.0 13.7L27.1 11.2ZM-1.5 89.3L4.6 92.6L7.6 84.3L1.8 81.0ZM4.6 92.6L10.8 95.8L13.7 87.3L7.6 84.3ZM1.8 81.0L7.6 84.3L10.9 75.9L5.2 72.8ZM7.6 84.3L13.7 87.3L16.8 78.8L10.9 75.9ZM13.7 87.3L20.0 90.2L22.9 81.6L16.8 78.8ZM-0.3 69.5L5.2 72.8L8.9 64.5L3.6 61.3ZM5.2 72.8L10.9 75.9L14.4 67.5L8.9 64.5ZM10.9 75.9L16.8 78.8L20.1 70.4L14.4 67.5ZM16.8 78.8L22.9 81.6L26.0 73.0L20.1 70.4ZM22.9 81.6L29.2 84.2L32.1 75.6L26.0 73.0ZM29.2 84.2L35.6 86.6L38.3 77.9L32.1 75.6ZM35.6 86.6L42.2 88.9L44.6 80.1L38.3 77.9ZM-1.5 58.0L3.6 61.3L7.7 53.2L2.8 50.0ZM3.6 61.3L8.9 64.5L12.8 56.3L7.7 53.2ZM8.9 64.5L14.4 67.5L18.1 59.2L12.8 56.3ZM14.4 67.5L20.1 70.4L23.6 61.9L18.1 59.2ZM20.1 70.4L26.0 73.0L29.3 64.5L23.6 61.9ZM26.0 73.0L32.1 75.6L35.1 66.9L29.3 64.5ZM32.1 75.6L38.3 77.9L41.1 69.2L35.1 66.9ZM38.3 77.9L44.6 80.1L47.2 71.3L41.1 69.2ZM-1.9 46.7L2.8 50.0L7.2 42.1L2.7 38.8ZM2.8 50.0L7.7 53.2L11.9 45.1L7.2 42.1ZM7.7 53.2L12.8 56.3L16.8 48.1L11.9 45.1ZM12.8 56.3L18.1 59.2L22.0 50.9L16.8 48.1ZM18.1 59.2L23.6 61.9L27.2 53.5L22.0 50.9ZM23.6 61.9L29.3 64.5L32.7 56.0L27.2 53.5ZM29.3 64.5L35.1 66.9L38.3 58.3L32.7 56.0ZM35.1 66.9L41.1 69.2L44.1 60.5L38.3 58.3ZM-1.6 35.5L2.7 38.8L7.6 31.1L3.5 27.9ZM2.7 38.8L7.2 42.1L11.9 34.2L7.6 31.1ZM7.2 42.1L11.9 45.1L16.4 37.1L11.9 34.2ZM11.9 45.1L16.8 48.1L21.1 39.9L16.4 37.1ZM16.8 48.1L22.0 50.9L26.0 42.6L21.1 39.9ZM22.0 50.9L27.2 53.5L31.1 45.2L26.0 42.6ZM-0.4 24.6L3.5 27.9L8.8 20.4L5.0 17.3ZM3.5 27.9L7.6 31.1L12.7 23.5L8.8 20.4ZM7.6 31.1L11.9 34.2L16.8 26.4L12.7 23.5ZM11.9 34.2L16.4 37.1L21.1 29.2L16.8 26.4ZM16.4 37.1L21.1 39.9L25.6 31.9L21.1 29.2ZM21.1 39.9L26.0 42.6L30.2 34.5L25.6 31.9ZM12.7 23.5L16.8 26.4L21.8 18.7L17.9 16.0ZM16.8 26.4L21.1 29.2L25.9 21.4L21.8 18.7ZM21.1 29.2L25.6 31.9L30.2 24.0L25.9 21.4ZM53.9 101.7L61.1 103.4L62.8 94.4L55.8 92.8ZM61.1 103.4L68.4 104.9L69.8 95.9L62.8 94.4ZM55.8 92.8L62.8 94.4L64.5 85.4L57.8 83.8ZM62.8 94.4L69.8 95.9L71.4 86.8L64.5 85.4Z" fill="#a0d2ff" stroke="#a0d2ff" stroke-width="0.35"/><path d="M14.2 13.1L17.9 16.0L23.4 8.6L19.9 5.8Z" fill="#d2f5ff" stroke="#d2f5ff" stroke-width="0.35"/><path d="M144.8 117.0L152.6 116.1L151.6 107.0L144.1 107.9ZM152.6 116.1L160.2 114.9L159.0 105.9L151.6 107.0ZM160.2 114.9L167.8 113.6L166.4 104.6L159.0 105.9ZM167.8 113.6L175.3 112.0L173.7 103.1L166.4 104.6ZM144.1 107.9L151.6 107.0L150.5 98.0L143.2 98.8ZM151.6 107.0L159.0 105.9L157.8 96.9L150.5 98.0ZM159.0 105.9L166.4 104.6L164.9 95.6L157.8 96.9ZM166.4 104.6L173.7 103.1L172.0 94.1L164.9 95.6ZM135.9 99.5L143.2 98.8L142.4 89.7L135.3 90.3ZM143.2 98.8L150.5 98.0L149.4 88.9L142.4 89.7ZM150.5 98.0L157.8 96.9L156.4 87.8L149.4 88.9ZM157.8 96.9L164.9 95.6L163.3 86.6L156.4 87.8ZM164.9 95.6L172.0 94.1L170.2 85.2L163.3 86.6ZM172.0 94.1L178.9 92.5L176.9 83.5L170.2 85.2ZM178.9 92.5L185.8 90.6L183.5 81.7L176.9 83.5ZM113.8 91.0L121.0 91.0L120.8 81.8L113.9 81.8ZM121.0 91.0L128.1 90.8L127.7 81.6L120.8 81.8ZM128.1 90.8L135.3 90.3L134.6 81.2L127.7 81.6ZM135.3 90.3L142.4 89.7L141.4 80.6L134.6 81.2ZM142.4 89.7L149.4 88.9L148.2 79.8L141.4 80.6ZM149.4 88.9L156.4 87.8L155.0 78.8L148.2 79.8ZM156.4 87.8L163.3 86.6L161.7 77.6L155.0 78.8ZM163.3 86.6L170.2 85.2L168.2 76.2L161.7 77.6ZM170.2 85.2L176.9 83.5L174.7 74.6L168.2 76.2ZM176.9 83.5L183.5 81.7L181.1 72.9L174.7 74.6ZM155.0 78.8L161.7 77.6L159.9 68.6L153.5 69.7ZM161.7 77.6L168.2 76.2L166.2 67.2L159.9 68.6ZM168.2 76.2L174.7 74.6L172.5 65.7L166.2 67.2ZM174.7 74.6L181.1 72.9L178.6 64.0L172.5 65.7ZM153.5 69.7L159.9 68.6L158.1 59.6L151.9 60.7ZM159.9 68.6L166.2 67.2L164.1 58.3L158.1 59.6ZM151.9 60.7L158.1 59.6L156.1 50.6L150.3 51.6Z" fill="#ffe132" stroke="#ffe132" stroke-width="0.35"/><path d="M107.0 81.6L113.9 81.8L114.0 72.6L107.4 72.5ZM113.9 81.8L120.8 81.8L120.7 72.6L114.0 72.6ZM120.8 81.8L127.7 81.6L127.3 72.4L120.7 72.6ZM127.7 81.6L134.6 81.2L133.9 72.0L127.3 72.4ZM134.6 81.2L141.4 80.6L140.5 71.4L133.9 72.0ZM141.4 80.6L148.2 79.8L147.0 70.7L140.5 71.4ZM148.2 79.8L155.0 78.8L153.5 69.7L147.0 70.7ZM100.8 72.1L107.4 72.5L107.8 63.3L101.4 63.0ZM107.4 72.5L114.0 72.6L114.1 63.5L107.8 63.3ZM114.0 72.6L120.7 72.6L120.5 63.5L114.1 63.5ZM120.7 72.6L127.3 72.4L126.8 63.3L120.5 63.5ZM127.3 72.4L133.9 72.0L133.2 62.9L126.8 63.3ZM133.9 72.0L140.5 71.4L139.5 62.3L133.2 62.9ZM140.5 71.4L147.0 70.7L145.7 61.6L139.5 62.3ZM147.0 70.7L153.5 69.7L151.9 60.7L145.7 61.6ZM101.4 63.0L107.8 63.3L108.2 54.2L102.2 53.8ZM107.8 63.3L114.1 63.5L114.3 54.3L108.2 54.2ZM114.1 63.5L120.5 63.5L120.3 54.3L114.3 54.3ZM120.5 63.5L126.8 63.3L126.4 54.1L120.3 54.3ZM126.8 63.3L133.2 62.9L132.4 53.8L126.4 54.1ZM133.2 62.9L139.5 62.3L138.4 53.2L132.4 53.8ZM139.5 62.3L145.7 61.6L144.4 52.5L138.4 53.2ZM145.7 61.6L151.9 60.7L150.3 51.6L144.4 52.5ZM90.2 52.7L96.1 53.3L97.2 44.3L91.5 43.7ZM96.1 53.3L102.2 53.8L102.9 44.8L97.2 44.3ZM102.2 53.8L108.2 54.2L108.6 45.1L102.9 44.8ZM108.2 54.2L114.3 54.3L114.4 45.3L108.6 45.1ZM114.3 54.3L120.3 54.3L120.1 45.2L114.4 45.3ZM120.3 54.3L126.4 54.1L125.9 45.1L120.1 45.2ZM126.4 54.1L132.4 53.8L131.6 44.7L125.9 45.1ZM132.4 53.8L138.4 53.2L137.3 44.2L131.6 44.7ZM138.4 53.2L144.4 52.5L143.0 43.5L137.3 44.2ZM144.4 52.5L150.3 51.6L148.6 42.7L143.0 43.5ZM80.3 41.9L85.9 42.9L87.6 34.0L82.4 33.1ZM91.5 43.7L97.2 44.3L98.3 35.3L92.9 34.7ZM97.2 44.3L102.9 44.8L103.7 35.8L98.3 35.3ZM102.9 44.8L108.6 45.1L109.1 36.1L103.7 35.8ZM108.6 45.1L114.4 45.3L114.5 36.2L109.1 36.1ZM114.4 45.3L120.1 45.2L119.9 36.2L114.5 36.2ZM120.1 45.2L125.9 45.1L125.4 36.1L119.9 36.2ZM125.9 45.1L131.6 44.7L130.8 35.7L125.4 36.1ZM131.6 44.7L137.3 44.2L136.2 35.3L130.8 35.7ZM137.3 44.2L143.0 43.5L141.5 34.6L136.2 35.3ZM72.0 30.8L77.2 32.0L79.6 23.3L74.8 22.2ZM77.2 32.0L82.4 33.1L84.4 24.3L79.6 23.3ZM82.4 33.1L87.6 34.0L89.4 25.2L84.4 24.3ZM98.3 35.3L103.7 35.8L104.5 26.9L99.4 26.5ZM103.7 35.8L109.1 36.1L109.5 27.2L104.5 26.9ZM109.1 36.1L114.5 36.2L114.6 27.3L109.5 27.2ZM114.5 36.2L119.9 36.2L119.8 27.3L114.6 27.3ZM119.9 36.2L125.4 36.1L124.9 27.1L119.8 27.3ZM125.4 36.1L130.8 35.7L129.9 26.8L124.9 27.1ZM130.8 35.7L136.2 35.3L135.0 26.4L129.9 26.8ZM70.0 20.9L74.8 22.2L77.5 13.7L73.1 12.5ZM74.8 22.2L79.6 23.3L82.0 14.8L77.5 13.7ZM79.6 23.3L84.4 24.3L86.6 15.7L82.0 14.8ZM84.4 24.3L89.4 25.2L91.2 16.5L86.6 15.7ZM89.4 25.2L94.4 25.9L95.8 17.2L91.2 16.5ZM94.4 25.9L99.4 26.5L100.5 17.7L95.8 17.2ZM99.4 26.5L104.5 26.9L105.3 18.1L100.5 17.7ZM104.5 26.9L109.5 27.2L110.0 18.4L105.3 18.1ZM109.5 27.2L114.6 27.3L114.8 18.5L110.0 18.4Z" fill="#ffaa00" stroke="#ffaa00" stroke-width="0.35"/><path d="M85.9 42.9L91.5 43.7L92.9 34.7L87.6 34.0ZM87.6 34.0L92.9 34.7L94.4 25.9L89.4 25.2ZM92.9 34.7L98.3 35.3L99.4 26.5L94.4 25.9Z" fill="#ff6e00" stroke="#ff6e00" stroke-width="0.35"/>
<path d="M99.1 57.6C99.1 53.2 101.0 47.7 103.5 44.5C106.1 41.2 110.5 39.7 114.5 37.9C118.5 36.1 123.2 33.9 127.6 33.5C132.0 33.1 136.4 34.2 140.7 35.7C145.1 37.2 149.1 40.1 153.9 42.3C158.6 44.5 164.4 46.6 169.2 48.8C173.9 51.0 178.7 52.8 182.3 55.4C186.0 58.0 189.6 61.2 191.1 64.2C192.5 67.1 192.2 70.0 191.1 72.9C190.0 75.8 187.8 79.1 184.5 81.7C181.2 84.2 175.8 86.4 171.4 88.2C167.0 90.1 162.6 91.5 158.2 92.6C153.9 93.7 149.5 94.8 145.1 94.8C140.7 94.8 136.4 93.7 132.0 92.6C127.6 91.5 122.5 90.4 118.8 88.2C115.2 86.0 112.6 82.4 110.1 79.5C107.5 76.6 105.3 74.4 103.5 70.7C101.7 67.1 99.1 62.0 99.1 57.6Z" fill="none" stroke="#ff0000" stroke-width="2.5" stroke-linecap="round" stroke-linejoin="round"/><path d="M20.3 -0.4C20.7 2.0 22.0 9.3 22.5 13.8C23.1 18.4 23.8 22.6 23.6 26.9C23.4 31.3 21.8 35.7 21.4 40.1C21.1 44.5 20.9 49.6 21.4 53.2C22.0 56.9 23.1 60.9 24.7 62.0C26.4 63.1 29.7 61.6 31.3 59.8C32.9 58.0 34.2 54.7 34.6 51.0C34.9 47.4 33.1 42.6 33.5 37.9C33.8 33.1 35.3 27.3 36.8 22.6C38.2 17.8 40.0 13.3 42.2 9.4C44.4 5.6 48.6 1.2 49.9 -0.4" fill="none" stroke="#0000ff" stroke-width="2.5" stroke-linecap="round" stroke-linejoin="round"/><path d="M148.4 -0.4C150.8 0.9 157.7 5.2 162.6 7.2C167.5 9.3 172.8 10.2 177.9 11.6C183.1 13.1 187.8 14.2 193.3 16.0C198.7 17.8 205.7 20.4 210.8 22.6C215.9 24.8 219.9 26.9 223.9 29.1C227.9 31.3 233.0 34.6 234.9 35.7" fill="none" stroke="#0000ff" stroke-width="2.5" stroke-linecap="round" stroke-linejoin="round"/><path d="M203.1 -0.4C204.4 0.3 208.0 3.2 210.8 4.0C213.5 4.7 216.8 4.7 219.5 4.0C222.3 3.2 225.9 0.3 227.2 -0.4" fill="none" stroke="#0000ff" stroke-width="2.5" stroke-linecap="round" stroke-linejoin="round"/>
<use href="#map"/>
</g>
<rect x="0" y="0" width="234.4" height="144.9" fill="none" stroke="#000" stroke-width="4.3" stroke-linejoin="round"/>
</g>
<g transform="translate(569.96,480.70)">
<text transform="matrix(1 0 0 1.04 -2.3 -4.7)" font-size="18.8">Phase 3, MVP-</text>
<text transform="matrix(1 0 0 1.04 234.7 -3.1)" font-size="18.8" text-anchor="end">35 events</text>
<g clip-path="url(#pc)">
<path d="M225.4 19.9L229.1 16.7L223.4 9.6L219.9 12.6ZM229.1 16.7L232.6 13.5L226.7 6.5L223.4 9.6ZM232.6 13.5L235.8 10.1L229.8 3.3L226.7 6.5ZM235.8 10.1L238.8 6.6L232.6 -0.0L229.8 3.3ZM204.1 23.5L208.3 21.0L203.2 13.3L199.3 15.7ZM208.3 21.0L212.4 18.3L207.1 10.8L203.2 13.3ZM212.4 18.3L216.2 15.5L210.7 8.1L207.1 10.8ZM216.2 15.5L219.9 12.6L214.2 5.4L210.7 8.1ZM219.9 12.6L223.4 9.6L217.5 2.5L214.2 5.4ZM223.4 9.6L226.7 6.5L220.6 -0.4L217.5 2.5ZM226.7 6.5L229.8 3.3L223.5 -3.4L220.6 -0.4ZM195.1 18.0L199.3 15.7L194.3 8.0L190.4 10.2ZM199.3 15.7L203.2 13.3L198.0 5.8L194.3 8.0ZM203.2 13.3L207.1 10.8L201.6 3.4L198.0 5.8ZM207.1 10.8L210.7 8.1L205.1 0.9L201.6 3.4ZM210.7 8.1L214.2 5.4L208.3 -1.7L205.1 0.9ZM182.2 14.2L186.3 12.3L181.7 4.4L177.8 6.3ZM186.3 12.3L190.4 10.2L185.5 2.5L181.7 4.4ZM190.4 10.2L194.3 8.0L189.1 0.5L185.5 2.5ZM194.3 8.0L198.0 5.8L192.6 -1.6L189.1 0.5ZM198.0 5.8L201.6 3.4L196.0 -3.8L192.6 -1.6Z" fill="#a0d2ff" stroke="#a0d2ff" stroke-width="0.35"/><path d="M88.1 143.8L96.5 144.5L96.9 135.7L88.7 135.0ZM88.7 135.0L96.9 135.7L97.3 126.8L89.3 126.1Z" fill="#d2f5ff" stroke="#d2f5ff" stroke-width="0.35"/><path d="M170.3 131.3L178.2 129.6L176.8 120.9L169.1 122.5ZM178.2 129.6L185.9 127.8L184.4 119.0L176.8 120.9ZM185.9 127.8L193.5 125.7L191.8 117.0L184.4 119.0ZM193.5 125.7L201.0 123.4L199.1 114.7L191.8 117.0ZM191.8 117.0L199.1 114.7L197.0 106.0L189.9 108.2ZM189.9 108.2L197.0 106.0L194.8 97.3L187.9 99.4ZM197.0 106.0L204.0 103.6L201.6 94.9L194.8 97.3ZM204.0 103.6L210.8 101.0L208.2 92.4L201.6 94.9ZM210.8 101.0L217.4 98.2L214.6 89.7L208.2 92.4ZM217.4 98.2L223.8 95.3L220.9 86.8L214.6 89.7Z" fill="#ffffc8" stroke="#ffffc8" stroke-width="0.35"/><path d="M169.1 122.5L176.8 120.9L175.3 112.0L167.8 113.6ZM176.8 120.9L184.4 119.0L182.7 110.2L175.3 112.0ZM184.4 119.0L191.8 117.0L189.9 108.2L182.7 110.2ZM167.8 113.6L175.3 112.0L173.7 103.1L166.4 104.6ZM175.3 112.0L182.7 110.2L180.9 101.4L173.7 103.1ZM182.7 110.2L189.9 108.2L187.9 99.4L180.9 101.4ZM166.4 104.6L173.7 103.1L172.0 94.1L164.9 95.6ZM173.7 103.1L180.9 101.4L178.9 92.5L172.0 94.1ZM180.9 101.4L187.9 99.4L185.8 90.6L178.9 92.5ZM187.9 99.4L194.8 97.3L192.5 88.5L185.8 90.6ZM194.8 97.3L201.6 94.9L199.0 86.2L192.5 88.5ZM172.0 94.1L178.9 92.5L176.9 83.5L170.2 85.2ZM178.9 92.5L185.8 90.6L183.5 81.7L176.9 83.5ZM185.8 90.6L192.5 88.5L190.0 79.7L183.5 81.7ZM192.5 88.5L199.0 86.2L196.3 77.5L190.0 79.7ZM199.0 86.2L205.4 83.8L202.5 75.2L196.3 77.5ZM170.2 85.2L176.9 83.5L174.7 74.6L168.2 76.2ZM176.9 83.5L183.5 81.7L181.1 72.9L174.7 74.6ZM183.5 81.7L190.0 79.7L187.4 70.9L181.1 72.9ZM190.0 79.7L196.3 77.5L193.5 68.8L187.4 70.9ZM196.3 77.5L202.5 75.2L199.4 66.5L193.5 68.8ZM174.7 74.6L181.1 72.9L178.6 64.0L172.5 65.7ZM181.1 72.9L187.4 70.9L184.6 62.2L178.6 64.0ZM187.4 70.9L193.5 68.8L190.5 60.1L184.6 62.2ZM193.5 68.8L199.4 66.5L196.2 57.9L190.5 60.1ZM199.4 66.5L205.3 64.1L201.8 55.6L196.2 57.9ZM205.3 64.1L210.9 61.5L207.2 53.1L201.8 55.6ZM178.6 64.0L184.6 62.2L181.7 53.4L175.9 55.2ZM184.6 62.2L190.5 60.1L187.3 51.5L181.7 53.4ZM190.5 60.1L196.2 57.9L192.8 49.4L187.3 51.5ZM196.2 57.9L201.8 55.6L198.2 47.1L192.8 49.4ZM175.9 55.2L181.7 53.4L178.7 44.8L173.2 46.5ZM181.7 53.4L187.3 51.5L184.0 42.9L178.7 44.8ZM150.3 51.6L156.1 50.6L154.1 41.7L148.6 42.7ZM156.1 50.6L161.9 49.4L159.6 40.6L154.1 41.7ZM161.9 49.4L167.6 48.0L165.0 39.3L159.6 40.6Z" fill="#ffe132" stroke="#ffe132" stroke-width="0.35"/>
<path d="M167.9 -0.4C171.0 0.5 180.5 3.6 186.5 5.1C192.5 6.5 198.5 7.1 204.0 8.3C209.5 9.6 214.2 11.4 219.3 12.7C224.4 14.1 232.1 15.8 234.6 16.4" fill="none" stroke="#0000ff" stroke-width="2.5" stroke-linecap="round" stroke-linejoin="round"/><path d="M131.8 46.6C131.4 43.4 133.2 40.3 136.1 37.9C139.0 35.5 143.4 33.5 149.3 32.4C155.1 31.3 163.9 31.1 171.2 31.3C178.4 31.5 186.5 32.1 193.0 33.5C199.6 35.0 205.4 37.5 210.6 40.1C215.7 42.6 220.0 45.9 223.7 48.8C227.3 51.8 230.8 53.2 232.4 57.6C234.1 62.0 234.6 70.4 233.5 75.1C232.4 79.8 229.3 82.8 225.9 86.0C222.4 89.3 217.5 92.6 212.7 94.8C208.0 97.0 202.2 98.8 197.4 99.2C192.7 99.5 188.7 98.4 184.3 97.0C179.9 95.5 174.8 92.6 171.2 90.4C167.5 88.2 164.9 86.0 162.4 83.9C159.8 81.7 158.0 79.8 155.8 77.3C153.6 74.7 152.2 71.8 149.3 68.5C146.3 65.2 141.2 61.2 138.3 57.6C135.4 53.9 132.1 49.9 131.8 46.6Z" fill="none" stroke="#ff0000" stroke-width="2.5" stroke-linecap="round" stroke-linejoin="round"/>
<use href="#map"/>
</g>
<rect x="0" y="0" width="234.4" height="144.9" fill="none" stroke="#000" stroke-width="4.3" stroke-linejoin="round"/>
</g>
<g transform="translate(851.19,480.70)">
<text transform="matrix(1 0 0 1.04 -2.3 -4.7)" font-size="18.8">Phase 4, MVP-</text>
<text transform="matrix(1 0 0 1.04 234.7 -3.1)" font-size="18.8" text-anchor="end">34 events</text>
<g clip-path="url(#pc)">
<path d="M191.8 117.0L199.1 114.7L197.0 106.0L189.9 108.2ZM199.1 114.7L206.2 112.3L204.0 103.6L197.0 106.0ZM206.2 112.3L213.2 109.6L210.8 101.0L204.0 103.6ZM189.9 108.2L197.0 106.0L194.8 97.3L187.9 99.4ZM197.0 106.0L204.0 103.6L201.6 94.9L194.8 97.3ZM204.0 103.6L210.8 101.0L208.2 92.4L201.6 94.9ZM210.8 101.0L217.4 98.2L214.6 89.7L208.2 92.4ZM217.4 98.2L223.8 95.3L220.9 86.8L214.6 89.7ZM223.8 95.3L230.0 92.1L226.9 83.7L220.9 86.8ZM230.0 92.1L236.0 88.8L232.8 80.5L226.9 83.7ZM214.6 89.7L220.9 86.8L217.7 78.3L211.7 81.1ZM220.9 86.8L226.9 83.7L223.6 75.4L217.7 78.3ZM226.9 83.7L232.8 80.5L229.3 72.2L223.6 75.4ZM232.8 80.5L238.4 77.1L234.7 68.9L229.3 72.2ZM192.5 88.5L199.0 86.2L196.3 77.5L190.0 79.7ZM211.7 81.1L217.7 78.3L214.4 69.9L208.6 72.6ZM217.7 78.3L223.6 75.4L220.1 67.0L214.4 69.9ZM223.6 75.4L229.3 72.2L225.6 64.0L220.1 67.0ZM208.6 72.6L214.4 69.9L210.9 61.5L205.3 64.1ZM-0.6 137.4L6.5 140.7L8.3 132.4L1.2 129.2ZM6.5 140.7L13.9 143.7L15.5 135.4L8.3 132.4ZM13.9 143.7L21.5 146.6L23.0 138.2L15.5 135.4ZM8.3 132.4L15.5 135.4L17.3 127.1L10.2 124.1ZM15.5 135.4L23.0 138.2L24.6 129.8L17.3 127.1ZM23.0 138.2L30.6 140.8L32.1 132.3L24.6 129.8ZM30.6 140.8L38.4 143.2L39.8 134.7L32.1 132.3ZM38.4 143.2L46.3 145.3L47.5 136.8L39.8 134.7ZM46.3 145.3L54.3 147.2L55.5 138.6L47.5 136.8ZM39.8 134.7L47.5 136.8L48.9 128.1L41.3 126.1ZM47.5 136.8L55.5 138.6L56.7 129.9L48.9 128.1ZM55.5 138.6L63.5 140.3L64.6 131.6L56.7 129.9ZM63.5 140.3L71.6 141.7L72.5 132.9L64.6 131.6ZM71.6 141.7L79.8 142.9L80.6 134.1L72.5 132.9Z" fill="#ffffc8" stroke="#ffffc8" stroke-width="0.35"/><path d="M194.8 97.3L201.6 94.9L199.0 86.2L192.5 88.5ZM201.6 94.9L208.2 92.4L205.4 83.8L199.0 86.2ZM208.2 92.4L214.6 89.7L211.7 81.1L205.4 83.8ZM199.0 86.2L205.4 83.8L202.5 75.2L196.3 77.5ZM205.4 83.8L211.7 81.1L208.6 72.6L202.5 75.2ZM196.3 77.5L202.5 75.2L199.4 66.5L193.5 68.8ZM202.5 75.2L208.6 72.6L205.3 64.1L199.4 66.5Z" fill="#ffe132" stroke="#ffe132" stroke-width="0.35"/>
<path d="M181.8 62.0C181.6 59.0 181.6 54.7 182.9 51.0C184.1 47.4 186.5 43.4 189.4 40.1C192.3 36.8 196.4 33.5 200.4 31.3C204.4 29.1 209.1 27.7 213.5 26.9C217.9 26.2 222.6 26.6 226.6 26.9C230.7 27.3 235.0 25.1 237.6 29.1C240.1 33.1 242.0 44.5 242.0 51.0C242.0 57.6 240.5 64.3 237.6 68.5C234.7 72.7 228.5 74.4 224.5 76.2C220.4 78.0 217.2 79.1 213.5 79.5C209.9 79.8 206.2 79.3 202.6 78.4C198.9 77.5 194.7 75.6 191.6 74.0C188.5 72.4 185.6 70.5 184.0 68.5C182.3 66.5 182.0 64.9 181.8 62.0Z" fill="none" stroke="#ff0000" stroke-width="2.5" stroke-linecap="round" stroke-linejoin="round"/>
<use href="#map"/>
</g>
<rect x="0" y="0" width="234.4" height="144.9" fill="none" stroke="#000" stroke-width="4.3" stroke-linejoin="round"/>
</g>
<g transform="translate(1132.42,480.70)">
<text transform="matrix(1 0 0 1.04 -2.3 -4.7)" font-size="18.8">Phase 5, MVP-</text>
<text transform="matrix(1 0 0 1.04 234.7 -3.1)" font-size="18.8" text-anchor="end">21 events</text>
<g clip-path="url(#pc)">
<path d="M225.6 64.0L230.8 60.8L226.7 52.7L221.6 55.7ZM230.8 60.8L235.9 57.4L231.6 49.4L226.7 52.7Z" fill="#ffffc8" stroke="#ffffc8" stroke-width="0.35"/><path d="M183.5 81.7L190.0 79.7L187.4 70.9L181.1 72.9ZM190.0 79.7L196.3 77.5L193.5 68.8L187.4 70.9ZM196.3 77.5L202.5 75.2L199.4 66.5L193.5 68.8ZM202.5 75.2L208.6 72.6L205.3 64.1L199.4 66.5ZM208.6 72.6L214.4 69.9L210.9 61.5L205.3 64.1ZM214.4 69.9L220.1 67.0L216.4 58.7L210.9 61.5ZM220.1 67.0L225.6 64.0L221.6 55.7L216.4 58.7ZM134.6 81.2L141.4 80.6L140.5 71.4L133.9 72.0ZM141.4 80.6L148.2 79.8L147.0 70.7L140.5 71.4ZM148.2 79.8L155.0 78.8L153.5 69.7L147.0 70.7ZM155.0 78.8L161.7 77.6L159.9 68.6L153.5 69.7ZM161.7 77.6L168.2 76.2L166.2 67.2L159.9 68.6ZM168.2 76.2L174.7 74.6L172.5 65.7L166.2 67.2ZM174.7 74.6L181.1 72.9L178.6 64.0L172.5 65.7ZM181.1 72.9L187.4 70.9L184.6 62.2L178.6 64.0ZM187.4 70.9L193.5 68.8L190.5 60.1L184.6 62.2ZM193.5 68.8L199.4 66.5L196.2 57.9L190.5 60.1ZM199.4 66.5L205.3 64.1L201.8 55.6L196.2 57.9ZM205.3 64.1L210.9 61.5L207.2 53.1L201.8 55.6ZM210.9 61.5L216.4 58.7L212.5 50.4L207.2 53.1ZM216.4 58.7L221.6 55.7L217.5 47.6L212.5 50.4ZM221.6 55.7L226.7 52.7L222.4 44.6L217.5 47.6ZM226.7 52.7L231.6 49.4L227.1 41.5L222.4 44.6ZM231.6 49.4L236.2 46.1L231.6 38.3L227.1 41.5ZM127.3 72.4L133.9 72.0L133.2 62.9L126.8 63.3ZM133.9 72.0L140.5 71.4L139.5 62.3L133.2 62.9ZM140.5 71.4L147.0 70.7L145.7 61.6L139.5 62.3ZM172.5 65.7L178.6 64.0L175.9 55.2L170.1 56.8ZM178.6 64.0L184.6 62.2L181.7 53.4L175.9 55.2ZM184.6 62.2L190.5 60.1L187.3 51.5L181.7 53.4ZM190.5 60.1L196.2 57.9L192.8 49.4L187.3 51.5ZM196.2 57.9L201.8 55.6L198.2 47.1L192.8 49.4ZM201.8 55.6L207.2 53.1L203.4 44.7L198.2 47.1ZM207.2 53.1L212.5 50.4L208.4 42.2L203.4 44.7ZM212.5 50.4L217.5 47.6L213.2 39.5L208.4 42.2ZM217.5 47.6L222.4 44.6L217.9 36.6L213.2 39.5ZM222.4 44.6L227.1 41.5L222.4 33.7L217.9 36.6ZM227.1 41.5L231.6 38.3L226.7 30.6L222.4 33.7ZM175.9 55.2L181.7 53.4L178.7 44.8L173.2 46.5ZM181.7 53.4L187.3 51.5L184.0 42.9L178.7 44.8ZM187.3 51.5L192.8 49.4L189.3 40.9L184.0 42.9ZM192.8 49.4L198.2 47.1L194.4 38.8L189.3 40.9ZM198.2 47.1L203.4 44.7L199.3 36.5L194.4 38.8ZM203.4 44.7L208.4 42.2L204.1 34.0L199.3 36.5ZM208.4 42.2L213.2 39.5L208.7 31.5L204.1 34.0ZM213.2 39.5L217.9 36.6L213.2 28.8L208.7 31.5ZM173.2 46.5L178.7 44.8L175.5 36.2L170.3 37.8ZM178.7 44.8L184.0 42.9L180.6 34.4L175.5 36.2ZM184.0 42.9L189.3 40.9L185.6 32.5L180.6 34.4ZM189.3 40.9L194.4 38.8L190.4 30.5L185.6 32.5ZM82.3 116.2L90.0 117.1L90.8 108.1L83.2 107.2ZM83.2 107.2L90.8 108.1L91.5 99.0L84.2 98.1ZM90.8 108.1L98.3 108.7L98.9 99.6L91.5 99.0ZM84.2 98.1L91.5 99.0L92.4 89.8L85.3 89.0Z" fill="#ffe132" stroke="#ffe132" stroke-width="0.35"/><path d="M147.0 70.7L153.5 69.7L151.9 60.7L145.7 61.6ZM153.5 69.7L159.9 68.6L158.1 59.6L151.9 60.7ZM159.9 68.6L166.2 67.2L164.1 58.3L158.1 59.6ZM166.2 67.2L172.5 65.7L170.1 56.8L164.1 58.3ZM126.8 63.3L133.2 62.9L132.4 53.8L126.4 54.1ZM133.2 62.9L139.5 62.3L138.4 53.2L132.4 53.8ZM139.5 62.3L145.7 61.6L144.4 52.5L138.4 53.2ZM145.7 61.6L151.9 60.7L150.3 51.6L144.4 52.5ZM151.9 60.7L158.1 59.6L156.1 50.6L150.3 51.6ZM158.1 59.6L164.1 58.3L161.9 49.4L156.1 50.6ZM164.1 58.3L170.1 56.8L167.6 48.0L161.9 49.4ZM170.1 56.8L175.9 55.2L173.2 46.5L167.6 48.0ZM114.3 54.3L120.3 54.3L120.1 45.2L114.4 45.3ZM120.3 54.3L126.4 54.1L125.9 45.1L120.1 45.2ZM126.4 54.1L132.4 53.8L131.6 44.7L125.9 45.1ZM150.3 51.6L156.1 50.6L154.1 41.7L148.6 42.7ZM156.1 50.6L161.9 49.4L159.6 40.6L154.1 41.7ZM161.9 49.4L167.6 48.0L165.0 39.3L159.6 40.6ZM167.6 48.0L173.2 46.5L170.3 37.8L165.0 39.3ZM114.4 45.3L120.1 45.2L119.9 36.2L114.5 36.2ZM120.1 45.2L125.9 45.1L125.4 36.1L119.9 36.2ZM154.1 41.7L159.6 40.6L157.2 31.8L152.1 32.9ZM159.6 40.6L165.0 39.3L162.3 30.6L157.2 31.8ZM165.0 39.3L170.3 37.8L167.4 29.2L162.3 30.6ZM170.3 37.8L175.5 36.2L172.3 27.7L167.4 29.2ZM114.5 36.2L119.9 36.2L119.8 27.3L114.6 27.3ZM119.9 36.2L125.4 36.1L124.9 27.1L119.8 27.3ZM125.4 36.1L130.8 35.7L129.9 26.8L124.9 27.1ZM146.8 33.8L152.1 32.9L149.9 24.2L145.0 25.1ZM152.1 32.9L157.2 31.8L154.8 23.2L149.9 24.2ZM157.2 31.8L162.3 30.6L159.6 22.0L154.8 23.2ZM114.6 27.3L119.8 27.3L119.6 18.5L114.8 18.5ZM119.8 27.3L124.9 27.1L124.3 18.3L119.6 18.5ZM124.9 27.1L129.9 26.8L129.1 18.1L124.3 18.3ZM129.9 26.8L135.0 26.4L133.8 17.6L129.1 18.1ZM135.0 26.4L140.0 25.8L138.5 17.1L133.8 17.6ZM140.0 25.8L145.0 25.1L143.1 16.4L138.5 17.1ZM145.0 25.1L149.9 24.2L147.7 15.6L143.1 16.4ZM119.6 18.5L124.3 18.3L123.8 9.7L119.4 9.8ZM124.3 18.3L129.1 18.1L128.2 9.4L123.8 9.7ZM129.1 18.1L133.8 17.6L132.6 9.0L128.2 9.4Z" fill="#ffaa00" stroke="#ffaa00" stroke-width="0.35"/><path d="M132.4 53.8L138.4 53.2L137.3 44.2L131.6 44.7ZM138.4 53.2L144.4 52.5L143.0 43.5L137.3 44.2ZM144.4 52.5L150.3 51.6L148.6 42.7L143.0 43.5ZM125.9 45.1L131.6 44.7L130.8 35.7L125.4 36.1ZM131.6 44.7L137.3 44.2L136.2 35.3L130.8 35.7ZM137.3 44.2L143.0 43.5L141.5 34.6L136.2 35.3ZM143.0 43.5L148.6 42.7L146.8 33.8L141.5 34.6ZM148.6 42.7L154.1 41.7L152.1 32.9L146.8 33.8ZM130.8 35.7L136.2 35.3L135.0 26.4L129.9 26.8ZM136.2 35.3L141.5 34.6L140.0 25.8L135.0 26.4ZM141.5 34.6L146.8 33.8L145.0 25.1L140.0 25.8Z" fill="#ff6e00" stroke="#ff6e00" stroke-width="0.35"/>
<path d="M86.8 -0.4C86.3 2.0 84.4 8.9 84.1 13.8C83.9 18.7 84.1 24.4 85.2 29.1C86.3 33.9 88.0 38.3 90.7 42.3C93.4 46.3 98.7 49.9 101.6 53.2C104.6 56.5 106.8 58.7 108.2 62.0C109.7 65.2 109.3 69.3 110.4 72.9C111.5 76.6 113.0 80.6 114.8 83.9C116.6 87.1 118.4 90.6 121.3 92.6C124.3 94.6 128.3 95.9 132.3 95.9C136.3 95.9 141.4 93.9 145.4 92.6C149.4 91.3 152.4 90.4 156.4 88.2C160.4 86.0 165.1 82.0 169.5 79.5C173.9 76.9 178.3 74.7 182.6 72.9C187.0 71.1 191.4 70.0 195.8 68.5C200.1 67.1 204.5 65.4 208.9 64.2C213.3 62.9 217.7 61.9 222.0 60.9C226.4 59.9 233.0 58.7 235.2 58.2" fill="none" stroke="#ff0000" stroke-width="2.5" stroke-linecap="round" stroke-linejoin="round"/><path d="M115.2 -0.4C115.0 2.3 113.4 10.7 113.7 16.0C114.0 21.3 115.3 26.6 117.0 31.3C118.6 36.1 121.0 40.8 123.5 44.5C126.1 48.1 128.6 50.8 132.3 53.2C135.9 55.6 141.0 57.6 145.4 58.7C149.8 59.8 154.5 60.3 158.6 59.8C162.6 59.2 166.9 58.0 169.5 55.4C172.1 52.8 173.5 48.1 173.9 44.5C174.2 40.8 173.1 37.2 171.7 33.5C170.2 29.9 168.0 25.8 165.1 22.6C162.2 19.3 157.5 16.4 154.2 13.8C150.9 11.3 147.7 9.6 145.4 7.2C143.2 4.9 141.4 0.9 140.6 -0.4" fill="none" stroke="#ff0000" stroke-width="2.5" stroke-linecap="round" stroke-linejoin="round"/><path d="M176.1 -0.4C177.9 0.9 183.4 5.4 187.0 7.2C190.7 9.1 194.3 10.2 198.0 10.5C201.6 10.9 205.3 10.2 208.9 9.4C212.5 8.7 215.5 7.3 219.8 6.1C224.2 5.0 232.6 3.0 235.2 2.4" fill="none" stroke="#ff0000" stroke-width="2.5" stroke-linecap="round" stroke-linejoin="round"/>
<use href="#map"/>
</g>
<rect x="0" y="0" width="234.4" height="144.9" fill="none" stroke="#000" stroke-width="4.3" stroke-linejoin="round"/>
</g>
<g transform="translate(1413.65,480.70)">
<text transform="matrix(1 0 0 1.04 -2.3 -4.7)" font-size="18.8">Phase 6, MVP-</text>
<text transform="matrix(1 0 0 1.04 234.7 -3.1)" font-size="18.8" text-anchor="end">13 events</text>
<g clip-path="url(#pc)">
<path d="M1.8 138.6L9.5 139.7L9.5 143.0L1.8 143.0Z" fill="#d2f5ff"/><path d="M230.0 92.1L236.0 88.8L232.8 80.5L226.9 83.7Z" fill="#a0d2ff" stroke="#a0d2ff" stroke-width="0.35"/><path d="M196.5 142.8L204.3 140.4L202.7 131.9L195.1 134.3Z" fill="#d2f5ff" stroke="#d2f5ff" stroke-width="0.35"/><path d="M212.4 18.3L216.2 15.5L210.7 8.1L207.1 10.8ZM216.2 15.5L219.9 12.6L214.2 5.4L210.7 8.1ZM219.9 12.6L223.4 9.6L217.5 2.5L214.2 5.4ZM137.0 117.7L144.8 117.0L144.1 107.9L136.5 108.6ZM144.8 117.0L152.6 116.1L151.6 107.0L144.1 107.9ZM152.6 116.1L160.2 114.9L159.0 105.9L151.6 107.0Z" fill="#ffe132" stroke="#ffe132" stroke-width="0.35"/><path d="M194.4 38.8L199.3 36.5L195.1 28.3L190.4 30.5ZM199.3 36.5L204.1 34.0L199.7 26.0L195.1 28.3ZM204.1 34.0L208.7 31.5L204.1 23.5L199.7 26.0ZM185.6 32.5L190.4 30.5L186.4 22.3L181.8 24.2ZM190.4 30.5L195.1 28.3L190.8 20.2L186.4 22.3ZM195.1 28.3L199.7 26.0L195.1 18.0L190.8 20.2ZM199.7 26.0L204.1 23.5L199.3 15.7L195.1 18.0ZM204.1 23.5L208.3 21.0L203.2 13.3L199.3 15.7ZM208.3 21.0L212.4 18.3L207.1 10.8L203.2 13.3ZM203.2 13.3L207.1 10.8L201.6 3.4L198.0 5.8ZM207.1 10.8L210.7 8.1L205.1 0.9L201.6 3.4ZM210.7 8.1L214.2 5.4L208.3 -1.7L205.1 0.9ZM133.9 72.0L140.5 71.4L139.5 62.3L133.2 62.9Z" fill="#ffaa00" stroke="#ffaa00" stroke-width="0.35"/><path d="M198.0 5.8L201.6 3.4L196.0 -3.8L192.6 -1.6ZM172.3 27.7L177.1 26.0L173.4 17.7L168.9 19.3ZM177.1 26.0L181.8 24.2L177.9 16.0L173.4 17.7ZM181.8 24.2L186.4 22.3L182.2 14.2L177.9 16.0ZM186.4 22.3L190.8 20.2L186.3 12.3L182.2 14.2ZM190.8 20.2L195.1 18.0L190.4 10.2L186.3 12.3ZM195.1 18.0L199.3 15.7L194.3 8.0L190.4 10.2ZM199.3 15.7L203.2 13.3L198.0 5.8L194.3 8.0ZM154.8 23.2L159.6 22.0L156.8 13.5L152.3 14.6ZM159.6 22.0L164.3 20.7L161.2 12.3L156.8 13.5ZM164.3 20.7L168.9 19.3L165.5 11.0L161.2 12.3ZM168.9 19.3L173.4 17.7L169.7 9.5L165.5 11.0ZM173.4 17.7L177.9 16.0L173.8 7.9L169.7 9.5ZM177.9 16.0L182.2 14.2L177.8 6.3L173.8 7.9ZM182.2 14.2L186.3 12.3L181.7 4.4L177.8 6.3ZM186.3 12.3L190.4 10.2L185.5 2.5L181.7 4.4ZM190.4 10.2L194.3 8.0L189.1 0.5L185.5 2.5ZM194.3 8.0L198.0 5.8L192.6 -1.6L189.1 0.5ZM156.8 13.5L161.2 12.3L157.9 4.1L153.8 5.2ZM161.2 12.3L165.5 11.0L161.9 2.8L157.9 4.1ZM165.5 11.0L169.7 9.5L165.8 1.5L161.9 2.8ZM169.7 9.5L173.8 7.9L169.7 0.0L165.8 1.5ZM173.8 7.9L177.8 6.3L173.4 -1.5L169.7 0.0ZM177.8 6.3L181.7 4.4L177.0 -3.2L173.4 -1.5Z" fill="#ff6e00" stroke="#ff6e00" stroke-width="0.35"/>
<path d="M132.5 -0.4C133.2 2.0 136.0 8.9 136.4 13.8C136.9 18.7 136.8 25.3 135.3 29.1C133.9 33.0 130.1 34.2 127.7 36.8C125.3 39.3 122.8 41.0 121.1 44.5C119.5 47.9 118.4 53.2 117.8 57.6C117.3 62.0 117.7 66.3 117.8 70.7C118.0 75.1 118.0 80.2 118.9 83.9C119.8 87.5 121.5 89.7 123.3 92.6C125.1 95.5 127.0 99.2 129.9 101.4C132.8 103.6 137.2 105.2 140.8 105.7C144.5 106.3 148.8 105.7 151.8 104.6C154.7 103.6 156.9 101.9 158.3 99.2C159.8 96.4 160.2 92.2 160.5 88.2C160.9 84.2 160.9 79.5 160.5 75.1C160.2 70.7 158.7 66.0 158.3 62.0C158.0 58.0 157.6 54.7 158.3 51.0C159.1 47.4 160.2 43.4 162.7 40.1C165.3 36.8 169.6 33.9 173.6 31.3C177.7 28.8 182.0 26.6 186.8 24.8C191.5 22.9 197.0 21.8 202.1 20.4C207.2 18.9 212.0 17.3 217.4 16.0C222.9 14.7 232.0 12.9 234.9 12.3" fill="none" stroke="#ff0000" stroke-width="2.5" stroke-linecap="round" stroke-linejoin="round"/><path d="M148.5 -0.4C149.8 1.2 153.0 6.9 156.1 9.4C159.2 12.0 163.1 13.6 167.1 14.9C171.1 16.2 175.8 17.1 180.2 17.1C184.6 17.1 189.0 16.0 193.3 14.9C197.7 13.8 202.1 12.4 206.5 10.5C210.9 8.7 216.3 5.8 219.6 4.0C222.9 2.1 225.1 0.3 226.2 -0.4" fill="none" stroke="#ff0000" stroke-width="2.5" stroke-linecap="round" stroke-linejoin="round"/><path d="M27.0 72.9C27.4 70.7 27.7 68.0 29.2 66.3C30.6 64.7 33.6 62.9 35.7 63.1C37.9 63.2 40.1 65.1 42.3 67.4C44.5 69.8 47.1 74.2 48.9 77.3C50.7 80.4 52.2 82.9 53.3 86.0C54.4 89.1 56.2 93.9 55.4 95.9C54.7 97.9 51.4 98.3 48.9 98.1C46.3 97.9 42.9 96.4 40.1 94.8C37.4 93.2 34.7 90.8 32.5 88.2C30.3 85.7 27.9 82.0 27.0 79.5C26.1 76.9 26.6 75.1 27.0 72.9Z" fill="none" stroke="#0000ff" stroke-width="2.5" stroke-linecap="round" stroke-linejoin="round"/><path d="M193.3 62.0C193.7 58.3 193.7 54.1 195.5 51.0C197.4 47.9 201.0 44.8 204.3 43.4C207.6 41.9 211.6 41.9 215.2 42.3C218.9 42.6 222.2 43.7 226.2 45.5C230.2 47.4 236.8 46.8 239.3 53.2C241.9 59.6 242.8 77.1 241.5 83.9C240.2 90.6 234.6 91.3 231.7 93.7C228.7 96.1 226.7 97.4 224.0 98.1C221.3 98.8 218.2 99.0 215.2 98.1C212.3 97.2 209.4 95.0 206.5 92.6C203.6 90.2 199.9 87.1 197.7 83.9C195.5 80.6 194.1 76.6 193.3 72.9C192.6 69.3 193.0 65.6 193.3 62.0Z" fill="none" stroke="#0000ff" stroke-width="2.5" stroke-linecap="round" stroke-linejoin="round"/>
<use href="#map"/>
</g>
<rect x="0" y="0" width="234.4" height="144.9" fill="none" stroke="#000" stroke-width="4.3" stroke-linejoin="round"/>
</g>
<g transform="translate(1694.88,480.70)">
<text transform="matrix(1 0 0 1.04 -2.3 -4.7)" font-size="18.8">Phase 7, MVP-</text>
<text transform="matrix(1 0 0 1.04 234.7 -3.1)" font-size="18.8" text-anchor="end">16 events</text>
<g clip-path="url(#pc)">
<path d="M95.1 62.4L101.4 63.0L102.2 53.8L96.1 53.3Z" fill="#1e90ff" stroke="#1e90ff" stroke-width="0.35"/><path d="M52.8 53.8L58.6 55.5L61.3 46.7L55.8 45.1ZM50.4 43.3L55.8 45.1L58.9 36.5L53.8 34.7ZM92.4 89.8L99.5 90.4L100.1 81.3L93.3 80.7ZM99.5 90.4L106.6 90.8L107.0 81.6L100.1 81.3ZM106.6 90.8L113.8 91.0L113.9 81.8L107.0 81.6ZM93.3 80.7L100.1 81.3L100.8 72.1L94.2 71.5ZM100.1 81.3L107.0 81.6L107.4 72.5L100.8 72.1ZM107.0 81.6L113.9 81.8L114.0 72.6L107.4 72.5ZM87.6 70.8L94.2 71.5L95.1 62.4L88.9 61.7ZM94.2 71.5L100.8 72.1L101.4 63.0L95.1 62.4ZM100.8 72.1L107.4 72.5L107.8 63.3L101.4 63.0ZM107.4 72.5L114.0 72.6L114.1 63.5L107.8 63.3ZM58.6 55.5L64.5 57.1L66.9 48.3L61.3 46.7ZM64.5 57.1L70.4 58.5L72.6 49.6L66.9 48.3ZM70.4 58.5L76.5 59.8L78.4 50.8L72.6 49.6ZM76.5 59.8L82.7 60.8L84.3 51.8L78.4 50.8ZM82.7 60.8L88.9 61.7L90.2 52.7L84.3 51.8ZM88.9 61.7L95.1 62.4L96.1 53.3L90.2 52.7ZM101.4 63.0L107.8 63.3L108.2 54.2L102.2 53.8ZM107.8 63.3L114.1 63.5L114.3 54.3L108.2 54.2ZM55.8 45.1L61.3 46.7L64.1 38.1L58.9 36.5ZM61.3 46.7L66.9 48.3L69.4 39.5L64.1 38.1ZM66.9 48.3L72.6 49.6L74.8 40.8L69.4 39.5ZM72.6 49.6L78.4 50.8L80.3 41.9L74.8 40.8ZM78.4 50.8L84.3 51.8L85.9 42.9L80.3 41.9ZM84.3 51.8L90.2 52.7L91.5 43.7L85.9 42.9ZM108.2 54.2L114.3 54.3L114.4 45.3L108.6 45.1ZM114.3 54.3L120.3 54.3L120.1 45.2L114.4 45.3ZM120.3 54.3L126.4 54.1L125.9 45.1L120.1 45.2ZM53.8 34.7L58.9 36.5L62.1 27.9L57.3 26.3ZM58.9 36.5L64.1 38.1L67.0 29.4L62.1 27.9ZM64.1 38.1L69.4 39.5L72.0 30.8L67.0 29.4ZM108.6 45.1L114.4 45.3L114.5 36.2L109.1 36.1Z" fill="#00bfff" stroke="#00bfff" stroke-width="0.35"/><path d="M47.2 51.8L52.8 53.8L55.8 45.1L50.4 43.3ZM45.1 41.3L50.4 43.3L53.8 34.7L48.8 32.9ZM7.6 31.1L11.9 34.2L16.8 26.4L12.7 23.5ZM11.9 34.2L16.4 37.1L21.1 29.2L16.8 26.4ZM16.4 37.1L21.1 39.9L25.6 31.9L21.1 29.2Z" fill="#a0d2ff" stroke="#a0d2ff" stroke-width="0.35"/><path d="M-0.6 137.4L6.5 140.7L8.3 132.4L1.2 129.2ZM6.5 140.7L13.9 143.7L15.5 135.4L8.3 132.4ZM13.9 143.7L21.5 146.6L23.0 138.2L15.5 135.4ZM1.2 129.2L8.3 132.4L10.2 124.1L3.3 121.0ZM8.3 132.4L15.5 135.4L17.3 127.1L10.2 124.1ZM15.5 135.4L23.0 138.2L24.6 129.8L17.3 127.1ZM23.0 138.2L30.6 140.8L32.1 132.3L24.6 129.8ZM3.3 121.0L10.2 124.1L12.4 115.7L5.6 112.6ZM153.5 125.0L161.3 123.9L160.2 114.9L152.6 116.1ZM161.3 123.9L169.1 122.5L167.8 113.6L160.2 114.9Z" fill="#ffe132" stroke="#ffe132" stroke-width="0.35"/>
<path d="M3.8 -0.4C5.8 1.6 12.0 7.8 15.8 11.6C19.7 15.5 23.3 18.9 26.8 22.6C30.2 26.2 34.1 29.9 36.6 33.5C39.2 37.2 41.4 40.4 42.1 44.5C42.8 48.5 42.1 53.9 41.0 57.6C39.9 61.2 38.3 63.8 35.5 66.3C32.8 68.9 28.2 71.1 24.6 72.9C20.9 74.7 17.6 76.1 13.6 77.3C9.6 78.5 2.7 79.5 0.5 79.9" fill="none" stroke="#0000ff" stroke-width="2.5" stroke-linecap="round" stroke-linejoin="round"/><path d="M101.2 37.9C101.0 35.5 101.9 33.3 103.4 31.3C104.8 29.3 106.7 27.1 109.9 25.8C113.2 24.6 118.7 23.8 123.1 23.7C127.5 23.5 132.2 23.8 136.2 24.8C140.2 25.7 144.8 26.9 147.2 29.1C149.5 31.3 150.4 35.2 150.4 37.9C150.4 40.6 149.2 43.2 147.2 45.5C145.1 47.9 141.3 50.5 138.4 52.1C135.5 53.8 132.6 55.0 129.6 55.4C126.7 55.8 123.8 55.0 120.9 54.3C118.0 53.6 114.9 52.5 112.1 51.0C109.4 49.6 106.3 47.7 104.5 45.5C102.6 43.4 101.4 40.3 101.2 37.9Z" fill="none" stroke="#0000ff" stroke-width="2.5" stroke-linecap="round" stroke-linejoin="round"/>
<use href="#map"/>
</g>
<rect x="0" y="0" width="234.4" height="144.9" fill="none" stroke="#000" stroke-width="4.3" stroke-linejoin="round"/>
</g>
<g transform="translate(1976.11,480.70)">
<text transform="matrix(1 0 0 1.04 -2.3 -4.7)" font-size="18.8">Phase 8, MVP-</text>
<text transform="matrix(1 0 0 1.04 234.7 -3.1)" font-size="18.8" text-anchor="end">16 events</text>
<g clip-path="url(#pc)">
<path d="M185.8 90.6L192.5 88.5L190.0 79.7L183.5 81.7ZM192.5 88.5L199.0 86.2L196.3 77.5L190.0 79.7ZM183.5 81.7L190.0 79.7L187.4 70.9L181.1 72.9ZM190.0 79.7L196.3 77.5L193.5 68.8L187.4 70.9ZM181.1 72.9L187.4 70.9L184.6 62.2L178.6 64.0ZM187.4 70.9L193.5 68.8L190.5 60.1L184.6 62.2Z" fill="#00bfff" stroke="#00bfff" stroke-width="0.35"/><path d="M175.3 112.0L182.7 110.2L180.9 101.4L173.7 103.1ZM182.7 110.2L189.9 108.2L187.9 99.4L180.9 101.4ZM189.9 108.2L197.0 106.0L194.8 97.3L187.9 99.4ZM197.0 106.0L204.0 103.6L201.6 94.9L194.8 97.3ZM204.0 103.6L210.8 101.0L208.2 92.4L201.6 94.9ZM173.7 103.1L180.9 101.4L178.9 92.5L172.0 94.1ZM180.9 101.4L187.9 99.4L185.8 90.6L178.9 92.5ZM187.9 99.4L194.8 97.3L192.5 88.5L185.8 90.6ZM194.8 97.3L201.6 94.9L199.0 86.2L192.5 88.5ZM201.6 94.9L208.2 92.4L205.4 83.8L199.0 86.2ZM178.9 92.5L185.8 90.6L183.5 81.7L176.9 83.5ZM199.0 86.2L205.4 83.8L202.5 75.2L196.3 77.5ZM205.4 83.8L211.7 81.1L208.6 72.6L202.5 75.2ZM211.7 81.1L217.7 78.3L214.4 69.9L208.6 72.6ZM196.3 77.5L202.5 75.2L199.4 66.5L193.5 68.8ZM202.5 75.2L208.6 72.6L205.3 64.1L199.4 66.5Z" fill="#a0d2ff" stroke="#a0d2ff" stroke-width="0.35"/><path d="M213.4 146.1L220.9 143.2L219.3 134.9L211.9 137.8ZM220.9 143.2L228.2 140.1L226.5 131.9L219.3 134.9ZM228.2 140.1L235.3 136.8L233.5 128.7L226.5 131.9ZM204.3 140.4L211.9 137.8L210.1 129.4L202.7 131.9ZM211.9 137.8L219.3 134.9L217.4 126.6L210.1 129.4ZM219.3 134.9L226.5 131.9L224.5 123.6L217.4 126.6ZM226.5 131.9L233.5 128.7L231.4 120.4L224.5 123.6ZM217.4 126.6L224.5 123.6L222.3 115.2L215.4 118.1ZM224.5 123.6L231.4 120.4L229.1 112.1L222.3 115.2ZM213.2 109.6L220.0 106.7L217.4 98.2L210.8 101.0ZM220.0 106.7L226.5 103.7L223.8 95.3L217.4 98.2ZM226.5 103.7L232.9 100.4L230.0 92.1L223.8 95.3Z" fill="#d2f5ff" stroke="#d2f5ff" stroke-width="0.35"/>
<path d="M164.6 16.0C165.4 14.7 167.2 13.1 169.0 12.7C170.8 12.4 173.0 12.5 175.6 13.8C178.1 15.1 181.4 17.8 184.3 20.4C187.2 22.9 190.2 26.2 193.1 29.1C196.0 32.1 199.3 34.6 201.8 37.9C204.4 41.2 206.9 45.2 208.4 48.8C209.9 52.5 210.6 56.7 210.6 59.8C210.6 62.9 210.2 65.6 208.4 67.4C206.6 69.3 203.3 70.4 199.6 70.7C196.0 71.1 190.2 70.7 186.5 69.6C182.9 68.5 179.9 66.5 177.8 64.2C175.6 61.8 173.7 58.3 173.4 55.4C173.0 52.5 174.8 49.2 175.6 46.6C176.3 44.1 178.1 42.6 177.8 40.1C177.4 37.5 175.2 33.9 173.4 31.3C171.6 28.8 168.3 26.6 166.8 24.8C165.4 22.9 165.0 21.8 164.6 20.4C164.3 18.9 163.9 17.3 164.6 16.0Z" fill="none" stroke="#0000ff" stroke-width="2.5" stroke-linecap="round" stroke-linejoin="round"/><path d="M-0.6 5.5C1.4 5.2 7.6 4.6 11.4 4.0C15.2 3.3 19.1 2.5 22.3 1.8C25.6 1.0 29.6 -0.1 31.1 -0.4" fill="none" stroke="#0000ff" stroke-width="2.5" stroke-linecap="round" stroke-linejoin="round"/>
<use href="#map"/>
</g>
<rect x="0" y="0" width="234.4" height="144.9" fill="none" stroke="#000" stroke-width="4.3" stroke-linejoin="round"/>
</g>
<rect x="127.2" y="652.1" width="115.0" height="14.0" fill="#8524ee" stroke="#000" stroke-width="2"/>
<rect x="242.2" y="652.1" width="115.0" height="14.0" fill="#000096" stroke="#000" stroke-width="2"/>
<rect x="357.2" y="652.1" width="115.0" height="14.0" fill="#0000cd" stroke="#000" stroke-width="2"/>
<rect x="472.2" y="652.1" width="115.0" height="14.0" fill="#1e90ff" stroke="#000" stroke-width="2"/>
<rect x="587.2" y="652.1" width="115.0" height="14.0" fill="#00bfff" stroke="#000" stroke-width="2"/>
<rect x="702.2" y="652.1" width="115.0" height="14.0" fill="#a0d2ff" stroke="#000" stroke-width="2"/>
<rect x="817.2" y="652.1" width="115.0" height="14.0" fill="#d2f5ff" stroke="#000" stroke-width="2"/>
<rect x="932.2" y="652.1" width="115.0" height="14.0" fill="#ffffc8" stroke="#000" stroke-width="2"/>
<rect x="1047.2" y="652.1" width="115.0" height="14.0" fill="#ffe132" stroke="#000" stroke-width="2"/>
<rect x="1162.2" y="652.1" width="115.0" height="14.0" fill="#ffaa00" stroke="#000" stroke-width="2"/>
<rect x="1277.2" y="652.1" width="115.0" height="14.0" fill="#ff6e00" stroke="#000" stroke-width="2"/>
<rect x="1392.2" y="652.1" width="115.0" height="14.0" fill="#c00000" stroke="#000" stroke-width="2"/>
<rect x="1507.2" y="652.1" width="115.0" height="14.0" fill="#a52a2a" stroke="#000" stroke-width="2"/>
<rect x="1622.2" y="652.1" width="115.0" height="14.0" fill="#ff69b4" stroke="#000" stroke-width="2"/>
<text x="242.2" y="702.3" font-size="44.5" text-anchor="middle">-6</text>
<text x="357.2" y="702.3" font-size="44.5" text-anchor="middle">-5</text>
<text x="472.2" y="702.3" font-size="44.5" text-anchor="middle">-4</text>
<text x="587.2" y="702.3" font-size="44.5" text-anchor="middle">-3</text>
<text x="702.2" y="702.3" font-size="44.5" text-anchor="middle">-2</text>
<text x="817.2" y="702.3" font-size="44.5" text-anchor="middle">-1</text>
<text x="932.2" y="702.3" font-size="44.5" text-anchor="middle">0</text>
<text x="1047.2" y="702.3" font-size="44.5" text-anchor="middle">1</text>
<text x="1162.2" y="702.3" font-size="44.5" text-anchor="middle">2</text>
<text x="1277.2" y="702.3" font-size="44.5" text-anchor="middle">3</text>
<text x="1392.2" y="702.3" font-size="44.5" text-anchor="middle">4</text>
<text x="1507.2" y="702.3" font-size="44.5" text-anchor="middle">5</text>
<text x="1622.2" y="702.3" font-size="44.5" text-anchor="middle">6</text>
<text x="1891" y="688.9" font-size="43.5">degC</text>
</svg></body></html>
